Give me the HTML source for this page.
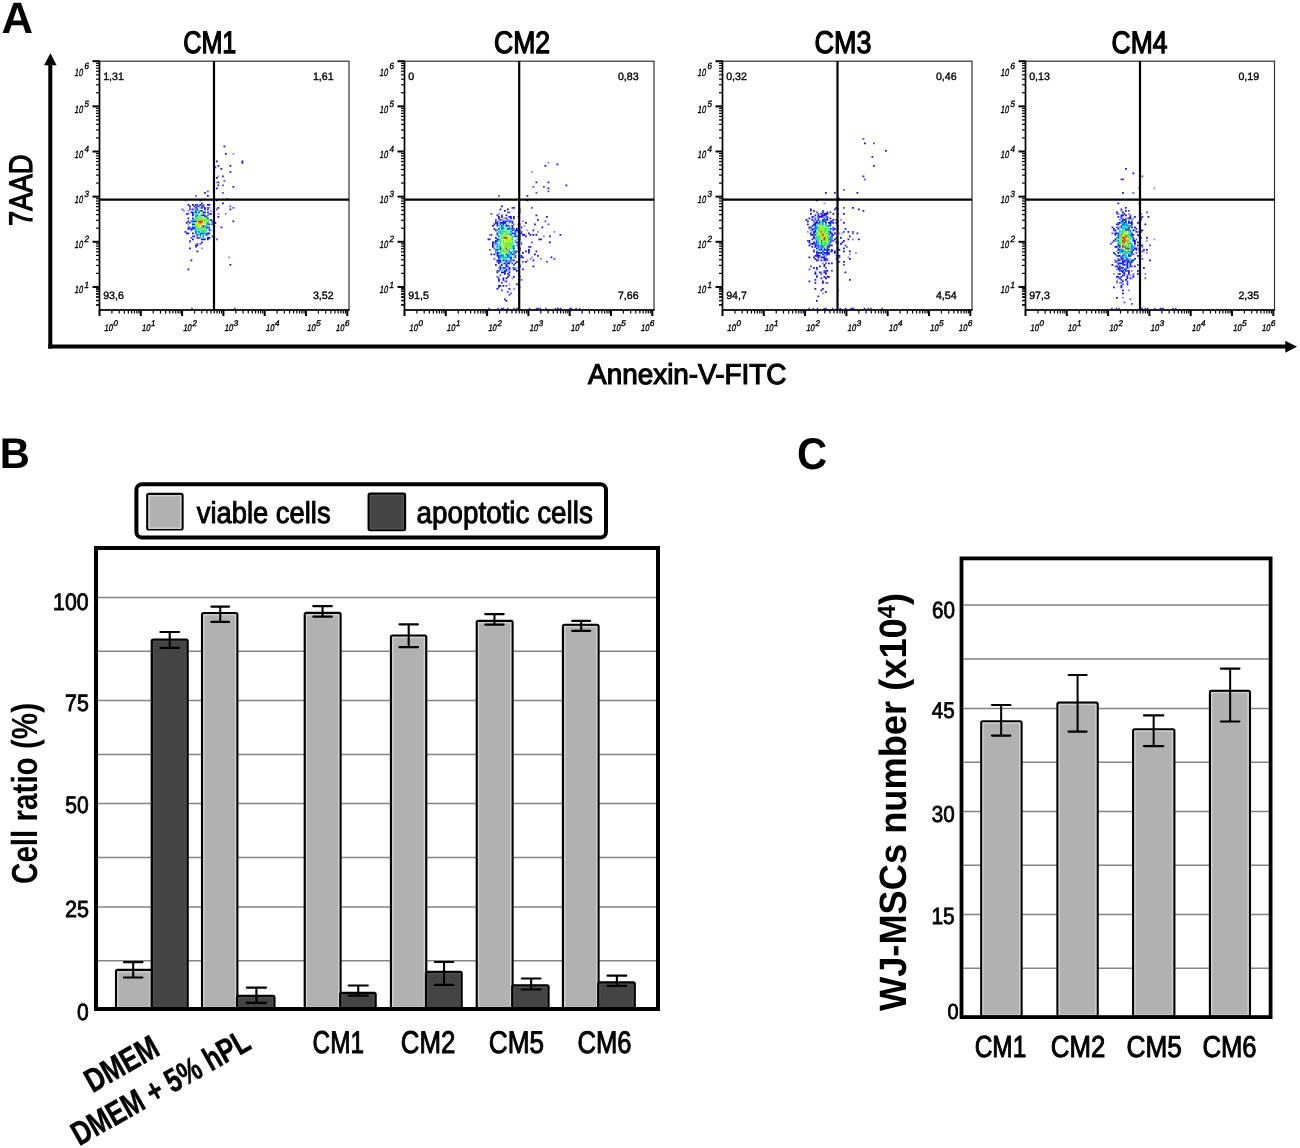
<!DOCTYPE html>
<html><head><meta charset="utf-8"><title>Figure</title>
<style>
html,body{margin:0;padding:0;background:#fff;}
body{width:1300px;height:1148px;overflow:hidden;}
svg{display:block;font-family:"Liberation Sans", sans-serif;filter:blur(0.35px);text-rendering:geometricPrecision;}
</style></head><body>
<svg width="1300" height="1148" viewBox="0 0 1300 1148">
<rect width="1300" height="1148" fill="#fff"/>
<line x1="50.30" y1="62.00" x2="50.30" y2="348.50" stroke="#000" stroke-width="4" stroke-linecap="butt"/>
<line x1="48.30" y1="346.60" x2="1288.00" y2="346.60" stroke="#000" stroke-width="4" stroke-linecap="butt"/>
<polygon points="50.4,53.3 44,65.2 56.6,65.2" fill="#000"/>
<polygon points="1297,346.8 1285.3,340.8 1285.3,352.8" fill="#000"/>
<text transform="translate(31.9,226) rotate(-90)" font-size="32.7" textLength="71.5" lengthAdjust="spacingAndGlyphs" stroke="#000" stroke-width="1.2">7AAD</text>
<rect x="99.5" y="61.2" width="249.5" height="248.8" fill="#fff" stroke="#333" stroke-width="1.2"/>
<path d="M201.0 210.0h1.8v1.8h-1.8zM207.0 232.5h1.8v1.8h-1.8zM192.0 232.5h1.8v1.8h-1.8zM186.0 213.0h1.8v1.8h-1.8zM217.5 207.0h1.8v1.8h-1.8zM204.0 211.5h1.8v1.8h-1.8zM187.5 228.0h1.8v1.8h-1.8zM189.0 205.5h1.8v1.8h-1.8zM208.5 237.0h1.8v1.8h-1.8zM192.0 223.5h1.8v1.8h-1.8zM207.0 195.0h1.8v1.8h-1.8zM207.0 204.0h1.8v1.8h-1.8zM213.0 231.0h1.8v1.8h-1.8zM195.0 210.0h1.8v1.8h-1.8zM196.5 205.5h1.8v1.8h-1.8zM196.5 250.5h1.8v1.8h-1.8zM195.0 244.5h1.8v1.8h-1.8zM207.0 208.5h1.8v1.8h-1.8zM210.0 213.0h1.8v1.8h-1.8zM207.0 226.5h1.8v1.8h-1.8zM195.0 204.0h1.8v1.8h-1.8zM187.5 232.5h1.8v1.8h-1.8zM195.0 231.0h1.8v1.8h-1.8zM213.0 214.5h1.8v1.8h-1.8zM213.0 208.5h1.8v1.8h-1.8zM186.0 222.0h1.8v1.8h-1.8zM204.0 238.5h1.8v1.8h-1.8zM192.0 208.5h1.8v1.8h-1.8zM202.5 205.5h1.8v1.8h-1.8zM184.5 231.0h1.8v1.8h-1.8zM208.5 223.5h1.8v1.8h-1.8zM187.5 217.5h1.8v1.8h-1.8zM192.0 211.5h1.8v1.8h-1.8zM199.5 204.0h1.8v1.8h-1.8zM193.5 235.5h1.8v1.8h-1.8zM202.5 211.5h1.8v1.8h-1.8zM193.5 220.5h1.8v1.8h-1.8zM207.0 238.5h1.8v1.8h-1.8zM201.0 241.5h1.8v1.8h-1.8zM193.5 205.5h1.8v1.8h-1.8zM190.5 211.5h1.8v1.8h-1.8zM204.0 208.5h1.8v1.8h-1.8zM214.5 222.0h1.8v1.8h-1.8zM207.0 217.5h1.8v1.8h-1.8zM199.5 199.5h1.8v1.8h-1.8zM196.5 234.0h1.8v1.8h-1.8zM211.5 223.5h1.8v1.8h-1.8zM201.0 232.5h1.8v1.8h-1.8zM192.0 204.0h1.8v1.8h-1.8zM192.0 217.5h1.8v1.8h-1.8zM205.5 234.0h1.8v1.8h-1.8zM207.0 237.0h1.8v1.8h-1.8zM202.5 238.5h1.8v1.8h-1.8zM193.5 223.5h1.8v1.8h-1.8zM201.0 207.0h1.8v1.8h-1.8zM186.0 232.5h1.8v1.8h-1.8zM187.5 204.0h1.8v1.8h-1.8zM213.0 222.0h1.8v1.8h-1.8zM202.5 214.5h1.8v1.8h-1.8zM208.5 204.0h1.8v1.8h-1.8zM187.5 220.5h1.8v1.8h-1.8zM201.0 238.5h1.8v1.8h-1.8zM196.5 244.5h1.8v1.8h-1.8zM196.5 208.5h1.8v1.8h-1.8zM204.0 207.0h1.8v1.8h-1.8zM190.5 228.0h1.8v1.8h-1.8zM213.0 238.5h1.8v1.8h-1.8zM192.0 213.0h1.8v1.8h-1.8zM192.0 214.5h1.8v1.8h-1.8zM208.5 232.5h1.8v1.8h-1.8zM204.0 192.0h1.8v1.8h-1.8zM207.0 211.5h1.8v1.8h-1.8zM222.0 175.5h1.8v1.8h-1.8zM223.5 145.5h1.8v1.8h-1.8zM217.5 216.0h1.8v1.8h-1.8zM220.5 168.0h1.8v1.8h-1.8zM216.0 199.5h1.8v1.8h-1.8zM216.0 177.0h1.8v1.8h-1.8zM217.5 184.5h1.8v1.8h-1.8zM217.5 181.5h1.8v1.8h-1.8zM222.0 202.5h1.8v1.8h-1.8zM214.5 166.5h1.8v1.8h-1.8zM217.5 165.0h1.8v1.8h-1.8zM226.5 198.0h1.8v1.8h-1.8zM232.5 186.0h1.8v1.8h-1.8zM225.0 153.0h1.8v1.8h-1.8zM241.5 160.5h1.8v1.8h-1.8zM216.0 160.5h1.8v1.8h-1.8zM216.0 187.5h1.8v1.8h-1.8zM229.5 171.0h1.8v1.8h-1.8zM229.5 165.0h1.8v1.8h-1.8zM241.5 162.0h1.8v1.8h-1.8zM220.5 226.5h1.8v1.8h-1.8zM229.5 208.5h1.8v1.8h-1.8zM232.5 220.5h1.8v1.8h-1.8zM229.5 264.0h1.8v1.8h-1.8zM190.5 259.5h1.8v1.8h-1.8zM189.0 247.5h1.8v1.8h-1.8zM196.5 237.0h1.8v1.8h-1.8zM187.5 268.5h1.8v1.8h-1.8zM192.0 238.5h1.8v1.8h-1.8z" fill="rgb(20, 20, 255)"/>
<path d="M187.5 210.0h1.8v1.8h-1.8zM189.0 207.0h1.8v1.8h-1.8zM187.5 223.5h1.8v1.8h-1.8zM210.0 229.5h1.8v1.8h-1.8zM199.5 237.0h1.8v1.8h-1.8zM190.5 208.5h1.8v1.8h-1.8zM196.5 235.5h1.8v1.8h-1.8zM204.0 232.5h1.8v1.8h-1.8zM189.0 241.5h1.8v1.8h-1.8zM183.0 210.0h1.8v1.8h-1.8zM211.5 222.0h1.8v1.8h-1.8zM193.5 208.5h1.8v1.8h-1.8zM201.0 204.0h1.8v1.8h-1.8zM210.0 210.0h1.8v1.8h-1.8zM208.5 207.0h1.8v1.8h-1.8zM232.5 153.0h1.8v1.8h-1.8zM217.5 213.0h1.8v1.8h-1.8zM216.0 181.5h1.8v1.8h-1.8zM217.5 175.5h1.8v1.8h-1.8zM228.0 256.5h1.8v1.8h-1.8zM225.0 213.0h1.8v1.8h-1.8zM201.0 247.5h1.8v1.8h-1.8z" fill="rgb(135, 135, 255)"/>
<path d="M201.0 205.5h1.8v1.8h-1.8zM216.0 238.5h1.8v1.8h-1.8zM192.0 235.5h1.8v1.8h-1.8zM189.0 208.5h1.8v1.8h-1.8zM216.0 208.5h1.8v1.8h-1.8zM198.0 205.5h1.8v1.8h-1.8zM181.5 208.5h1.8v1.8h-1.8zM208.5 228.0h1.8v1.8h-1.8zM195.0 195.0h1.8v1.8h-1.8zM198.0 237.0h1.8v1.8h-1.8zM187.5 226.5h1.8v1.8h-1.8zM189.0 222.0h1.8v1.8h-1.8zM189.0 240.0h1.8v1.8h-1.8zM184.5 199.5h1.8v1.8h-1.8zM202.5 204.0h1.8v1.8h-1.8zM202.5 235.5h1.8v1.8h-1.8zM190.5 220.5h1.8v1.8h-1.8zM196.5 204.0h1.8v1.8h-1.8zM193.5 228.0h1.8v1.8h-1.8zM190.5 229.5h1.8v1.8h-1.8zM196.5 243.0h1.8v1.8h-1.8zM207.0 214.5h1.8v1.8h-1.8zM187.5 213.0h1.8v1.8h-1.8zM189.0 228.0h1.8v1.8h-1.8zM208.5 213.0h1.8v1.8h-1.8zM208.5 229.5h1.8v1.8h-1.8zM195.0 246.0h1.8v1.8h-1.8zM189.0 226.5h1.8v1.8h-1.8zM190.5 237.0h1.8v1.8h-1.8zM207.0 207.0h1.8v1.8h-1.8zM201.0 202.5h1.8v1.8h-1.8zM213.0 207.0h1.8v1.8h-1.8zM211.5 235.5h1.8v1.8h-1.8zM222.0 184.5h1.8v1.8h-1.8zM232.5 207.0h1.8v1.8h-1.8zM229.5 205.5h1.8v1.8h-1.8zM223.5 180.0h1.8v1.8h-1.8zM213.0 187.5h1.8v1.8h-1.8zM207.0 190.5h1.8v1.8h-1.8zM222.0 192.0h1.8v1.8h-1.8zM199.5 243.0h1.8v1.8h-1.8z" fill="rgb(75, 75, 255)"/>
<path d="M195.0 220.5h1.8v1.8h-1.8zM210.0 219.0h1.8v1.8h-1.8z" fill="rgb(0, 0, 255)"/>
<path d="M195.0 211.5h1.8v1.8h-1.8zM193.5 226.5h1.8v1.8h-1.8zM195.0 207.0h1.8v1.8h-1.8zM205.5 216.0h1.8v1.8h-1.8zM192.0 226.5h1.8v1.8h-1.8zM201.0 214.5h1.8v1.8h-1.8z" fill="rgb(0, 32, 255)"/>
<path d="M198.0 211.5h1.8v1.8h-1.8zM196.5 214.5h1.8v1.8h-1.8zM192.0 220.5h1.8v1.8h-1.8zM199.5 234.0h1.8v1.8h-1.8zM211.5 220.5h1.8v1.8h-1.8zM204.0 214.5h1.8v1.8h-1.8z" fill="rgb(0, 64, 255)"/>
<path d="M198.0 231.0h1.8v1.8h-1.8zM199.5 232.5h1.8v1.8h-1.8zM202.5 232.5h1.8v1.8h-1.8zM192.0 228.0h1.8v1.8h-1.8zM199.5 210.0h1.8v1.8h-1.8zM195.0 216.0h1.8v1.8h-1.8z" fill="rgb(0, 96, 255)"/>
<path d="M202.5 213.0h1.8v1.8h-1.8zM207.0 222.0h1.8v1.8h-1.8zM202.5 226.5h1.8v1.8h-1.8zM204.0 216.0h1.8v1.8h-1.8zM195.0 232.5h1.8v1.8h-1.8zM207.0 223.5h1.8v1.8h-1.8zM205.5 232.5h1.8v1.8h-1.8z" fill="rgb(0, 128, 255)"/>
<path d="M205.5 225.0h1.8v1.8h-1.8zM208.5 226.5h1.8v1.8h-1.8zM193.5 219.0h1.8v1.8h-1.8zM205.5 228.0h1.8v1.8h-1.8zM205.5 226.5h1.8v1.8h-1.8zM202.5 229.5h1.8v1.8h-1.8z" fill="rgb(0, 160, 255)"/>
<path d="M195.0 214.5h1.8v1.8h-1.8zM192.0 219.0h1.8v1.8h-1.8zM207.0 234.0h1.8v1.8h-1.8zM202.5 234.0h1.8v1.8h-1.8zM201.0 226.5h1.8v1.8h-1.8zM205.5 222.0h1.8v1.8h-1.8zM198.0 228.0h1.8v1.8h-1.8zM195.0 228.0h1.8v1.8h-1.8zM195.0 229.5h1.8v1.8h-1.8z" fill="rgb(0, 192, 255)"/>
<path d="M202.5 237.0h1.8v1.8h-1.8zM193.5 211.5h1.8v1.8h-1.8zM192.0 225.0h1.8v1.8h-1.8z" fill="rgb(0, 224, 255)"/>
<path d="M196.5 213.0h1.8v1.8h-1.8zM199.5 235.5h1.8v1.8h-1.8zM195.0 213.0h1.8v1.8h-1.8zM196.5 231.0h1.8v1.8h-1.8zM196.5 217.5h1.8v1.8h-1.8z" fill="rgb(0, 224, 224)"/>
<path d="M192.0 222.0h1.8v1.8h-1.8zM195.0 226.5h1.8v1.8h-1.8z" fill="rgb(0, 224, 192)"/>
<path d="M196.5 210.0h1.8v1.8h-1.8zM195.0 225.0h1.8v1.8h-1.8zM199.5 207.0h1.8v1.8h-1.8zM201.0 228.0h1.8v1.8h-1.8zM195.0 219.0h1.8v1.8h-1.8zM204.0 225.0h1.8v1.8h-1.8z" fill="rgb(32, 224, 192)"/>
<path d="M207.0 219.0h1.8v1.8h-1.8zM196.5 228.0h1.8v1.8h-1.8zM198.0 232.5h1.8v1.8h-1.8zM202.5 231.0h1.8v1.8h-1.8zM201.0 231.0h1.8v1.8h-1.8zM204.0 231.0h1.8v1.8h-1.8zM205.5 229.5h1.8v1.8h-1.8zM204.0 226.5h1.8v1.8h-1.8zM198.0 210.0h1.8v1.8h-1.8z" fill="rgb(32, 224, 160)"/>
<path d="M199.5 214.5h1.8v1.8h-1.8zM204.0 220.5h1.8v1.8h-1.8zM199.5 228.0h1.8v1.8h-1.8zM198.0 229.5h1.8v1.8h-1.8z" fill="rgb(32, 255, 128)"/>
<path d="M204.0 228.0h1.8v1.8h-1.8zM196.5 219.0h1.8v1.8h-1.8z" fill="rgb(64, 255, 128)"/>
<path d="M201.0 234.0h1.8v1.8h-1.8zM198.0 216.0h1.8v1.8h-1.8zM201.0 229.5h1.8v1.8h-1.8zM201.0 225.0h1.8v1.8h-1.8zM205.5 217.5h1.8v1.8h-1.8z" fill="rgb(64, 255, 96)"/>
<path d="M202.5 219.0h1.8v1.8h-1.8zM199.5 229.5h1.8v1.8h-1.8zM199.5 217.5h1.8v1.8h-1.8zM195.0 217.5h1.8v1.8h-1.8zM204.0 219.0h1.8v1.8h-1.8zM207.0 220.5h1.8v1.8h-1.8z" fill="rgb(64, 255, 64)"/>
<path d="M196.5 220.5h1.8v1.8h-1.8zM193.5 225.0h1.8v1.8h-1.8zM205.5 231.0h1.8v1.8h-1.8zM201.0 213.0h1.8v1.8h-1.8zM205.5 223.5h1.8v1.8h-1.8z" fill="rgb(96, 255, 64)"/>
<path d="M208.5 219.0h1.8v1.8h-1.8zM204.0 229.5h1.8v1.8h-1.8zM196.5 216.0h1.8v1.8h-1.8zM201.0 217.5h1.8v1.8h-1.8z" fill="rgb(96, 255, 32)"/>
<path d="M196.5 225.0h1.8v1.8h-1.8zM196.5 226.5h1.8v1.8h-1.8zM198.0 219.0h1.8v1.8h-1.8zM195.0 223.5h1.8v1.8h-1.8zM199.5 223.5h1.8v1.8h-1.8z" fill="rgb(128, 255, 32)"/>
<path d="M205.5 219.0h1.8v1.8h-1.8zM201.0 219.0h1.8v1.8h-1.8zM199.5 216.0h1.8v1.8h-1.8zM196.5 222.0h1.8v1.8h-1.8z" fill="rgb(128, 255, 0)"/>
<path d="M204.0 222.0h1.8v1.8h-1.8zM204.0 217.5h1.8v1.8h-1.8z" fill="rgb(160, 255, 0)"/>
<path d="M202.5 228.0h1.8v1.8h-1.8zM202.5 222.0h1.8v1.8h-1.8zM196.5 223.5h1.8v1.8h-1.8zM199.5 219.0h1.8v1.8h-1.8zM198.0 226.5h1.8v1.8h-1.8zM202.5 217.5h1.8v1.8h-1.8zM201.0 211.5h1.8v1.8h-1.8zM205.5 220.5h1.8v1.8h-1.8z" fill="rgb(192, 255, 0)"/>
<path d="M198.0 223.5h1.8v1.8h-1.8z" fill="rgb(224, 224, 0)"/>
<path d="M201.0 223.5h1.8v1.8h-1.8z" fill="rgb(255, 224, 0)"/>
<path d="M201.0 222.0h1.8v1.8h-1.8zM198.0 222.0h1.8v1.8h-1.8zM198.0 225.0h1.8v1.8h-1.8z" fill="rgb(255, 192, 0)"/>
<path d="M199.5 222.0h1.8v1.8h-1.8z" fill="rgb(255, 64, 0)"/>
<path d="M198.0 220.5h1.8v1.8h-1.8zM199.5 220.5h1.8v1.8h-1.8zM202.5 225.0h1.8v1.8h-1.8zM201.0 220.5h1.8v1.8h-1.8z" fill="rgb(255, 32, 0)"/>
<path d="M234.2 307.7h1.6v1.6h-1.6zM191.2 307.7h1.6v1.6h-1.6z" fill="rgb(50,50,255)"/>
<line x1="99.50" y1="199.60" x2="349.00" y2="199.60" stroke="#000" stroke-width="2.2" stroke-linecap="butt"/>
<line x1="214.00" y1="61.20" x2="214.00" y2="310.00" stroke="#000" stroke-width="2.2" stroke-linecap="butt"/>
<line x1="92.50" y1="61.20" x2="99.50" y2="61.20" stroke="#000" stroke-width="2" stroke-linecap="butt"/>
<line x1="96.00" y1="92.76" x2="99.50" y2="92.76" stroke="#000" stroke-width="1.2" stroke-linecap="butt"/>
<line x1="96.00" y1="84.81" x2="99.50" y2="84.81" stroke="#000" stroke-width="1.2" stroke-linecap="butt"/>
<line x1="96.00" y1="79.17" x2="99.50" y2="79.17" stroke="#000" stroke-width="1.2" stroke-linecap="butt"/>
<line x1="96.00" y1="74.79" x2="99.50" y2="74.79" stroke="#000" stroke-width="1.2" stroke-linecap="butt"/>
<line x1="96.00" y1="71.22" x2="99.50" y2="71.22" stroke="#000" stroke-width="1.2" stroke-linecap="butt"/>
<line x1="96.00" y1="68.19" x2="99.50" y2="68.19" stroke="#000" stroke-width="1.2" stroke-linecap="butt"/>
<line x1="96.00" y1="65.58" x2="99.50" y2="65.58" stroke="#000" stroke-width="1.2" stroke-linecap="butt"/>
<line x1="96.00" y1="63.27" x2="99.50" y2="63.27" stroke="#000" stroke-width="1.2" stroke-linecap="butt"/>
<line x1="92.50" y1="106.35" x2="99.50" y2="106.35" stroke="#000" stroke-width="2" stroke-linecap="butt"/>
<line x1="96.00" y1="137.91" x2="99.50" y2="137.91" stroke="#000" stroke-width="1.2" stroke-linecap="butt"/>
<line x1="96.00" y1="129.96" x2="99.50" y2="129.96" stroke="#000" stroke-width="1.2" stroke-linecap="butt"/>
<line x1="96.00" y1="124.32" x2="99.50" y2="124.32" stroke="#000" stroke-width="1.2" stroke-linecap="butt"/>
<line x1="96.00" y1="119.94" x2="99.50" y2="119.94" stroke="#000" stroke-width="1.2" stroke-linecap="butt"/>
<line x1="96.00" y1="116.37" x2="99.50" y2="116.37" stroke="#000" stroke-width="1.2" stroke-linecap="butt"/>
<line x1="96.00" y1="113.34" x2="99.50" y2="113.34" stroke="#000" stroke-width="1.2" stroke-linecap="butt"/>
<line x1="96.00" y1="110.73" x2="99.50" y2="110.73" stroke="#000" stroke-width="1.2" stroke-linecap="butt"/>
<line x1="96.00" y1="108.42" x2="99.50" y2="108.42" stroke="#000" stroke-width="1.2" stroke-linecap="butt"/>
<line x1="92.50" y1="151.50" x2="99.50" y2="151.50" stroke="#000" stroke-width="2" stroke-linecap="butt"/>
<line x1="96.00" y1="183.06" x2="99.50" y2="183.06" stroke="#000" stroke-width="1.2" stroke-linecap="butt"/>
<line x1="96.00" y1="175.11" x2="99.50" y2="175.11" stroke="#000" stroke-width="1.2" stroke-linecap="butt"/>
<line x1="96.00" y1="169.47" x2="99.50" y2="169.47" stroke="#000" stroke-width="1.2" stroke-linecap="butt"/>
<line x1="96.00" y1="165.09" x2="99.50" y2="165.09" stroke="#000" stroke-width="1.2" stroke-linecap="butt"/>
<line x1="96.00" y1="161.52" x2="99.50" y2="161.52" stroke="#000" stroke-width="1.2" stroke-linecap="butt"/>
<line x1="96.00" y1="158.49" x2="99.50" y2="158.49" stroke="#000" stroke-width="1.2" stroke-linecap="butt"/>
<line x1="96.00" y1="155.88" x2="99.50" y2="155.88" stroke="#000" stroke-width="1.2" stroke-linecap="butt"/>
<line x1="96.00" y1="153.57" x2="99.50" y2="153.57" stroke="#000" stroke-width="1.2" stroke-linecap="butt"/>
<line x1="92.50" y1="196.65" x2="99.50" y2="196.65" stroke="#000" stroke-width="2" stroke-linecap="butt"/>
<line x1="96.00" y1="228.21" x2="99.50" y2="228.21" stroke="#000" stroke-width="1.2" stroke-linecap="butt"/>
<line x1="96.00" y1="220.26" x2="99.50" y2="220.26" stroke="#000" stroke-width="1.2" stroke-linecap="butt"/>
<line x1="96.00" y1="214.62" x2="99.50" y2="214.62" stroke="#000" stroke-width="1.2" stroke-linecap="butt"/>
<line x1="96.00" y1="210.24" x2="99.50" y2="210.24" stroke="#000" stroke-width="1.2" stroke-linecap="butt"/>
<line x1="96.00" y1="206.67" x2="99.50" y2="206.67" stroke="#000" stroke-width="1.2" stroke-linecap="butt"/>
<line x1="96.00" y1="203.64" x2="99.50" y2="203.64" stroke="#000" stroke-width="1.2" stroke-linecap="butt"/>
<line x1="96.00" y1="201.03" x2="99.50" y2="201.03" stroke="#000" stroke-width="1.2" stroke-linecap="butt"/>
<line x1="96.00" y1="198.72" x2="99.50" y2="198.72" stroke="#000" stroke-width="1.2" stroke-linecap="butt"/>
<line x1="92.50" y1="241.80" x2="99.50" y2="241.80" stroke="#000" stroke-width="2" stroke-linecap="butt"/>
<line x1="96.00" y1="273.36" x2="99.50" y2="273.36" stroke="#000" stroke-width="1.2" stroke-linecap="butt"/>
<line x1="96.00" y1="265.41" x2="99.50" y2="265.41" stroke="#000" stroke-width="1.2" stroke-linecap="butt"/>
<line x1="96.00" y1="259.77" x2="99.50" y2="259.77" stroke="#000" stroke-width="1.2" stroke-linecap="butt"/>
<line x1="96.00" y1="255.39" x2="99.50" y2="255.39" stroke="#000" stroke-width="1.2" stroke-linecap="butt"/>
<line x1="96.00" y1="251.82" x2="99.50" y2="251.82" stroke="#000" stroke-width="1.2" stroke-linecap="butt"/>
<line x1="96.00" y1="248.79" x2="99.50" y2="248.79" stroke="#000" stroke-width="1.2" stroke-linecap="butt"/>
<line x1="96.00" y1="246.18" x2="99.50" y2="246.18" stroke="#000" stroke-width="1.2" stroke-linecap="butt"/>
<line x1="96.00" y1="243.87" x2="99.50" y2="243.87" stroke="#000" stroke-width="1.2" stroke-linecap="butt"/>
<line x1="92.50" y1="286.95" x2="99.50" y2="286.95" stroke="#000" stroke-width="2" stroke-linecap="butt"/>
<line x1="96.00" y1="304.92" x2="99.50" y2="304.92" stroke="#000" stroke-width="1.2" stroke-linecap="butt"/>
<line x1="96.00" y1="300.54" x2="99.50" y2="300.54" stroke="#000" stroke-width="1.2" stroke-linecap="butt"/>
<line x1="96.00" y1="296.97" x2="99.50" y2="296.97" stroke="#000" stroke-width="1.2" stroke-linecap="butt"/>
<line x1="96.00" y1="293.94" x2="99.50" y2="293.94" stroke="#000" stroke-width="1.2" stroke-linecap="butt"/>
<line x1="96.00" y1="291.33" x2="99.50" y2="291.33" stroke="#000" stroke-width="1.2" stroke-linecap="butt"/>
<line x1="96.00" y1="289.02" x2="99.50" y2="289.02" stroke="#000" stroke-width="1.2" stroke-linecap="butt"/>
<line x1="96.00" y1="304.92" x2="99.50" y2="304.92" stroke="#000" stroke-width="1.2" stroke-linecap="butt"/>
<line x1="96.00" y1="300.54" x2="99.50" y2="300.54" stroke="#000" stroke-width="1.2" stroke-linecap="butt"/>
<line x1="96.00" y1="296.97" x2="99.50" y2="296.97" stroke="#000" stroke-width="1.2" stroke-linecap="butt"/>
<line x1="96.00" y1="293.94" x2="99.50" y2="293.94" stroke="#000" stroke-width="1.2" stroke-linecap="butt"/>
<line x1="96.00" y1="291.33" x2="99.50" y2="291.33" stroke="#000" stroke-width="1.2" stroke-linecap="butt"/>
<line x1="96.00" y1="289.02" x2="99.50" y2="289.02" stroke="#000" stroke-width="1.2" stroke-linecap="butt"/>
<line x1="99.50" y1="310.00" x2="99.50" y2="316.00" stroke="#000" stroke-width="2" stroke-linecap="butt"/>
<line x1="111.93" y1="310.00" x2="111.93" y2="313.50" stroke="#000" stroke-width="1.2" stroke-linecap="butt"/>
<line x1="119.21" y1="310.00" x2="119.21" y2="313.50" stroke="#000" stroke-width="1.2" stroke-linecap="butt"/>
<line x1="124.37" y1="310.00" x2="124.37" y2="313.50" stroke="#000" stroke-width="1.2" stroke-linecap="butt"/>
<line x1="128.37" y1="310.00" x2="128.37" y2="313.50" stroke="#000" stroke-width="1.2" stroke-linecap="butt"/>
<line x1="131.64" y1="310.00" x2="131.64" y2="313.50" stroke="#000" stroke-width="1.2" stroke-linecap="butt"/>
<line x1="134.40" y1="310.00" x2="134.40" y2="313.50" stroke="#000" stroke-width="1.2" stroke-linecap="butt"/>
<line x1="136.80" y1="310.00" x2="136.80" y2="313.50" stroke="#000" stroke-width="1.2" stroke-linecap="butt"/>
<line x1="138.91" y1="310.00" x2="138.91" y2="313.50" stroke="#000" stroke-width="1.2" stroke-linecap="butt"/>
<line x1="140.80" y1="310.00" x2="140.80" y2="316.00" stroke="#000" stroke-width="2" stroke-linecap="butt"/>
<line x1="153.23" y1="310.00" x2="153.23" y2="313.50" stroke="#000" stroke-width="1.2" stroke-linecap="butt"/>
<line x1="160.51" y1="310.00" x2="160.51" y2="313.50" stroke="#000" stroke-width="1.2" stroke-linecap="butt"/>
<line x1="165.67" y1="310.00" x2="165.67" y2="313.50" stroke="#000" stroke-width="1.2" stroke-linecap="butt"/>
<line x1="169.67" y1="310.00" x2="169.67" y2="313.50" stroke="#000" stroke-width="1.2" stroke-linecap="butt"/>
<line x1="172.94" y1="310.00" x2="172.94" y2="313.50" stroke="#000" stroke-width="1.2" stroke-linecap="butt"/>
<line x1="175.70" y1="310.00" x2="175.70" y2="313.50" stroke="#000" stroke-width="1.2" stroke-linecap="butt"/>
<line x1="178.10" y1="310.00" x2="178.10" y2="313.50" stroke="#000" stroke-width="1.2" stroke-linecap="butt"/>
<line x1="180.21" y1="310.00" x2="180.21" y2="313.50" stroke="#000" stroke-width="1.2" stroke-linecap="butt"/>
<line x1="182.10" y1="310.00" x2="182.10" y2="316.00" stroke="#000" stroke-width="2" stroke-linecap="butt"/>
<line x1="194.53" y1="310.00" x2="194.53" y2="313.50" stroke="#000" stroke-width="1.2" stroke-linecap="butt"/>
<line x1="201.81" y1="310.00" x2="201.81" y2="313.50" stroke="#000" stroke-width="1.2" stroke-linecap="butt"/>
<line x1="206.97" y1="310.00" x2="206.97" y2="313.50" stroke="#000" stroke-width="1.2" stroke-linecap="butt"/>
<line x1="210.97" y1="310.00" x2="210.97" y2="313.50" stroke="#000" stroke-width="1.2" stroke-linecap="butt"/>
<line x1="214.24" y1="310.00" x2="214.24" y2="313.50" stroke="#000" stroke-width="1.2" stroke-linecap="butt"/>
<line x1="217.00" y1="310.00" x2="217.00" y2="313.50" stroke="#000" stroke-width="1.2" stroke-linecap="butt"/>
<line x1="219.40" y1="310.00" x2="219.40" y2="313.50" stroke="#000" stroke-width="1.2" stroke-linecap="butt"/>
<line x1="221.51" y1="310.00" x2="221.51" y2="313.50" stroke="#000" stroke-width="1.2" stroke-linecap="butt"/>
<line x1="223.40" y1="310.00" x2="223.40" y2="316.00" stroke="#000" stroke-width="2" stroke-linecap="butt"/>
<line x1="235.83" y1="310.00" x2="235.83" y2="313.50" stroke="#000" stroke-width="1.2" stroke-linecap="butt"/>
<line x1="243.11" y1="310.00" x2="243.11" y2="313.50" stroke="#000" stroke-width="1.2" stroke-linecap="butt"/>
<line x1="248.27" y1="310.00" x2="248.27" y2="313.50" stroke="#000" stroke-width="1.2" stroke-linecap="butt"/>
<line x1="252.27" y1="310.00" x2="252.27" y2="313.50" stroke="#000" stroke-width="1.2" stroke-linecap="butt"/>
<line x1="255.54" y1="310.00" x2="255.54" y2="313.50" stroke="#000" stroke-width="1.2" stroke-linecap="butt"/>
<line x1="258.30" y1="310.00" x2="258.30" y2="313.50" stroke="#000" stroke-width="1.2" stroke-linecap="butt"/>
<line x1="260.70" y1="310.00" x2="260.70" y2="313.50" stroke="#000" stroke-width="1.2" stroke-linecap="butt"/>
<line x1="262.81" y1="310.00" x2="262.81" y2="313.50" stroke="#000" stroke-width="1.2" stroke-linecap="butt"/>
<line x1="264.70" y1="310.00" x2="264.70" y2="316.00" stroke="#000" stroke-width="2" stroke-linecap="butt"/>
<line x1="277.13" y1="310.00" x2="277.13" y2="313.50" stroke="#000" stroke-width="1.2" stroke-linecap="butt"/>
<line x1="284.41" y1="310.00" x2="284.41" y2="313.50" stroke="#000" stroke-width="1.2" stroke-linecap="butt"/>
<line x1="289.57" y1="310.00" x2="289.57" y2="313.50" stroke="#000" stroke-width="1.2" stroke-linecap="butt"/>
<line x1="293.57" y1="310.00" x2="293.57" y2="313.50" stroke="#000" stroke-width="1.2" stroke-linecap="butt"/>
<line x1="296.84" y1="310.00" x2="296.84" y2="313.50" stroke="#000" stroke-width="1.2" stroke-linecap="butt"/>
<line x1="299.60" y1="310.00" x2="299.60" y2="313.50" stroke="#000" stroke-width="1.2" stroke-linecap="butt"/>
<line x1="302.00" y1="310.00" x2="302.00" y2="313.50" stroke="#000" stroke-width="1.2" stroke-linecap="butt"/>
<line x1="304.11" y1="310.00" x2="304.11" y2="313.50" stroke="#000" stroke-width="1.2" stroke-linecap="butt"/>
<line x1="306.00" y1="310.00" x2="306.00" y2="316.00" stroke="#000" stroke-width="2" stroke-linecap="butt"/>
<line x1="318.43" y1="310.00" x2="318.43" y2="313.50" stroke="#000" stroke-width="1.2" stroke-linecap="butt"/>
<line x1="325.71" y1="310.00" x2="325.71" y2="313.50" stroke="#000" stroke-width="1.2" stroke-linecap="butt"/>
<line x1="330.87" y1="310.00" x2="330.87" y2="313.50" stroke="#000" stroke-width="1.2" stroke-linecap="butt"/>
<line x1="334.87" y1="310.00" x2="334.87" y2="313.50" stroke="#000" stroke-width="1.2" stroke-linecap="butt"/>
<line x1="338.14" y1="310.00" x2="338.14" y2="313.50" stroke="#000" stroke-width="1.2" stroke-linecap="butt"/>
<line x1="340.90" y1="310.00" x2="340.90" y2="313.50" stroke="#000" stroke-width="1.2" stroke-linecap="butt"/>
<line x1="343.30" y1="310.00" x2="343.30" y2="313.50" stroke="#000" stroke-width="1.2" stroke-linecap="butt"/>
<line x1="345.41" y1="310.00" x2="345.41" y2="313.50" stroke="#000" stroke-width="1.2" stroke-linecap="butt"/>
<line x1="347.30" y1="310.00" x2="347.30" y2="316.00" stroke="#000" stroke-width="2" stroke-linecap="butt"/>
<line x1="99.50" y1="60.70" x2="99.50" y2="310.60" stroke="#000" stroke-width="1.6" stroke-linecap="butt"/>
<line x1="98.90" y1="310.00" x2="349.60" y2="310.00" stroke="#000" stroke-width="1.6" stroke-linecap="butt"/>
<text transform="translate(74.30,75.80) skewX(-10)" font-size="10.4" textLength="8.2" lengthAdjust="spacingAndGlyphs" stroke="#000" stroke-width="0.35">10</text>
<text transform="translate(83.90,69.00) skewX(-10)" font-size="9.0" textLength="4.6" lengthAdjust="spacingAndGlyphs" stroke="#000" stroke-width="0.35">6</text>
<text transform="translate(74.30,112.75) skewX(-10)" font-size="10.4" textLength="8.2" lengthAdjust="spacingAndGlyphs" stroke="#000" stroke-width="0.35">10</text>
<text transform="translate(83.90,106.95) skewX(-10)" font-size="9.0" textLength="4.6" lengthAdjust="spacingAndGlyphs" stroke="#000" stroke-width="0.35">5</text>
<text transform="translate(74.30,157.90) skewX(-10)" font-size="10.4" textLength="8.2" lengthAdjust="spacingAndGlyphs" stroke="#000" stroke-width="0.35">10</text>
<text transform="translate(83.90,152.10) skewX(-10)" font-size="9.0" textLength="4.6" lengthAdjust="spacingAndGlyphs" stroke="#000" stroke-width="0.35">4</text>
<text transform="translate(74.30,203.05) skewX(-10)" font-size="10.4" textLength="8.2" lengthAdjust="spacingAndGlyphs" stroke="#000" stroke-width="0.35">10</text>
<text transform="translate(83.90,197.25) skewX(-10)" font-size="9.0" textLength="4.6" lengthAdjust="spacingAndGlyphs" stroke="#000" stroke-width="0.35">3</text>
<text transform="translate(74.30,248.20) skewX(-10)" font-size="10.4" textLength="8.2" lengthAdjust="spacingAndGlyphs" stroke="#000" stroke-width="0.35">10</text>
<text transform="translate(83.90,242.40) skewX(-10)" font-size="9.0" textLength="4.6" lengthAdjust="spacingAndGlyphs" stroke="#000" stroke-width="0.35">2</text>
<text transform="translate(74.30,293.35) skewX(-10)" font-size="10.4" textLength="8.2" lengthAdjust="spacingAndGlyphs" stroke="#000" stroke-width="0.35">10</text>
<text transform="translate(83.90,287.55) skewX(-10)" font-size="9.0" textLength="4.6" lengthAdjust="spacingAndGlyphs" stroke="#000" stroke-width="0.35">1</text>
<text transform="translate(104.10,331.40) skewX(-10)" font-size="9.6" textLength="8.4" lengthAdjust="spacingAndGlyphs" stroke="#000" stroke-width="0.35">10</text>
<text transform="translate(113.10,325.50) skewX(-10)" font-size="8.2" textLength="4.6" lengthAdjust="spacingAndGlyphs" stroke="#000" stroke-width="0.35">0</text>
<text transform="translate(141.60,331.40) skewX(-10)" font-size="9.6" textLength="8.4" lengthAdjust="spacingAndGlyphs" stroke="#000" stroke-width="0.35">10</text>
<text transform="translate(150.60,325.50) skewX(-10)" font-size="8.2" textLength="4.6" lengthAdjust="spacingAndGlyphs" stroke="#000" stroke-width="0.35">1</text>
<text transform="translate(182.90,331.40) skewX(-10)" font-size="9.6" textLength="8.4" lengthAdjust="spacingAndGlyphs" stroke="#000" stroke-width="0.35">10</text>
<text transform="translate(191.90,325.50) skewX(-10)" font-size="8.2" textLength="4.6" lengthAdjust="spacingAndGlyphs" stroke="#000" stroke-width="0.35">2</text>
<text transform="translate(224.20,331.40) skewX(-10)" font-size="9.6" textLength="8.4" lengthAdjust="spacingAndGlyphs" stroke="#000" stroke-width="0.35">10</text>
<text transform="translate(233.20,325.50) skewX(-10)" font-size="8.2" textLength="4.6" lengthAdjust="spacingAndGlyphs" stroke="#000" stroke-width="0.35">3</text>
<text transform="translate(265.50,331.40) skewX(-10)" font-size="9.6" textLength="8.4" lengthAdjust="spacingAndGlyphs" stroke="#000" stroke-width="0.35">10</text>
<text transform="translate(274.50,325.50) skewX(-10)" font-size="8.2" textLength="4.6" lengthAdjust="spacingAndGlyphs" stroke="#000" stroke-width="0.35">4</text>
<text transform="translate(306.80,331.40) skewX(-10)" font-size="9.6" textLength="8.4" lengthAdjust="spacingAndGlyphs" stroke="#000" stroke-width="0.35">10</text>
<text transform="translate(315.80,325.50) skewX(-10)" font-size="8.2" textLength="4.6" lengthAdjust="spacingAndGlyphs" stroke="#000" stroke-width="0.35">5</text>
<text transform="translate(335.50,331.40) skewX(-10)" font-size="9.6" textLength="8.4" lengthAdjust="spacingAndGlyphs" stroke="#000" stroke-width="0.35">10</text>
<text transform="translate(344.50,325.50) skewX(-10)" font-size="8.2" textLength="4.6" lengthAdjust="spacingAndGlyphs" stroke="#000" stroke-width="0.35">6</text>
<text x="103.2" y="80.2" font-size="10.61" text-anchor="start" fill="#000" stroke="#000" stroke-width="0.35">1,31</text>
<text x="333.6" y="80.2" font-size="10.61" text-anchor="end" fill="#000" stroke="#000" stroke-width="0.35">1,61</text>
<text x="103.2" y="299.0" font-size="10.61" text-anchor="start" fill="#000" stroke="#000" stroke-width="0.35">93,6</text>
<text x="333.6" y="299.0" font-size="10.61" text-anchor="end" fill="#000" stroke="#000" stroke-width="0.35">3,52</text>
<rect x="404.5" y="61.2" width="249.5" height="248.8" fill="#fff" stroke="#333" stroke-width="1.2"/>
<path d="M517.5 244.5h1.8v1.8h-1.8zM514.5 256.5h1.8v1.8h-1.8zM504.0 220.5h1.8v1.8h-1.8zM520.5 231.0h1.8v1.8h-1.8zM495.0 241.5h1.8v1.8h-1.8zM493.5 247.5h1.8v1.8h-1.8zM507.0 219.0h1.8v1.8h-1.8zM496.5 234.0h1.8v1.8h-1.8zM513.0 264.0h1.8v1.8h-1.8zM496.5 255.0h1.8v1.8h-1.8zM489.0 238.5h1.8v1.8h-1.8zM508.5 228.0h1.8v1.8h-1.8zM517.5 238.5h1.8v1.8h-1.8zM496.5 225.0h1.8v1.8h-1.8zM496.5 261.0h1.8v1.8h-1.8zM495.0 220.5h1.8v1.8h-1.8zM495.0 249.0h1.8v1.8h-1.8zM510.0 220.5h1.8v1.8h-1.8zM511.5 220.5h1.8v1.8h-1.8zM498.0 261.0h1.8v1.8h-1.8zM498.0 195.0h1.8v1.8h-1.8zM495.0 243.0h1.8v1.8h-1.8zM508.5 211.5h1.8v1.8h-1.8zM517.5 246.0h1.8v1.8h-1.8zM507.0 211.5h1.8v1.8h-1.8zM493.5 241.5h1.8v1.8h-1.8zM513.0 228.0h1.8v1.8h-1.8zM489.0 249.0h1.8v1.8h-1.8zM495.0 219.0h1.8v1.8h-1.8zM514.5 231.0h1.8v1.8h-1.8zM504.0 267.0h1.8v1.8h-1.8zM511.5 262.5h1.8v1.8h-1.8zM493.5 258.0h1.8v1.8h-1.8zM496.5 270.0h1.8v1.8h-1.8zM508.5 294.0h1.8v1.8h-1.8zM501.0 289.5h1.8v1.8h-1.8zM499.5 274.5h1.8v1.8h-1.8zM498.0 277.5h1.8v1.8h-1.8zM501.0 282.0h1.8v1.8h-1.8zM505.5 285.0h1.8v1.8h-1.8zM519.0 276.0h1.8v1.8h-1.8zM507.0 265.5h1.8v1.8h-1.8zM507.0 291.0h1.8v1.8h-1.8zM499.5 255.0h1.8v1.8h-1.8zM510.0 292.5h1.8v1.8h-1.8zM496.5 276.0h1.8v1.8h-1.8zM498.0 286.5h1.8v1.8h-1.8zM505.5 256.5h1.8v1.8h-1.8zM498.0 270.0h1.8v1.8h-1.8zM520.5 279.0h1.8v1.8h-1.8zM498.0 280.5h1.8v1.8h-1.8zM508.5 261.0h1.8v1.8h-1.8zM520.5 243.0h1.8v1.8h-1.8zM553.5 258.0h1.8v1.8h-1.8zM522.0 261.0h1.8v1.8h-1.8zM519.0 211.5h1.8v1.8h-1.8zM519.0 249.0h1.8v1.8h-1.8zM531.0 207.0h1.8v1.8h-1.8zM546.0 261.0h1.8v1.8h-1.8zM531.0 241.5h1.8v1.8h-1.8zM519.0 229.5h1.8v1.8h-1.8zM544.5 220.5h1.8v1.8h-1.8zM528.0 252.0h1.8v1.8h-1.8zM528.0 246.0h1.8v1.8h-1.8zM547.5 223.5h1.8v1.8h-1.8zM535.5 192.0h1.8v1.8h-1.8zM547.5 190.5h1.8v1.8h-1.8zM532.5 186.0h1.8v1.8h-1.8zM543.0 186.0h1.8v1.8h-1.8zM511.5 207.0h1.8v1.8h-1.8zM490.5 213.0h1.8v1.8h-1.8zM505.5 223.5h1.8v1.8h-1.8zM519.0 208.5h1.8v1.8h-1.8z" fill="rgb(75, 75, 255)"/>
<path d="M492.0 241.5h1.8v1.8h-1.8zM516.0 261.0h1.8v1.8h-1.8zM508.5 274.5h1.8v1.8h-1.8zM499.5 208.5h1.8v1.8h-1.8zM496.5 259.5h1.8v1.8h-1.8zM495.0 222.0h1.8v1.8h-1.8zM505.5 220.5h1.8v1.8h-1.8zM498.0 216.0h1.8v1.8h-1.8zM496.5 222.0h1.8v1.8h-1.8zM507.0 228.0h1.8v1.8h-1.8zM507.0 255.0h1.8v1.8h-1.8zM511.5 225.0h1.8v1.8h-1.8zM514.5 252.0h1.8v1.8h-1.8zM492.0 244.5h1.8v1.8h-1.8zM510.0 252.0h1.8v1.8h-1.8zM496.5 252.0h1.8v1.8h-1.8zM522.0 256.5h1.8v1.8h-1.8zM495.0 240.0h1.8v1.8h-1.8zM513.0 216.0h1.8v1.8h-1.8zM513.0 268.5h1.8v1.8h-1.8zM490.5 253.5h1.8v1.8h-1.8zM519.0 238.5h1.8v1.8h-1.8zM505.5 261.0h1.8v1.8h-1.8zM511.5 226.5h1.8v1.8h-1.8zM499.5 265.5h1.8v1.8h-1.8zM517.5 243.0h1.8v1.8h-1.8zM499.5 261.0h1.8v1.8h-1.8zM508.5 268.5h1.8v1.8h-1.8zM505.5 214.5h1.8v1.8h-1.8zM511.5 222.0h1.8v1.8h-1.8zM522.0 234.0h1.8v1.8h-1.8zM508.5 267.0h1.8v1.8h-1.8zM513.0 217.5h1.8v1.8h-1.8zM505.5 225.0h1.8v1.8h-1.8zM505.5 268.5h1.8v1.8h-1.8zM510.0 216.0h1.8v1.8h-1.8zM498.0 259.5h1.8v1.8h-1.8zM519.0 235.5h1.8v1.8h-1.8zM505.5 265.5h1.8v1.8h-1.8zM501.0 222.0h1.8v1.8h-1.8zM511.5 232.5h1.8v1.8h-1.8zM516.0 270.0h1.8v1.8h-1.8zM501.0 225.0h1.8v1.8h-1.8zM490.5 234.0h1.8v1.8h-1.8zM510.0 217.5h1.8v1.8h-1.8zM516.0 228.0h1.8v1.8h-1.8zM496.5 223.5h1.8v1.8h-1.8zM516.0 229.5h1.8v1.8h-1.8zM513.0 259.5h1.8v1.8h-1.8zM495.0 237.0h1.8v1.8h-1.8zM492.0 225.0h1.8v1.8h-1.8zM499.5 268.5h1.8v1.8h-1.8zM508.5 220.5h1.8v1.8h-1.8zM501.0 264.0h1.8v1.8h-1.8zM502.5 223.5h1.8v1.8h-1.8zM493.5 228.0h1.8v1.8h-1.8zM517.5 241.5h1.8v1.8h-1.8zM492.0 246.0h1.8v1.8h-1.8zM492.0 243.0h1.8v1.8h-1.8zM498.0 217.5h1.8v1.8h-1.8zM487.5 238.5h1.8v1.8h-1.8zM502.5 220.5h1.8v1.8h-1.8zM496.5 238.5h1.8v1.8h-1.8zM517.5 235.5h1.8v1.8h-1.8zM501.0 216.0h1.8v1.8h-1.8zM501.0 205.5h1.8v1.8h-1.8zM528.0 232.5h1.8v1.8h-1.8zM505.5 217.5h1.8v1.8h-1.8zM514.5 235.5h1.8v1.8h-1.8zM510.0 258.0h1.8v1.8h-1.8zM499.5 222.0h1.8v1.8h-1.8zM507.0 208.5h1.8v1.8h-1.8zM496.5 253.5h1.8v1.8h-1.8zM517.5 229.5h1.8v1.8h-1.8zM493.5 253.5h1.8v1.8h-1.8zM502.5 222.0h1.8v1.8h-1.8zM516.0 250.5h1.8v1.8h-1.8zM514.5 262.5h1.8v1.8h-1.8zM513.0 247.5h1.8v1.8h-1.8zM493.5 223.5h1.8v1.8h-1.8zM495.0 264.0h1.8v1.8h-1.8zM496.5 271.5h1.8v1.8h-1.8zM502.5 271.5h1.8v1.8h-1.8zM502.5 285.0h1.8v1.8h-1.8zM513.0 276.0h1.8v1.8h-1.8zM504.0 298.5h1.8v1.8h-1.8zM499.5 267.0h1.8v1.8h-1.8zM505.5 280.5h1.8v1.8h-1.8zM504.0 270.0h1.8v1.8h-1.8zM498.0 285.0h1.8v1.8h-1.8zM496.5 288.0h1.8v1.8h-1.8zM502.5 259.5h1.8v1.8h-1.8zM502.5 277.5h1.8v1.8h-1.8zM502.5 279.0h1.8v1.8h-1.8zM507.0 262.5h1.8v1.8h-1.8zM501.0 271.5h1.8v1.8h-1.8zM510.0 256.5h1.8v1.8h-1.8zM498.0 279.0h1.8v1.8h-1.8zM505.5 300.0h1.8v1.8h-1.8zM498.0 262.5h1.8v1.8h-1.8zM516.0 283.5h1.8v1.8h-1.8zM505.5 277.5h1.8v1.8h-1.8zM504.0 271.5h1.8v1.8h-1.8zM508.5 262.5h1.8v1.8h-1.8zM508.5 271.5h1.8v1.8h-1.8zM504.0 273.0h1.8v1.8h-1.8zM514.5 268.5h1.8v1.8h-1.8zM502.5 267.0h1.8v1.8h-1.8zM507.0 276.0h1.8v1.8h-1.8zM499.5 285.0h1.8v1.8h-1.8zM498.0 255.0h1.8v1.8h-1.8zM498.0 256.5h1.8v1.8h-1.8zM507.0 273.0h1.8v1.8h-1.8zM505.5 264.0h1.8v1.8h-1.8zM508.5 288.0h1.8v1.8h-1.8zM541.5 226.5h1.8v1.8h-1.8zM529.5 246.0h1.8v1.8h-1.8zM549.0 235.5h1.8v1.8h-1.8zM526.5 195.0h1.8v1.8h-1.8zM534.0 253.5h1.8v1.8h-1.8zM532.5 229.5h1.8v1.8h-1.8zM528.0 250.5h1.8v1.8h-1.8zM526.5 199.5h1.8v1.8h-1.8zM535.5 214.5h1.8v1.8h-1.8zM520.5 232.5h1.8v1.8h-1.8zM535.5 234.0h1.8v1.8h-1.8zM537.0 255.0h1.8v1.8h-1.8zM525.0 222.0h1.8v1.8h-1.8zM535.5 250.5h1.8v1.8h-1.8zM520.5 226.5h1.8v1.8h-1.8zM550.5 256.5h1.8v1.8h-1.8zM559.5 234.0h1.8v1.8h-1.8zM540.0 238.5h1.8v1.8h-1.8zM522.0 252.0h1.8v1.8h-1.8zM525.0 250.5h1.8v1.8h-1.8zM517.5 231.0h1.8v1.8h-1.8zM538.5 238.5h1.8v1.8h-1.8zM528.0 249.0h1.8v1.8h-1.8zM532.5 234.0h1.8v1.8h-1.8zM529.5 234.0h1.8v1.8h-1.8zM549.0 241.5h1.8v1.8h-1.8zM546.0 216.0h1.8v1.8h-1.8zM534.0 223.5h1.8v1.8h-1.8zM519.0 265.5h1.8v1.8h-1.8zM520.5 255.0h1.8v1.8h-1.8zM522.0 268.5h1.8v1.8h-1.8zM525.0 235.5h1.8v1.8h-1.8zM532.5 259.5h1.8v1.8h-1.8zM517.5 247.5h1.8v1.8h-1.8zM519.0 247.5h1.8v1.8h-1.8zM537.0 219.0h1.8v1.8h-1.8zM519.0 232.5h1.8v1.8h-1.8zM525.0 261.0h1.8v1.8h-1.8zM520.5 256.5h1.8v1.8h-1.8zM523.5 234.0h1.8v1.8h-1.8zM532.5 265.5h1.8v1.8h-1.8zM535.5 181.5h1.8v1.8h-1.8zM544.5 165.0h1.8v1.8h-1.8zM565.5 184.5h1.8v1.8h-1.8zM547.5 181.5h1.8v1.8h-1.8zM547.5 187.5h1.8v1.8h-1.8zM556.5 163.5h1.8v1.8h-1.8zM508.5 216.0h1.8v1.8h-1.8zM513.0 207.0h1.8v1.8h-1.8zM496.5 214.5h1.8v1.8h-1.8zM517.5 223.5h1.8v1.8h-1.8z" fill="rgb(20, 20, 255)"/>
<path d="M519.0 237.0h1.8v1.8h-1.8zM507.0 220.5h1.8v1.8h-1.8zM514.5 240.0h1.8v1.8h-1.8zM514.5 250.5h1.8v1.8h-1.8zM507.0 259.5h1.8v1.8h-1.8zM501.0 267.0h1.8v1.8h-1.8zM502.5 217.5h1.8v1.8h-1.8zM511.5 267.0h1.8v1.8h-1.8zM513.0 235.5h1.8v1.8h-1.8zM514.5 241.5h1.8v1.8h-1.8zM489.0 234.0h1.8v1.8h-1.8zM498.0 220.5h1.8v1.8h-1.8zM513.0 223.5h1.8v1.8h-1.8zM510.0 261.0h1.8v1.8h-1.8zM508.5 225.0h1.8v1.8h-1.8zM501.0 219.0h1.8v1.8h-1.8zM504.0 217.5h1.8v1.8h-1.8zM493.5 244.5h1.8v1.8h-1.8zM513.0 252.0h1.8v1.8h-1.8zM517.5 226.5h1.8v1.8h-1.8zM495.0 252.0h1.8v1.8h-1.8zM498.0 267.0h1.8v1.8h-1.8zM502.5 262.5h1.8v1.8h-1.8zM514.5 267.0h1.8v1.8h-1.8zM508.5 283.5h1.8v1.8h-1.8zM508.5 270.0h1.8v1.8h-1.8zM511.5 277.5h1.8v1.8h-1.8zM504.0 280.5h1.8v1.8h-1.8zM513.0 288.0h1.8v1.8h-1.8zM508.5 259.5h1.8v1.8h-1.8zM553.5 231.0h1.8v1.8h-1.8zM517.5 267.0h1.8v1.8h-1.8zM526.5 259.5h1.8v1.8h-1.8zM519.0 264.0h1.8v1.8h-1.8zM529.5 258.0h1.8v1.8h-1.8zM523.5 225.0h1.8v1.8h-1.8zM526.5 229.5h1.8v1.8h-1.8zM520.5 241.5h1.8v1.8h-1.8zM540.0 258.0h1.8v1.8h-1.8zM537.0 231.0h1.8v1.8h-1.8zM519.0 286.5h1.8v1.8h-1.8zM522.0 220.5h1.8v1.8h-1.8zM519.0 234.0h1.8v1.8h-1.8zM517.5 216.0h1.8v1.8h-1.8zM543.0 235.5h1.8v1.8h-1.8zM531.0 256.5h1.8v1.8h-1.8zM531.0 171.0h1.8v1.8h-1.8zM547.5 162.0h1.8v1.8h-1.8zM498.0 213.0h1.8v1.8h-1.8zM496.5 220.5h1.8v1.8h-1.8zM519.0 223.5h1.8v1.8h-1.8z" fill="rgb(135, 135, 255)"/>
<path d="M495.0 229.5h1.8v1.8h-1.8zM499.5 247.5h1.8v1.8h-1.8zM504.0 222.0h1.8v1.8h-1.8zM499.5 259.5h1.8v1.8h-1.8z" fill="rgb(0, 0, 255)"/>
<path d="M510.0 234.0h1.8v1.8h-1.8zM511.5 253.5h1.8v1.8h-1.8zM511.5 229.5h1.8v1.8h-1.8zM496.5 232.5h1.8v1.8h-1.8zM514.5 229.5h1.8v1.8h-1.8zM504.0 262.5h1.8v1.8h-1.8zM499.5 219.0h1.8v1.8h-1.8zM498.0 252.0h1.8v1.8h-1.8zM496.5 249.0h1.8v1.8h-1.8zM504.0 210.0h1.8v1.8h-1.8z" fill="rgb(0, 32, 255)"/>
<path d="M498.0 228.0h1.8v1.8h-1.8zM498.0 238.5h1.8v1.8h-1.8zM498.0 235.5h1.8v1.8h-1.8zM501.0 255.0h1.8v1.8h-1.8zM508.5 250.5h1.8v1.8h-1.8zM514.5 234.0h1.8v1.8h-1.8zM516.0 241.5h1.8v1.8h-1.8zM505.5 270.0h1.8v1.8h-1.8z" fill="rgb(0, 64, 255)"/>
<path d="M499.5 246.0h1.8v1.8h-1.8zM514.5 232.5h1.8v1.8h-1.8zM501.0 214.5h1.8v1.8h-1.8zM496.5 240.0h1.8v1.8h-1.8zM511.5 228.0h1.8v1.8h-1.8zM507.0 225.0h1.8v1.8h-1.8zM513.0 232.5h1.8v1.8h-1.8zM499.5 223.5h1.8v1.8h-1.8zM507.0 253.5h1.8v1.8h-1.8zM505.5 253.5h1.8v1.8h-1.8zM501.0 228.0h1.8v1.8h-1.8zM514.5 255.0h1.8v1.8h-1.8zM501.0 226.5h1.8v1.8h-1.8zM498.0 258.0h1.8v1.8h-1.8z" fill="rgb(0, 96, 255)"/>
<path d="M504.0 259.5h1.8v1.8h-1.8zM513.0 250.5h1.8v1.8h-1.8zM501.0 253.5h1.8v1.8h-1.8zM496.5 246.0h1.8v1.8h-1.8zM513.0 246.0h1.8v1.8h-1.8zM516.0 235.5h1.8v1.8h-1.8zM513.0 253.5h1.8v1.8h-1.8zM510.0 231.0h1.8v1.8h-1.8zM511.5 246.0h1.8v1.8h-1.8zM499.5 249.0h1.8v1.8h-1.8zM502.5 255.0h1.8v1.8h-1.8zM505.5 259.5h1.8v1.8h-1.8z" fill="rgb(0, 128, 255)"/>
<path d="M502.5 228.0h1.8v1.8h-1.8zM508.5 256.5h1.8v1.8h-1.8zM508.5 226.5h1.8v1.8h-1.8zM495.0 250.5h1.8v1.8h-1.8zM502.5 226.5h1.8v1.8h-1.8zM499.5 231.0h1.8v1.8h-1.8zM508.5 255.0h1.8v1.8h-1.8zM502.5 256.5h1.8v1.8h-1.8zM510.0 259.5h1.8v1.8h-1.8zM510.0 228.0h1.8v1.8h-1.8zM516.0 244.5h1.8v1.8h-1.8zM507.0 256.5h1.8v1.8h-1.8zM496.5 229.5h1.8v1.8h-1.8zM499.5 256.5h1.8v1.8h-1.8zM513.0 244.5h1.8v1.8h-1.8zM511.5 259.5h1.8v1.8h-1.8zM513.0 267.0h1.8v1.8h-1.8z" fill="rgb(0, 160, 255)"/>
<path d="M501.0 232.5h1.8v1.8h-1.8zM513.0 249.0h1.8v1.8h-1.8zM510.0 253.5h1.8v1.8h-1.8zM508.5 234.0h1.8v1.8h-1.8zM502.5 237.0h1.8v1.8h-1.8zM498.0 231.0h1.8v1.8h-1.8zM499.5 232.5h1.8v1.8h-1.8zM511.5 238.5h1.8v1.8h-1.8zM496.5 244.5h1.8v1.8h-1.8zM511.5 241.5h1.8v1.8h-1.8zM496.5 243.0h1.8v1.8h-1.8zM498.0 249.0h1.8v1.8h-1.8zM505.5 262.5h1.8v1.8h-1.8zM517.5 228.0h1.8v1.8h-1.8z" fill="rgb(0, 192, 255)"/>
<path d="M516.0 238.5h1.8v1.8h-1.8zM508.5 222.0h1.8v1.8h-1.8zM511.5 250.5h1.8v1.8h-1.8zM510.0 232.5h1.8v1.8h-1.8zM498.0 240.0h1.8v1.8h-1.8zM501.0 270.0h1.8v1.8h-1.8z" fill="rgb(0, 224, 255)"/>
<path d="M505.5 232.5h1.8v1.8h-1.8zM513.0 256.5h1.8v1.8h-1.8zM502.5 268.5h1.8v1.8h-1.8zM499.5 252.0h1.8v1.8h-1.8zM498.0 244.5h1.8v1.8h-1.8zM498.0 225.0h1.8v1.8h-1.8zM508.5 252.0h1.8v1.8h-1.8zM508.5 232.5h1.8v1.8h-1.8zM502.5 258.0h1.8v1.8h-1.8z" fill="rgb(0, 224, 224)"/>
<path d="M501.0 247.5h1.8v1.8h-1.8zM511.5 237.0h1.8v1.8h-1.8zM508.5 229.5h1.8v1.8h-1.8zM499.5 226.5h1.8v1.8h-1.8zM504.0 258.0h1.8v1.8h-1.8zM502.5 229.5h1.8v1.8h-1.8zM511.5 235.5h1.8v1.8h-1.8zM505.5 255.0h1.8v1.8h-1.8zM508.5 241.5h1.8v1.8h-1.8zM508.5 253.5h1.8v1.8h-1.8zM502.5 225.0h1.8v1.8h-1.8zM502.5 250.5h1.8v1.8h-1.8zM498.0 247.5h1.8v1.8h-1.8zM499.5 258.0h1.8v1.8h-1.8zM510.0 247.5h1.8v1.8h-1.8zM499.5 240.0h1.8v1.8h-1.8zM499.5 243.0h1.8v1.8h-1.8z" fill="rgb(32, 224, 192)"/>
<path d="M499.5 241.5h1.8v1.8h-1.8zM505.5 234.0h1.8v1.8h-1.8zM501.0 229.5h1.8v1.8h-1.8zM496.5 247.5h1.8v1.8h-1.8zM504.0 231.0h1.8v1.8h-1.8zM505.5 252.0h1.8v1.8h-1.8zM501.0 256.5h1.8v1.8h-1.8zM504.0 256.5h1.8v1.8h-1.8zM502.5 231.0h1.8v1.8h-1.8zM501.0 249.0h1.8v1.8h-1.8zM501.0 234.0h1.8v1.8h-1.8zM499.5 229.5h1.8v1.8h-1.8z" fill="rgb(32, 224, 160)"/>
<path d="M505.5 229.5h1.8v1.8h-1.8zM510.0 243.0h1.8v1.8h-1.8zM505.5 226.5h1.8v1.8h-1.8zM508.5 246.0h1.8v1.8h-1.8z" fill="rgb(32, 224, 128)"/>
<path d="M502.5 249.0h1.8v1.8h-1.8zM505.5 250.5h1.8v1.8h-1.8zM501.0 237.0h1.8v1.8h-1.8zM504.0 243.0h1.8v1.8h-1.8zM508.5 247.5h1.8v1.8h-1.8zM504.0 250.5h1.8v1.8h-1.8zM511.5 243.0h1.8v1.8h-1.8zM502.5 253.5h1.8v1.8h-1.8zM499.5 253.5h1.8v1.8h-1.8z" fill="rgb(32, 255, 128)"/>
<path d="M511.5 247.5h1.8v1.8h-1.8zM505.5 231.0h1.8v1.8h-1.8zM505.5 243.0h1.8v1.8h-1.8zM502.5 241.5h1.8v1.8h-1.8zM499.5 235.5h1.8v1.8h-1.8zM508.5 249.0h1.8v1.8h-1.8zM508.5 244.5h1.8v1.8h-1.8zM505.5 249.0h1.8v1.8h-1.8zM498.0 232.5h1.8v1.8h-1.8z" fill="rgb(64, 255, 96)"/>
<path d="M505.5 241.5h1.8v1.8h-1.8zM502.5 232.5h1.8v1.8h-1.8zM508.5 243.0h1.8v1.8h-1.8zM505.5 238.5h1.8v1.8h-1.8zM499.5 244.5h1.8v1.8h-1.8zM499.5 238.5h1.8v1.8h-1.8zM507.0 244.5h1.8v1.8h-1.8zM504.0 247.5h1.8v1.8h-1.8zM507.0 232.5h1.8v1.8h-1.8zM501.0 231.0h1.8v1.8h-1.8zM501.0 250.5h1.8v1.8h-1.8zM505.5 258.0h1.8v1.8h-1.8z" fill="rgb(64, 255, 64)"/>
<path d="M511.5 244.5h1.8v1.8h-1.8zM504.0 225.0h1.8v1.8h-1.8zM502.5 244.5h1.8v1.8h-1.8zM504.0 235.5h1.8v1.8h-1.8zM507.0 238.5h1.8v1.8h-1.8zM510.0 238.5h1.8v1.8h-1.8zM507.0 237.0h1.8v1.8h-1.8zM511.5 240.0h1.8v1.8h-1.8z" fill="rgb(96, 255, 64)"/>
<path d="M502.5 240.0h1.8v1.8h-1.8zM502.5 235.5h1.8v1.8h-1.8zM510.0 244.5h1.8v1.8h-1.8zM507.0 250.5h1.8v1.8h-1.8zM504.0 228.0h1.8v1.8h-1.8zM504.0 246.0h1.8v1.8h-1.8zM501.0 262.5h1.8v1.8h-1.8z" fill="rgb(96, 255, 32)"/>
<path d="M502.5 243.0h1.8v1.8h-1.8zM505.5 246.0h1.8v1.8h-1.8zM501.0 246.0h1.8v1.8h-1.8zM499.5 250.5h1.8v1.8h-1.8zM510.0 240.0h1.8v1.8h-1.8z" fill="rgb(128, 255, 32)"/>
<path d="M510.0 237.0h1.8v1.8h-1.8zM504.0 234.0h1.8v1.8h-1.8zM507.0 231.0h1.8v1.8h-1.8zM508.5 240.0h1.8v1.8h-1.8zM507.0 243.0h1.8v1.8h-1.8z" fill="rgb(128, 255, 0)"/>
<path d="M501.0 240.0h1.8v1.8h-1.8zM507.0 241.5h1.8v1.8h-1.8zM507.0 246.0h1.8v1.8h-1.8zM507.0 240.0h1.8v1.8h-1.8zM510.0 246.0h1.8v1.8h-1.8zM502.5 252.0h1.8v1.8h-1.8z" fill="rgb(160, 255, 0)"/>
<path d="M502.5 234.0h1.8v1.8h-1.8zM508.5 235.5h1.8v1.8h-1.8zM510.0 241.5h1.8v1.8h-1.8zM504.0 240.0h1.8v1.8h-1.8zM510.0 235.5h1.8v1.8h-1.8zM502.5 238.5h1.8v1.8h-1.8zM505.5 240.0h1.8v1.8h-1.8zM504.0 252.0h1.8v1.8h-1.8z" fill="rgb(192, 255, 0)"/>
<path d="M505.5 235.5h1.8v1.8h-1.8zM502.5 247.5h1.8v1.8h-1.8zM504.0 244.5h1.8v1.8h-1.8z" fill="rgb(224, 224, 0)"/>
<path d="M508.5 238.5h1.8v1.8h-1.8zM507.0 235.5h1.8v1.8h-1.8z" fill="rgb(255, 224, 0)"/>
<path d="M505.5 244.5h1.8v1.8h-1.8z" fill="rgb(255, 160, 0)"/>
<path d="M507.0 249.0h1.8v1.8h-1.8z" fill="rgb(255, 128, 0)"/>
<path d="M504.0 237.0h1.8v1.8h-1.8zM505.5 237.0h1.8v1.8h-1.8zM505.5 247.5h1.8v1.8h-1.8z" fill="rgb(255, 32, 0)"/>
<path d="M554.7 307.7h1.6v1.6h-1.6zM516.4 307.7h1.6v1.6h-1.6zM578.9 307.7h1.6v1.6h-1.6zM559.9 307.7h1.6v1.6h-1.6zM545.1 307.7h1.6v1.6h-1.6zM539.4 307.7h1.6v1.6h-1.6zM569.1 307.7h1.6v1.6h-1.6zM528.7 307.7h1.6v1.6h-1.6zM578.9 307.7h1.6v1.6h-1.6zM557.0 307.7h1.6v1.6h-1.6zM537.3 307.7h1.6v1.6h-1.6zM535.8 307.7h1.6v1.6h-1.6zM488.2 307.7h1.6v1.6h-1.6zM500.9 307.7h1.6v1.6h-1.6zM513.2 307.7h1.6v1.6h-1.6zM516.1 307.7h1.6v1.6h-1.6zM570.7 307.7h1.6v1.6h-1.6zM506.9 307.7h1.6v1.6h-1.6zM497.3 307.7h1.6v1.6h-1.6zM557.5 307.7h1.6v1.6h-1.6zM575.3 307.7h1.6v1.6h-1.6zM502.6 307.7h1.6v1.6h-1.6z" fill="rgb(50,50,255)"/>
<line x1="404.50" y1="199.60" x2="654.00" y2="199.60" stroke="#000" stroke-width="2.2" stroke-linecap="butt"/>
<line x1="519.20" y1="61.20" x2="519.20" y2="310.00" stroke="#000" stroke-width="2.2" stroke-linecap="butt"/>
<line x1="397.50" y1="61.20" x2="404.50" y2="61.20" stroke="#000" stroke-width="2" stroke-linecap="butt"/>
<line x1="401.00" y1="92.76" x2="404.50" y2="92.76" stroke="#000" stroke-width="1.2" stroke-linecap="butt"/>
<line x1="401.00" y1="84.81" x2="404.50" y2="84.81" stroke="#000" stroke-width="1.2" stroke-linecap="butt"/>
<line x1="401.00" y1="79.17" x2="404.50" y2="79.17" stroke="#000" stroke-width="1.2" stroke-linecap="butt"/>
<line x1="401.00" y1="74.79" x2="404.50" y2="74.79" stroke="#000" stroke-width="1.2" stroke-linecap="butt"/>
<line x1="401.00" y1="71.22" x2="404.50" y2="71.22" stroke="#000" stroke-width="1.2" stroke-linecap="butt"/>
<line x1="401.00" y1="68.19" x2="404.50" y2="68.19" stroke="#000" stroke-width="1.2" stroke-linecap="butt"/>
<line x1="401.00" y1="65.58" x2="404.50" y2="65.58" stroke="#000" stroke-width="1.2" stroke-linecap="butt"/>
<line x1="401.00" y1="63.27" x2="404.50" y2="63.27" stroke="#000" stroke-width="1.2" stroke-linecap="butt"/>
<line x1="397.50" y1="106.35" x2="404.50" y2="106.35" stroke="#000" stroke-width="2" stroke-linecap="butt"/>
<line x1="401.00" y1="137.91" x2="404.50" y2="137.91" stroke="#000" stroke-width="1.2" stroke-linecap="butt"/>
<line x1="401.00" y1="129.96" x2="404.50" y2="129.96" stroke="#000" stroke-width="1.2" stroke-linecap="butt"/>
<line x1="401.00" y1="124.32" x2="404.50" y2="124.32" stroke="#000" stroke-width="1.2" stroke-linecap="butt"/>
<line x1="401.00" y1="119.94" x2="404.50" y2="119.94" stroke="#000" stroke-width="1.2" stroke-linecap="butt"/>
<line x1="401.00" y1="116.37" x2="404.50" y2="116.37" stroke="#000" stroke-width="1.2" stroke-linecap="butt"/>
<line x1="401.00" y1="113.34" x2="404.50" y2="113.34" stroke="#000" stroke-width="1.2" stroke-linecap="butt"/>
<line x1="401.00" y1="110.73" x2="404.50" y2="110.73" stroke="#000" stroke-width="1.2" stroke-linecap="butt"/>
<line x1="401.00" y1="108.42" x2="404.50" y2="108.42" stroke="#000" stroke-width="1.2" stroke-linecap="butt"/>
<line x1="397.50" y1="151.50" x2="404.50" y2="151.50" stroke="#000" stroke-width="2" stroke-linecap="butt"/>
<line x1="401.00" y1="183.06" x2="404.50" y2="183.06" stroke="#000" stroke-width="1.2" stroke-linecap="butt"/>
<line x1="401.00" y1="175.11" x2="404.50" y2="175.11" stroke="#000" stroke-width="1.2" stroke-linecap="butt"/>
<line x1="401.00" y1="169.47" x2="404.50" y2="169.47" stroke="#000" stroke-width="1.2" stroke-linecap="butt"/>
<line x1="401.00" y1="165.09" x2="404.50" y2="165.09" stroke="#000" stroke-width="1.2" stroke-linecap="butt"/>
<line x1="401.00" y1="161.52" x2="404.50" y2="161.52" stroke="#000" stroke-width="1.2" stroke-linecap="butt"/>
<line x1="401.00" y1="158.49" x2="404.50" y2="158.49" stroke="#000" stroke-width="1.2" stroke-linecap="butt"/>
<line x1="401.00" y1="155.88" x2="404.50" y2="155.88" stroke="#000" stroke-width="1.2" stroke-linecap="butt"/>
<line x1="401.00" y1="153.57" x2="404.50" y2="153.57" stroke="#000" stroke-width="1.2" stroke-linecap="butt"/>
<line x1="397.50" y1="196.65" x2="404.50" y2="196.65" stroke="#000" stroke-width="2" stroke-linecap="butt"/>
<line x1="401.00" y1="228.21" x2="404.50" y2="228.21" stroke="#000" stroke-width="1.2" stroke-linecap="butt"/>
<line x1="401.00" y1="220.26" x2="404.50" y2="220.26" stroke="#000" stroke-width="1.2" stroke-linecap="butt"/>
<line x1="401.00" y1="214.62" x2="404.50" y2="214.62" stroke="#000" stroke-width="1.2" stroke-linecap="butt"/>
<line x1="401.00" y1="210.24" x2="404.50" y2="210.24" stroke="#000" stroke-width="1.2" stroke-linecap="butt"/>
<line x1="401.00" y1="206.67" x2="404.50" y2="206.67" stroke="#000" stroke-width="1.2" stroke-linecap="butt"/>
<line x1="401.00" y1="203.64" x2="404.50" y2="203.64" stroke="#000" stroke-width="1.2" stroke-linecap="butt"/>
<line x1="401.00" y1="201.03" x2="404.50" y2="201.03" stroke="#000" stroke-width="1.2" stroke-linecap="butt"/>
<line x1="401.00" y1="198.72" x2="404.50" y2="198.72" stroke="#000" stroke-width="1.2" stroke-linecap="butt"/>
<line x1="397.50" y1="241.80" x2="404.50" y2="241.80" stroke="#000" stroke-width="2" stroke-linecap="butt"/>
<line x1="401.00" y1="273.36" x2="404.50" y2="273.36" stroke="#000" stroke-width="1.2" stroke-linecap="butt"/>
<line x1="401.00" y1="265.41" x2="404.50" y2="265.41" stroke="#000" stroke-width="1.2" stroke-linecap="butt"/>
<line x1="401.00" y1="259.77" x2="404.50" y2="259.77" stroke="#000" stroke-width="1.2" stroke-linecap="butt"/>
<line x1="401.00" y1="255.39" x2="404.50" y2="255.39" stroke="#000" stroke-width="1.2" stroke-linecap="butt"/>
<line x1="401.00" y1="251.82" x2="404.50" y2="251.82" stroke="#000" stroke-width="1.2" stroke-linecap="butt"/>
<line x1="401.00" y1="248.79" x2="404.50" y2="248.79" stroke="#000" stroke-width="1.2" stroke-linecap="butt"/>
<line x1="401.00" y1="246.18" x2="404.50" y2="246.18" stroke="#000" stroke-width="1.2" stroke-linecap="butt"/>
<line x1="401.00" y1="243.87" x2="404.50" y2="243.87" stroke="#000" stroke-width="1.2" stroke-linecap="butt"/>
<line x1="397.50" y1="286.95" x2="404.50" y2="286.95" stroke="#000" stroke-width="2" stroke-linecap="butt"/>
<line x1="401.00" y1="304.92" x2="404.50" y2="304.92" stroke="#000" stroke-width="1.2" stroke-linecap="butt"/>
<line x1="401.00" y1="300.54" x2="404.50" y2="300.54" stroke="#000" stroke-width="1.2" stroke-linecap="butt"/>
<line x1="401.00" y1="296.97" x2="404.50" y2="296.97" stroke="#000" stroke-width="1.2" stroke-linecap="butt"/>
<line x1="401.00" y1="293.94" x2="404.50" y2="293.94" stroke="#000" stroke-width="1.2" stroke-linecap="butt"/>
<line x1="401.00" y1="291.33" x2="404.50" y2="291.33" stroke="#000" stroke-width="1.2" stroke-linecap="butt"/>
<line x1="401.00" y1="289.02" x2="404.50" y2="289.02" stroke="#000" stroke-width="1.2" stroke-linecap="butt"/>
<line x1="401.00" y1="304.92" x2="404.50" y2="304.92" stroke="#000" stroke-width="1.2" stroke-linecap="butt"/>
<line x1="401.00" y1="300.54" x2="404.50" y2="300.54" stroke="#000" stroke-width="1.2" stroke-linecap="butt"/>
<line x1="401.00" y1="296.97" x2="404.50" y2="296.97" stroke="#000" stroke-width="1.2" stroke-linecap="butt"/>
<line x1="401.00" y1="293.94" x2="404.50" y2="293.94" stroke="#000" stroke-width="1.2" stroke-linecap="butt"/>
<line x1="401.00" y1="291.33" x2="404.50" y2="291.33" stroke="#000" stroke-width="1.2" stroke-linecap="butt"/>
<line x1="401.00" y1="289.02" x2="404.50" y2="289.02" stroke="#000" stroke-width="1.2" stroke-linecap="butt"/>
<line x1="404.50" y1="310.00" x2="404.50" y2="316.00" stroke="#000" stroke-width="2" stroke-linecap="butt"/>
<line x1="416.93" y1="310.00" x2="416.93" y2="313.50" stroke="#000" stroke-width="1.2" stroke-linecap="butt"/>
<line x1="424.21" y1="310.00" x2="424.21" y2="313.50" stroke="#000" stroke-width="1.2" stroke-linecap="butt"/>
<line x1="429.37" y1="310.00" x2="429.37" y2="313.50" stroke="#000" stroke-width="1.2" stroke-linecap="butt"/>
<line x1="433.37" y1="310.00" x2="433.37" y2="313.50" stroke="#000" stroke-width="1.2" stroke-linecap="butt"/>
<line x1="436.64" y1="310.00" x2="436.64" y2="313.50" stroke="#000" stroke-width="1.2" stroke-linecap="butt"/>
<line x1="439.40" y1="310.00" x2="439.40" y2="313.50" stroke="#000" stroke-width="1.2" stroke-linecap="butt"/>
<line x1="441.80" y1="310.00" x2="441.80" y2="313.50" stroke="#000" stroke-width="1.2" stroke-linecap="butt"/>
<line x1="443.91" y1="310.00" x2="443.91" y2="313.50" stroke="#000" stroke-width="1.2" stroke-linecap="butt"/>
<line x1="445.80" y1="310.00" x2="445.80" y2="316.00" stroke="#000" stroke-width="2" stroke-linecap="butt"/>
<line x1="458.23" y1="310.00" x2="458.23" y2="313.50" stroke="#000" stroke-width="1.2" stroke-linecap="butt"/>
<line x1="465.51" y1="310.00" x2="465.51" y2="313.50" stroke="#000" stroke-width="1.2" stroke-linecap="butt"/>
<line x1="470.67" y1="310.00" x2="470.67" y2="313.50" stroke="#000" stroke-width="1.2" stroke-linecap="butt"/>
<line x1="474.67" y1="310.00" x2="474.67" y2="313.50" stroke="#000" stroke-width="1.2" stroke-linecap="butt"/>
<line x1="477.94" y1="310.00" x2="477.94" y2="313.50" stroke="#000" stroke-width="1.2" stroke-linecap="butt"/>
<line x1="480.70" y1="310.00" x2="480.70" y2="313.50" stroke="#000" stroke-width="1.2" stroke-linecap="butt"/>
<line x1="483.10" y1="310.00" x2="483.10" y2="313.50" stroke="#000" stroke-width="1.2" stroke-linecap="butt"/>
<line x1="485.21" y1="310.00" x2="485.21" y2="313.50" stroke="#000" stroke-width="1.2" stroke-linecap="butt"/>
<line x1="487.10" y1="310.00" x2="487.10" y2="316.00" stroke="#000" stroke-width="2" stroke-linecap="butt"/>
<line x1="499.53" y1="310.00" x2="499.53" y2="313.50" stroke="#000" stroke-width="1.2" stroke-linecap="butt"/>
<line x1="506.81" y1="310.00" x2="506.81" y2="313.50" stroke="#000" stroke-width="1.2" stroke-linecap="butt"/>
<line x1="511.97" y1="310.00" x2="511.97" y2="313.50" stroke="#000" stroke-width="1.2" stroke-linecap="butt"/>
<line x1="515.97" y1="310.00" x2="515.97" y2="313.50" stroke="#000" stroke-width="1.2" stroke-linecap="butt"/>
<line x1="519.24" y1="310.00" x2="519.24" y2="313.50" stroke="#000" stroke-width="1.2" stroke-linecap="butt"/>
<line x1="522.00" y1="310.00" x2="522.00" y2="313.50" stroke="#000" stroke-width="1.2" stroke-linecap="butt"/>
<line x1="524.40" y1="310.00" x2="524.40" y2="313.50" stroke="#000" stroke-width="1.2" stroke-linecap="butt"/>
<line x1="526.51" y1="310.00" x2="526.51" y2="313.50" stroke="#000" stroke-width="1.2" stroke-linecap="butt"/>
<line x1="528.40" y1="310.00" x2="528.40" y2="316.00" stroke="#000" stroke-width="2" stroke-linecap="butt"/>
<line x1="540.83" y1="310.00" x2="540.83" y2="313.50" stroke="#000" stroke-width="1.2" stroke-linecap="butt"/>
<line x1="548.11" y1="310.00" x2="548.11" y2="313.50" stroke="#000" stroke-width="1.2" stroke-linecap="butt"/>
<line x1="553.27" y1="310.00" x2="553.27" y2="313.50" stroke="#000" stroke-width="1.2" stroke-linecap="butt"/>
<line x1="557.27" y1="310.00" x2="557.27" y2="313.50" stroke="#000" stroke-width="1.2" stroke-linecap="butt"/>
<line x1="560.54" y1="310.00" x2="560.54" y2="313.50" stroke="#000" stroke-width="1.2" stroke-linecap="butt"/>
<line x1="563.30" y1="310.00" x2="563.30" y2="313.50" stroke="#000" stroke-width="1.2" stroke-linecap="butt"/>
<line x1="565.70" y1="310.00" x2="565.70" y2="313.50" stroke="#000" stroke-width="1.2" stroke-linecap="butt"/>
<line x1="567.81" y1="310.00" x2="567.81" y2="313.50" stroke="#000" stroke-width="1.2" stroke-linecap="butt"/>
<line x1="569.70" y1="310.00" x2="569.70" y2="316.00" stroke="#000" stroke-width="2" stroke-linecap="butt"/>
<line x1="582.13" y1="310.00" x2="582.13" y2="313.50" stroke="#000" stroke-width="1.2" stroke-linecap="butt"/>
<line x1="589.41" y1="310.00" x2="589.41" y2="313.50" stroke="#000" stroke-width="1.2" stroke-linecap="butt"/>
<line x1="594.57" y1="310.00" x2="594.57" y2="313.50" stroke="#000" stroke-width="1.2" stroke-linecap="butt"/>
<line x1="598.57" y1="310.00" x2="598.57" y2="313.50" stroke="#000" stroke-width="1.2" stroke-linecap="butt"/>
<line x1="601.84" y1="310.00" x2="601.84" y2="313.50" stroke="#000" stroke-width="1.2" stroke-linecap="butt"/>
<line x1="604.60" y1="310.00" x2="604.60" y2="313.50" stroke="#000" stroke-width="1.2" stroke-linecap="butt"/>
<line x1="607.00" y1="310.00" x2="607.00" y2="313.50" stroke="#000" stroke-width="1.2" stroke-linecap="butt"/>
<line x1="609.11" y1="310.00" x2="609.11" y2="313.50" stroke="#000" stroke-width="1.2" stroke-linecap="butt"/>
<line x1="611.00" y1="310.00" x2="611.00" y2="316.00" stroke="#000" stroke-width="2" stroke-linecap="butt"/>
<line x1="623.43" y1="310.00" x2="623.43" y2="313.50" stroke="#000" stroke-width="1.2" stroke-linecap="butt"/>
<line x1="630.71" y1="310.00" x2="630.71" y2="313.50" stroke="#000" stroke-width="1.2" stroke-linecap="butt"/>
<line x1="635.87" y1="310.00" x2="635.87" y2="313.50" stroke="#000" stroke-width="1.2" stroke-linecap="butt"/>
<line x1="639.87" y1="310.00" x2="639.87" y2="313.50" stroke="#000" stroke-width="1.2" stroke-linecap="butt"/>
<line x1="643.14" y1="310.00" x2="643.14" y2="313.50" stroke="#000" stroke-width="1.2" stroke-linecap="butt"/>
<line x1="645.90" y1="310.00" x2="645.90" y2="313.50" stroke="#000" stroke-width="1.2" stroke-linecap="butt"/>
<line x1="648.30" y1="310.00" x2="648.30" y2="313.50" stroke="#000" stroke-width="1.2" stroke-linecap="butt"/>
<line x1="650.41" y1="310.00" x2="650.41" y2="313.50" stroke="#000" stroke-width="1.2" stroke-linecap="butt"/>
<line x1="652.30" y1="310.00" x2="652.30" y2="316.00" stroke="#000" stroke-width="2" stroke-linecap="butt"/>
<line x1="404.50" y1="60.70" x2="404.50" y2="310.60" stroke="#000" stroke-width="1.6" stroke-linecap="butt"/>
<line x1="403.90" y1="310.00" x2="654.60" y2="310.00" stroke="#000" stroke-width="1.6" stroke-linecap="butt"/>
<text transform="translate(379.30,75.80) skewX(-10)" font-size="10.4" textLength="8.2" lengthAdjust="spacingAndGlyphs" stroke="#000" stroke-width="0.35">10</text>
<text transform="translate(388.90,69.00) skewX(-10)" font-size="9.0" textLength="4.6" lengthAdjust="spacingAndGlyphs" stroke="#000" stroke-width="0.35">6</text>
<text transform="translate(379.30,112.75) skewX(-10)" font-size="10.4" textLength="8.2" lengthAdjust="spacingAndGlyphs" stroke="#000" stroke-width="0.35">10</text>
<text transform="translate(388.90,106.95) skewX(-10)" font-size="9.0" textLength="4.6" lengthAdjust="spacingAndGlyphs" stroke="#000" stroke-width="0.35">5</text>
<text transform="translate(379.30,157.90) skewX(-10)" font-size="10.4" textLength="8.2" lengthAdjust="spacingAndGlyphs" stroke="#000" stroke-width="0.35">10</text>
<text transform="translate(388.90,152.10) skewX(-10)" font-size="9.0" textLength="4.6" lengthAdjust="spacingAndGlyphs" stroke="#000" stroke-width="0.35">4</text>
<text transform="translate(379.30,203.05) skewX(-10)" font-size="10.4" textLength="8.2" lengthAdjust="spacingAndGlyphs" stroke="#000" stroke-width="0.35">10</text>
<text transform="translate(388.90,197.25) skewX(-10)" font-size="9.0" textLength="4.6" lengthAdjust="spacingAndGlyphs" stroke="#000" stroke-width="0.35">3</text>
<text transform="translate(379.30,248.20) skewX(-10)" font-size="10.4" textLength="8.2" lengthAdjust="spacingAndGlyphs" stroke="#000" stroke-width="0.35">10</text>
<text transform="translate(388.90,242.40) skewX(-10)" font-size="9.0" textLength="4.6" lengthAdjust="spacingAndGlyphs" stroke="#000" stroke-width="0.35">2</text>
<text transform="translate(379.30,293.35) skewX(-10)" font-size="10.4" textLength="8.2" lengthAdjust="spacingAndGlyphs" stroke="#000" stroke-width="0.35">10</text>
<text transform="translate(388.90,287.55) skewX(-10)" font-size="9.0" textLength="4.6" lengthAdjust="spacingAndGlyphs" stroke="#000" stroke-width="0.35">1</text>
<text transform="translate(409.10,331.40) skewX(-10)" font-size="9.6" textLength="8.4" lengthAdjust="spacingAndGlyphs" stroke="#000" stroke-width="0.35">10</text>
<text transform="translate(418.10,325.50) skewX(-10)" font-size="8.2" textLength="4.6" lengthAdjust="spacingAndGlyphs" stroke="#000" stroke-width="0.35">0</text>
<text transform="translate(446.60,331.40) skewX(-10)" font-size="9.6" textLength="8.4" lengthAdjust="spacingAndGlyphs" stroke="#000" stroke-width="0.35">10</text>
<text transform="translate(455.60,325.50) skewX(-10)" font-size="8.2" textLength="4.6" lengthAdjust="spacingAndGlyphs" stroke="#000" stroke-width="0.35">1</text>
<text transform="translate(487.90,331.40) skewX(-10)" font-size="9.6" textLength="8.4" lengthAdjust="spacingAndGlyphs" stroke="#000" stroke-width="0.35">10</text>
<text transform="translate(496.90,325.50) skewX(-10)" font-size="8.2" textLength="4.6" lengthAdjust="spacingAndGlyphs" stroke="#000" stroke-width="0.35">2</text>
<text transform="translate(529.20,331.40) skewX(-10)" font-size="9.6" textLength="8.4" lengthAdjust="spacingAndGlyphs" stroke="#000" stroke-width="0.35">10</text>
<text transform="translate(538.20,325.50) skewX(-10)" font-size="8.2" textLength="4.6" lengthAdjust="spacingAndGlyphs" stroke="#000" stroke-width="0.35">3</text>
<text transform="translate(570.50,331.40) skewX(-10)" font-size="9.6" textLength="8.4" lengthAdjust="spacingAndGlyphs" stroke="#000" stroke-width="0.35">10</text>
<text transform="translate(579.50,325.50) skewX(-10)" font-size="8.2" textLength="4.6" lengthAdjust="spacingAndGlyphs" stroke="#000" stroke-width="0.35">4</text>
<text transform="translate(611.80,331.40) skewX(-10)" font-size="9.6" textLength="8.4" lengthAdjust="spacingAndGlyphs" stroke="#000" stroke-width="0.35">10</text>
<text transform="translate(620.80,325.50) skewX(-10)" font-size="8.2" textLength="4.6" lengthAdjust="spacingAndGlyphs" stroke="#000" stroke-width="0.35">5</text>
<text transform="translate(640.50,331.40) skewX(-10)" font-size="9.6" textLength="8.4" lengthAdjust="spacingAndGlyphs" stroke="#000" stroke-width="0.35">10</text>
<text transform="translate(649.50,325.50) skewX(-10)" font-size="8.2" textLength="4.6" lengthAdjust="spacingAndGlyphs" stroke="#000" stroke-width="0.35">6</text>
<text x="408.2" y="80.2" font-size="10.61" text-anchor="start" fill="#000" stroke="#000" stroke-width="0.35">0</text>
<text x="638.6" y="80.2" font-size="10.61" text-anchor="end" fill="#000" stroke="#000" stroke-width="0.35">0,83</text>
<text x="408.2" y="299.0" font-size="10.61" text-anchor="start" fill="#000" stroke="#000" stroke-width="0.35">91,5</text>
<text x="638.6" y="299.0" font-size="10.61" text-anchor="end" fill="#000" stroke="#000" stroke-width="0.35">7,66</text>
<rect x="722.5" y="61.2" width="249.5" height="248.8" fill="#fff" stroke="#333" stroke-width="1.2"/>
<path d="M831.0 222.0h1.8v1.8h-1.8zM825.0 220.5h1.8v1.8h-1.8zM826.5 258.0h1.8v1.8h-1.8zM831.0 234.0h1.8v1.8h-1.8zM811.5 217.5h1.8v1.8h-1.8zM819.0 246.0h1.8v1.8h-1.8zM829.5 250.5h1.8v1.8h-1.8zM831.0 228.0h1.8v1.8h-1.8zM817.5 223.5h1.8v1.8h-1.8zM810.0 229.5h1.8v1.8h-1.8zM829.5 240.0h1.8v1.8h-1.8zM814.5 241.5h1.8v1.8h-1.8zM838.5 232.5h1.8v1.8h-1.8zM817.5 258.0h1.8v1.8h-1.8zM823.5 202.5h1.8v1.8h-1.8zM807.0 231.0h1.8v1.8h-1.8zM816.0 243.0h1.8v1.8h-1.8zM814.5 237.0h1.8v1.8h-1.8zM813.0 225.0h1.8v1.8h-1.8zM813.0 234.0h1.8v1.8h-1.8zM825.0 255.0h1.8v1.8h-1.8zM813.0 249.0h1.8v1.8h-1.8zM813.0 216.0h1.8v1.8h-1.8zM823.5 253.5h1.8v1.8h-1.8zM814.5 238.5h1.8v1.8h-1.8zM825.0 216.0h1.8v1.8h-1.8zM808.5 228.0h1.8v1.8h-1.8zM816.0 274.5h1.8v1.8h-1.8zM835.5 255.0h1.8v1.8h-1.8zM822.0 262.5h1.8v1.8h-1.8zM822.0 292.5h1.8v1.8h-1.8zM820.5 271.5h1.8v1.8h-1.8zM823.5 255.0h1.8v1.8h-1.8zM825.0 282.0h1.8v1.8h-1.8zM825.0 253.5h1.8v1.8h-1.8zM841.5 232.5h1.8v1.8h-1.8zM852.0 238.5h1.8v1.8h-1.8zM849.0 253.5h1.8v1.8h-1.8zM855.0 252.0h1.8v1.8h-1.8zM847.5 256.5h1.8v1.8h-1.8zM840.0 219.0h1.8v1.8h-1.8z" fill="rgb(135, 135, 255)"/>
<path d="M814.5 219.0h1.8v1.8h-1.8zM829.5 220.5h1.8v1.8h-1.8zM819.0 252.0h1.8v1.8h-1.8zM816.0 211.5h1.8v1.8h-1.8zM817.5 217.5h1.8v1.8h-1.8zM817.5 246.0h1.8v1.8h-1.8zM820.5 249.0h1.8v1.8h-1.8zM811.5 229.5h1.8v1.8h-1.8zM819.0 255.0h1.8v1.8h-1.8zM820.5 244.5h1.8v1.8h-1.8zM832.5 226.5h1.8v1.8h-1.8zM810.0 226.5h1.8v1.8h-1.8zM832.5 228.0h1.8v1.8h-1.8zM819.0 220.5h1.8v1.8h-1.8zM816.0 244.5h1.8v1.8h-1.8zM835.5 237.0h1.8v1.8h-1.8zM814.5 217.5h1.8v1.8h-1.8zM817.5 253.5h1.8v1.8h-1.8zM837.0 241.5h1.8v1.8h-1.8zM820.5 214.5h1.8v1.8h-1.8zM816.0 253.5h1.8v1.8h-1.8zM813.0 220.5h1.8v1.8h-1.8zM813.0 243.0h1.8v1.8h-1.8zM807.0 240.0h1.8v1.8h-1.8zM832.5 240.0h1.8v1.8h-1.8zM825.0 214.5h1.8v1.8h-1.8zM832.5 229.5h1.8v1.8h-1.8zM826.5 216.0h1.8v1.8h-1.8zM825.0 262.5h1.8v1.8h-1.8zM814.5 243.0h1.8v1.8h-1.8zM810.0 243.0h1.8v1.8h-1.8zM822.0 216.0h1.8v1.8h-1.8zM825.0 219.0h1.8v1.8h-1.8zM816.0 250.5h1.8v1.8h-1.8zM831.0 240.0h1.8v1.8h-1.8zM817.5 213.0h1.8v1.8h-1.8zM823.5 217.5h1.8v1.8h-1.8zM817.5 222.0h1.8v1.8h-1.8zM825.0 271.5h1.8v1.8h-1.8zM825.0 259.5h1.8v1.8h-1.8zM823.5 270.0h1.8v1.8h-1.8zM825.0 270.0h1.8v1.8h-1.8zM817.5 259.5h1.8v1.8h-1.8zM820.5 273.0h1.8v1.8h-1.8zM831.0 270.0h1.8v1.8h-1.8zM810.0 265.5h1.8v1.8h-1.8zM826.5 282.0h1.8v1.8h-1.8zM825.0 267.0h1.8v1.8h-1.8zM828.0 253.5h1.8v1.8h-1.8zM808.5 268.5h1.8v1.8h-1.8zM826.5 259.5h1.8v1.8h-1.8zM816.0 268.5h1.8v1.8h-1.8zM823.5 247.5h1.8v1.8h-1.8zM837.0 228.0h1.8v1.8h-1.8zM844.5 244.5h1.8v1.8h-1.8zM835.5 258.0h1.8v1.8h-1.8zM843.0 189.0h1.8v1.8h-1.8zM852.0 231.0h1.8v1.8h-1.8zM843.0 264.0h1.8v1.8h-1.8zM846.0 246.0h1.8v1.8h-1.8zM852.0 232.5h1.8v1.8h-1.8zM838.5 256.5h1.8v1.8h-1.8zM838.5 261.0h1.8v1.8h-1.8zM843.0 231.0h1.8v1.8h-1.8zM843.0 207.0h1.8v1.8h-1.8zM864.0 178.5h1.8v1.8h-1.8zM862.5 138.0h1.8v1.8h-1.8zM873.0 142.5h1.8v1.8h-1.8zM810.0 210.0h1.8v1.8h-1.8z" fill="rgb(75, 75, 255)"/>
<path d="M814.5 214.5h1.8v1.8h-1.8zM828.0 262.5h1.8v1.8h-1.8zM829.5 228.0h1.8v1.8h-1.8zM814.5 222.0h1.8v1.8h-1.8zM829.5 231.0h1.8v1.8h-1.8zM823.5 213.0h1.8v1.8h-1.8zM829.5 232.5h1.8v1.8h-1.8zM811.5 219.0h1.8v1.8h-1.8zM808.5 217.5h1.8v1.8h-1.8zM837.0 220.5h1.8v1.8h-1.8zM820.5 213.0h1.8v1.8h-1.8zM811.5 238.5h1.8v1.8h-1.8zM831.0 249.0h1.8v1.8h-1.8zM829.5 223.5h1.8v1.8h-1.8zM808.5 244.5h1.8v1.8h-1.8zM811.5 243.0h1.8v1.8h-1.8zM831.0 244.5h1.8v1.8h-1.8zM820.5 216.0h1.8v1.8h-1.8zM813.0 237.0h1.8v1.8h-1.8zM808.5 256.5h1.8v1.8h-1.8zM817.5 219.0h1.8v1.8h-1.8zM822.0 219.0h1.8v1.8h-1.8zM808.5 226.5h1.8v1.8h-1.8zM832.5 234.0h1.8v1.8h-1.8zM829.5 222.0h1.8v1.8h-1.8zM829.5 244.5h1.8v1.8h-1.8zM811.5 216.0h1.8v1.8h-1.8zM813.0 235.5h1.8v1.8h-1.8zM822.0 220.5h1.8v1.8h-1.8zM826.5 213.0h1.8v1.8h-1.8zM819.0 249.0h1.8v1.8h-1.8zM834.0 228.0h1.8v1.8h-1.8zM817.5 214.5h1.8v1.8h-1.8zM826.5 250.5h1.8v1.8h-1.8zM826.5 253.5h1.8v1.8h-1.8zM819.0 216.0h1.8v1.8h-1.8zM811.5 234.0h1.8v1.8h-1.8zM816.0 199.5h1.8v1.8h-1.8zM826.5 219.0h1.8v1.8h-1.8zM825.0 252.0h1.8v1.8h-1.8zM810.0 232.5h1.8v1.8h-1.8zM831.0 250.5h1.8v1.8h-1.8zM826.5 217.5h1.8v1.8h-1.8zM837.0 213.0h1.8v1.8h-1.8zM816.0 247.5h1.8v1.8h-1.8zM813.0 232.5h1.8v1.8h-1.8zM826.5 252.0h1.8v1.8h-1.8zM814.5 223.5h1.8v1.8h-1.8zM808.5 241.5h1.8v1.8h-1.8zM826.5 249.0h1.8v1.8h-1.8zM814.5 246.0h1.8v1.8h-1.8zM834.0 250.5h1.8v1.8h-1.8zM805.5 219.0h1.8v1.8h-1.8zM813.0 223.5h1.8v1.8h-1.8zM832.5 219.0h1.8v1.8h-1.8zM829.5 217.5h1.8v1.8h-1.8zM834.0 232.5h1.8v1.8h-1.8zM810.0 208.5h1.8v1.8h-1.8zM816.0 252.0h1.8v1.8h-1.8zM834.0 238.5h1.8v1.8h-1.8zM816.0 222.0h1.8v1.8h-1.8zM831.0 232.5h1.8v1.8h-1.8zM828.0 222.0h1.8v1.8h-1.8zM825.0 222.0h1.8v1.8h-1.8zM831.0 235.5h1.8v1.8h-1.8zM826.5 247.5h1.8v1.8h-1.8zM822.0 250.5h1.8v1.8h-1.8zM829.5 211.5h1.8v1.8h-1.8zM808.5 240.0h1.8v1.8h-1.8zM813.0 267.0h1.8v1.8h-1.8zM823.5 214.5h1.8v1.8h-1.8zM807.0 220.5h1.8v1.8h-1.8zM826.5 211.5h1.8v1.8h-1.8zM807.0 223.5h1.8v1.8h-1.8zM822.0 211.5h1.8v1.8h-1.8zM831.0 220.5h1.8v1.8h-1.8zM829.5 237.0h1.8v1.8h-1.8zM813.0 250.5h1.8v1.8h-1.8zM832.5 222.0h1.8v1.8h-1.8zM817.5 216.0h1.8v1.8h-1.8zM816.0 255.0h1.8v1.8h-1.8zM822.0 214.5h1.8v1.8h-1.8zM813.0 210.0h1.8v1.8h-1.8zM811.5 228.0h1.8v1.8h-1.8zM813.0 231.0h1.8v1.8h-1.8zM823.5 271.5h1.8v1.8h-1.8zM817.5 252.0h1.8v1.8h-1.8zM828.0 276.0h1.8v1.8h-1.8zM823.5 252.0h1.8v1.8h-1.8zM822.0 288.0h1.8v1.8h-1.8zM820.5 256.5h1.8v1.8h-1.8zM814.5 282.0h1.8v1.8h-1.8zM820.5 289.5h1.8v1.8h-1.8zM816.0 267.0h1.8v1.8h-1.8zM823.5 265.5h1.8v1.8h-1.8zM828.0 249.0h1.8v1.8h-1.8zM817.5 295.5h1.8v1.8h-1.8zM828.0 252.0h1.8v1.8h-1.8zM822.0 280.5h1.8v1.8h-1.8zM822.0 256.5h1.8v1.8h-1.8zM828.0 246.0h1.8v1.8h-1.8zM814.5 255.0h1.8v1.8h-1.8zM816.0 259.5h1.8v1.8h-1.8zM823.5 256.5h1.8v1.8h-1.8zM813.0 256.5h1.8v1.8h-1.8zM831.0 262.5h1.8v1.8h-1.8zM820.5 259.5h1.8v1.8h-1.8zM823.5 276.0h1.8v1.8h-1.8zM814.5 279.0h1.8v1.8h-1.8zM817.5 255.0h1.8v1.8h-1.8zM823.5 264.0h1.8v1.8h-1.8zM814.5 273.0h1.8v1.8h-1.8zM816.0 300.0h1.8v1.8h-1.8zM819.0 271.5h1.8v1.8h-1.8zM814.5 271.5h1.8v1.8h-1.8zM811.5 246.0h1.8v1.8h-1.8zM822.0 282.0h1.8v1.8h-1.8zM814.5 244.5h1.8v1.8h-1.8zM825.0 258.0h1.8v1.8h-1.8zM825.0 273.0h1.8v1.8h-1.8zM814.5 288.0h1.8v1.8h-1.8zM814.5 258.0h1.8v1.8h-1.8zM825.0 277.5h1.8v1.8h-1.8zM826.5 270.0h1.8v1.8h-1.8zM826.5 276.0h1.8v1.8h-1.8zM816.0 276.0h1.8v1.8h-1.8zM834.0 252.0h1.8v1.8h-1.8zM825.0 291.0h1.8v1.8h-1.8zM823.5 259.5h1.8v1.8h-1.8zM819.0 265.5h1.8v1.8h-1.8zM820.5 277.5h1.8v1.8h-1.8zM817.5 256.5h1.8v1.8h-1.8zM808.5 280.5h1.8v1.8h-1.8zM837.0 208.5h1.8v1.8h-1.8zM843.0 240.0h1.8v1.8h-1.8zM856.5 232.5h1.8v1.8h-1.8zM835.5 207.0h1.8v1.8h-1.8zM835.5 219.0h1.8v1.8h-1.8zM849.0 279.0h1.8v1.8h-1.8zM835.5 241.5h1.8v1.8h-1.8zM838.5 255.0h1.8v1.8h-1.8zM843.0 213.0h1.8v1.8h-1.8zM849.0 258.0h1.8v1.8h-1.8zM837.0 261.0h1.8v1.8h-1.8zM837.0 289.5h1.8v1.8h-1.8zM843.0 250.5h1.8v1.8h-1.8zM837.0 225.0h1.8v1.8h-1.8zM849.0 250.5h1.8v1.8h-1.8zM838.5 249.0h1.8v1.8h-1.8zM858.0 208.5h1.8v1.8h-1.8zM843.0 247.5h1.8v1.8h-1.8zM844.5 228.0h1.8v1.8h-1.8zM849.0 235.5h1.8v1.8h-1.8zM837.0 247.5h1.8v1.8h-1.8zM840.0 237.0h1.8v1.8h-1.8zM835.5 222.0h1.8v1.8h-1.8zM862.5 210.0h1.8v1.8h-1.8zM844.5 271.5h1.8v1.8h-1.8zM840.0 243.0h1.8v1.8h-1.8zM841.5 241.5h1.8v1.8h-1.8zM843.0 261.0h1.8v1.8h-1.8zM852.0 207.0h1.8v1.8h-1.8zM837.0 255.0h1.8v1.8h-1.8zM843.0 222.0h1.8v1.8h-1.8zM847.5 238.5h1.8v1.8h-1.8zM847.5 231.0h1.8v1.8h-1.8zM858.0 238.5h1.8v1.8h-1.8zM856.5 192.0h1.8v1.8h-1.8zM871.5 156.0h1.8v1.8h-1.8zM885.0 150.0h1.8v1.8h-1.8zM873.0 165.0h1.8v1.8h-1.8zM864.0 142.5h1.8v1.8h-1.8zM862.5 175.5h1.8v1.8h-1.8zM837.0 199.5h1.8v1.8h-1.8zM825.0 213.0h1.8v1.8h-1.8zM834.0 208.5h1.8v1.8h-1.8zM825.0 192.0h1.8v1.8h-1.8zM834.0 192.0h1.8v1.8h-1.8zM837.0 196.5h1.8v1.8h-1.8zM838.5 198.0h1.8v1.8h-1.8z" fill="rgb(20, 20, 255)"/>
<path d="M820.5 252.0h1.8v1.8h-1.8zM823.5 249.0h1.8v1.8h-1.8zM813.0 241.5h1.8v1.8h-1.8z" fill="rgb(0, 0, 255)"/>
<path d="M820.5 240.0h1.8v1.8h-1.8zM814.5 229.5h1.8v1.8h-1.8zM826.5 246.0h1.8v1.8h-1.8zM829.5 241.5h1.8v1.8h-1.8zM822.0 253.5h1.8v1.8h-1.8zM816.0 220.5h1.8v1.8h-1.8zM828.0 234.0h1.8v1.8h-1.8zM814.5 231.0h1.8v1.8h-1.8zM832.5 213.0h1.8v1.8h-1.8zM823.5 258.0h1.8v1.8h-1.8zM810.0 213.0h1.8v1.8h-1.8z" fill="rgb(0, 32, 255)"/>
<path d="M820.5 247.5h1.8v1.8h-1.8zM828.0 231.0h1.8v1.8h-1.8zM810.0 234.0h1.8v1.8h-1.8zM814.5 234.0h1.8v1.8h-1.8zM822.0 246.0h1.8v1.8h-1.8zM814.5 225.0h1.8v1.8h-1.8zM828.0 225.0h1.8v1.8h-1.8zM817.5 244.5h1.8v1.8h-1.8zM819.0 222.0h1.8v1.8h-1.8zM823.5 220.5h1.8v1.8h-1.8z" fill="rgb(0, 64, 255)"/>
<path d="M816.0 240.0h1.8v1.8h-1.8zM816.0 241.5h1.8v1.8h-1.8zM828.0 238.5h1.8v1.8h-1.8zM825.0 249.0h1.8v1.8h-1.8zM823.5 219.0h1.8v1.8h-1.8zM811.5 225.0h1.8v1.8h-1.8zM816.0 226.5h1.8v1.8h-1.8zM828.0 244.5h1.8v1.8h-1.8zM822.0 210.0h1.8v1.8h-1.8zM814.5 228.0h1.8v1.8h-1.8z" fill="rgb(0, 96, 255)"/>
<path d="M831.0 238.5h1.8v1.8h-1.8zM829.5 225.0h1.8v1.8h-1.8zM813.0 228.0h1.8v1.8h-1.8zM814.5 226.5h1.8v1.8h-1.8zM828.0 243.0h1.8v1.8h-1.8z" fill="rgb(0, 128, 255)"/>
<path d="M822.0 223.5h1.8v1.8h-1.8zM817.5 241.5h1.8v1.8h-1.8zM822.0 222.0h1.8v1.8h-1.8zM817.5 247.5h1.8v1.8h-1.8zM820.5 246.0h1.8v1.8h-1.8zM829.5 238.5h1.8v1.8h-1.8zM820.5 241.5h1.8v1.8h-1.8zM828.0 237.0h1.8v1.8h-1.8zM816.0 228.0h1.8v1.8h-1.8zM822.0 244.5h1.8v1.8h-1.8zM816.0 237.0h1.8v1.8h-1.8zM822.0 252.0h1.8v1.8h-1.8z" fill="rgb(0, 160, 255)"/>
<path d="M817.5 235.5h1.8v1.8h-1.8zM825.0 225.0h1.8v1.8h-1.8zM831.0 237.0h1.8v1.8h-1.8zM825.0 228.0h1.8v1.8h-1.8zM823.5 243.0h1.8v1.8h-1.8zM820.5 243.0h1.8v1.8h-1.8zM825.0 223.5h1.8v1.8h-1.8z" fill="rgb(0, 192, 255)"/>
<path d="M826.5 226.5h1.8v1.8h-1.8zM816.0 225.0h1.8v1.8h-1.8zM819.0 244.5h1.8v1.8h-1.8z" fill="rgb(0, 224, 255)"/>
<path d="M825.0 244.5h1.8v1.8h-1.8zM819.0 223.5h1.8v1.8h-1.8zM829.5 235.5h1.8v1.8h-1.8zM817.5 243.0h1.8v1.8h-1.8zM817.5 249.0h1.8v1.8h-1.8zM817.5 226.5h1.8v1.8h-1.8zM823.5 241.5h1.8v1.8h-1.8zM822.0 249.0h1.8v1.8h-1.8z" fill="rgb(0, 224, 224)"/>
<path d="M826.5 225.0h1.8v1.8h-1.8zM825.0 243.0h1.8v1.8h-1.8z" fill="rgb(0, 224, 192)"/>
<path d="M819.0 228.0h1.8v1.8h-1.8zM823.5 231.0h1.8v1.8h-1.8zM817.5 240.0h1.8v1.8h-1.8zM816.0 232.5h1.8v1.8h-1.8zM816.0 238.5h1.8v1.8h-1.8zM817.5 238.5h1.8v1.8h-1.8z" fill="rgb(32, 224, 192)"/>
<path d="M819.0 229.5h1.8v1.8h-1.8zM819.0 235.5h1.8v1.8h-1.8zM828.0 232.5h1.8v1.8h-1.8zM820.5 222.0h1.8v1.8h-1.8zM826.5 232.5h1.8v1.8h-1.8zM826.5 240.0h1.8v1.8h-1.8zM817.5 237.0h1.8v1.8h-1.8z" fill="rgb(32, 224, 160)"/>
<path d="M828.0 240.0h1.8v1.8h-1.8zM825.0 229.5h1.8v1.8h-1.8zM826.5 244.5h1.8v1.8h-1.8z" fill="rgb(32, 224, 128)"/>
<path d="M822.0 232.5h1.8v1.8h-1.8zM829.5 229.5h1.8v1.8h-1.8zM816.0 234.0h1.8v1.8h-1.8zM828.0 228.0h1.8v1.8h-1.8zM820.5 220.5h1.8v1.8h-1.8z" fill="rgb(32, 255, 128)"/>
<path d="M825.0 235.5h1.8v1.8h-1.8zM817.5 229.5h1.8v1.8h-1.8z" fill="rgb(64, 255, 128)"/>
<path d="M823.5 229.5h1.8v1.8h-1.8zM823.5 228.0h1.8v1.8h-1.8zM825.0 234.0h1.8v1.8h-1.8zM822.0 243.0h1.8v1.8h-1.8zM819.0 237.0h1.8v1.8h-1.8zM820.5 225.0h1.8v1.8h-1.8z" fill="rgb(64, 255, 96)"/>
<path d="M825.0 232.5h1.8v1.8h-1.8zM819.0 226.5h1.8v1.8h-1.8zM826.5 229.5h1.8v1.8h-1.8zM822.0 225.0h1.8v1.8h-1.8zM819.0 238.5h1.8v1.8h-1.8zM828.0 229.5h1.8v1.8h-1.8zM825.0 241.5h1.8v1.8h-1.8zM819.0 234.0h1.8v1.8h-1.8zM822.0 241.5h1.8v1.8h-1.8zM816.0 231.0h1.8v1.8h-1.8z" fill="rgb(64, 255, 64)"/>
<path d="M817.5 228.0h1.8v1.8h-1.8zM825.0 231.0h1.8v1.8h-1.8zM822.0 240.0h1.8v1.8h-1.8zM826.5 235.5h1.8v1.8h-1.8zM823.5 244.5h1.8v1.8h-1.8z" fill="rgb(96, 255, 64)"/>
<path d="M819.0 243.0h1.8v1.8h-1.8zM819.0 232.5h1.8v1.8h-1.8zM822.0 238.5h1.8v1.8h-1.8zM822.0 228.0h1.8v1.8h-1.8zM820.5 229.5h1.8v1.8h-1.8zM823.5 240.0h1.8v1.8h-1.8zM816.0 235.5h1.8v1.8h-1.8z" fill="rgb(96, 255, 32)"/>
<path d="M822.0 226.5h1.8v1.8h-1.8zM819.0 231.0h1.8v1.8h-1.8zM826.5 243.0h1.8v1.8h-1.8zM819.0 225.0h1.8v1.8h-1.8zM823.5 226.5h1.8v1.8h-1.8z" fill="rgb(128, 255, 32)"/>
<path d="M820.5 223.5h1.8v1.8h-1.8zM826.5 237.0h1.8v1.8h-1.8zM822.0 235.5h1.8v1.8h-1.8zM826.5 228.0h1.8v1.8h-1.8zM819.0 241.5h1.8v1.8h-1.8zM825.0 237.0h1.8v1.8h-1.8z" fill="rgb(128, 255, 0)"/>
<path d="M825.0 238.5h1.8v1.8h-1.8zM826.5 238.5h1.8v1.8h-1.8zM823.5 232.5h1.8v1.8h-1.8zM822.0 231.0h1.8v1.8h-1.8zM823.5 235.5h1.8v1.8h-1.8zM820.5 238.5h1.8v1.8h-1.8zM825.0 240.0h1.8v1.8h-1.8zM817.5 231.0h1.8v1.8h-1.8z" fill="rgb(160, 255, 0)"/>
<path d="M823.5 225.0h1.8v1.8h-1.8zM820.5 226.5h1.8v1.8h-1.8zM820.5 228.0h1.8v1.8h-1.8zM825.0 246.0h1.8v1.8h-1.8zM819.0 240.0h1.8v1.8h-1.8zM826.5 241.5h1.8v1.8h-1.8zM826.5 234.0h1.8v1.8h-1.8z" fill="rgb(192, 255, 0)"/>
<path d="M822.0 229.5h1.8v1.8h-1.8zM820.5 237.0h1.8v1.8h-1.8zM817.5 232.5h1.8v1.8h-1.8z" fill="rgb(192, 224, 0)"/>
<path d="M822.0 237.0h1.8v1.8h-1.8zM820.5 235.5h1.8v1.8h-1.8zM828.0 235.5h1.8v1.8h-1.8z" fill="rgb(224, 224, 0)"/>
<path d="M823.5 234.0h1.8v1.8h-1.8z" fill="rgb(255, 224, 0)"/>
<path d="M820.5 232.5h1.8v1.8h-1.8zM820.5 234.0h1.8v1.8h-1.8z" fill="rgb(255, 192, 0)"/>
<path d="M823.5 246.0h1.8v1.8h-1.8z" fill="rgb(255, 160, 0)"/>
<path d="M820.5 231.0h1.8v1.8h-1.8z" fill="rgb(255, 96, 0)"/>
<path d="M823.5 237.0h1.8v1.8h-1.8zM823.5 238.5h1.8v1.8h-1.8zM822.0 234.0h1.8v1.8h-1.8z" fill="rgb(255, 32, 0)"/>
<path d="M867.5 307.7h1.6v1.6h-1.6zM870.1 307.7h1.6v1.6h-1.6zM823.4 307.7h1.6v1.6h-1.6zM808.3 307.7h1.6v1.6h-1.6zM812.6 307.7h1.6v1.6h-1.6zM845.0 307.7h1.6v1.6h-1.6zM825.3 307.7h1.6v1.6h-1.6zM816.7 307.7h1.6v1.6h-1.6zM839.5 307.7h1.6v1.6h-1.6zM851.8 307.7h1.6v1.6h-1.6zM852.3 307.7h1.6v1.6h-1.6zM850.4 307.7h1.6v1.6h-1.6zM881.2 307.7h1.6v1.6h-1.6zM863.8 307.7h1.6v1.6h-1.6zM852.8 307.7h1.6v1.6h-1.6zM831.9 307.7h1.6v1.6h-1.6z" fill="rgb(50,50,255)"/>
<line x1="722.50" y1="199.60" x2="972.00" y2="199.60" stroke="#000" stroke-width="2.2" stroke-linecap="butt"/>
<line x1="837.50" y1="61.20" x2="837.50" y2="310.00" stroke="#000" stroke-width="2.2" stroke-linecap="butt"/>
<line x1="715.50" y1="61.20" x2="722.50" y2="61.20" stroke="#000" stroke-width="2" stroke-linecap="butt"/>
<line x1="719.00" y1="92.76" x2="722.50" y2="92.76" stroke="#000" stroke-width="1.2" stroke-linecap="butt"/>
<line x1="719.00" y1="84.81" x2="722.50" y2="84.81" stroke="#000" stroke-width="1.2" stroke-linecap="butt"/>
<line x1="719.00" y1="79.17" x2="722.50" y2="79.17" stroke="#000" stroke-width="1.2" stroke-linecap="butt"/>
<line x1="719.00" y1="74.79" x2="722.50" y2="74.79" stroke="#000" stroke-width="1.2" stroke-linecap="butt"/>
<line x1="719.00" y1="71.22" x2="722.50" y2="71.22" stroke="#000" stroke-width="1.2" stroke-linecap="butt"/>
<line x1="719.00" y1="68.19" x2="722.50" y2="68.19" stroke="#000" stroke-width="1.2" stroke-linecap="butt"/>
<line x1="719.00" y1="65.58" x2="722.50" y2="65.58" stroke="#000" stroke-width="1.2" stroke-linecap="butt"/>
<line x1="719.00" y1="63.27" x2="722.50" y2="63.27" stroke="#000" stroke-width="1.2" stroke-linecap="butt"/>
<line x1="715.50" y1="106.35" x2="722.50" y2="106.35" stroke="#000" stroke-width="2" stroke-linecap="butt"/>
<line x1="719.00" y1="137.91" x2="722.50" y2="137.91" stroke="#000" stroke-width="1.2" stroke-linecap="butt"/>
<line x1="719.00" y1="129.96" x2="722.50" y2="129.96" stroke="#000" stroke-width="1.2" stroke-linecap="butt"/>
<line x1="719.00" y1="124.32" x2="722.50" y2="124.32" stroke="#000" stroke-width="1.2" stroke-linecap="butt"/>
<line x1="719.00" y1="119.94" x2="722.50" y2="119.94" stroke="#000" stroke-width="1.2" stroke-linecap="butt"/>
<line x1="719.00" y1="116.37" x2="722.50" y2="116.37" stroke="#000" stroke-width="1.2" stroke-linecap="butt"/>
<line x1="719.00" y1="113.34" x2="722.50" y2="113.34" stroke="#000" stroke-width="1.2" stroke-linecap="butt"/>
<line x1="719.00" y1="110.73" x2="722.50" y2="110.73" stroke="#000" stroke-width="1.2" stroke-linecap="butt"/>
<line x1="719.00" y1="108.42" x2="722.50" y2="108.42" stroke="#000" stroke-width="1.2" stroke-linecap="butt"/>
<line x1="715.50" y1="151.50" x2="722.50" y2="151.50" stroke="#000" stroke-width="2" stroke-linecap="butt"/>
<line x1="719.00" y1="183.06" x2="722.50" y2="183.06" stroke="#000" stroke-width="1.2" stroke-linecap="butt"/>
<line x1="719.00" y1="175.11" x2="722.50" y2="175.11" stroke="#000" stroke-width="1.2" stroke-linecap="butt"/>
<line x1="719.00" y1="169.47" x2="722.50" y2="169.47" stroke="#000" stroke-width="1.2" stroke-linecap="butt"/>
<line x1="719.00" y1="165.09" x2="722.50" y2="165.09" stroke="#000" stroke-width="1.2" stroke-linecap="butt"/>
<line x1="719.00" y1="161.52" x2="722.50" y2="161.52" stroke="#000" stroke-width="1.2" stroke-linecap="butt"/>
<line x1="719.00" y1="158.49" x2="722.50" y2="158.49" stroke="#000" stroke-width="1.2" stroke-linecap="butt"/>
<line x1="719.00" y1="155.88" x2="722.50" y2="155.88" stroke="#000" stroke-width="1.2" stroke-linecap="butt"/>
<line x1="719.00" y1="153.57" x2="722.50" y2="153.57" stroke="#000" stroke-width="1.2" stroke-linecap="butt"/>
<line x1="715.50" y1="196.65" x2="722.50" y2="196.65" stroke="#000" stroke-width="2" stroke-linecap="butt"/>
<line x1="719.00" y1="228.21" x2="722.50" y2="228.21" stroke="#000" stroke-width="1.2" stroke-linecap="butt"/>
<line x1="719.00" y1="220.26" x2="722.50" y2="220.26" stroke="#000" stroke-width="1.2" stroke-linecap="butt"/>
<line x1="719.00" y1="214.62" x2="722.50" y2="214.62" stroke="#000" stroke-width="1.2" stroke-linecap="butt"/>
<line x1="719.00" y1="210.24" x2="722.50" y2="210.24" stroke="#000" stroke-width="1.2" stroke-linecap="butt"/>
<line x1="719.00" y1="206.67" x2="722.50" y2="206.67" stroke="#000" stroke-width="1.2" stroke-linecap="butt"/>
<line x1="719.00" y1="203.64" x2="722.50" y2="203.64" stroke="#000" stroke-width="1.2" stroke-linecap="butt"/>
<line x1="719.00" y1="201.03" x2="722.50" y2="201.03" stroke="#000" stroke-width="1.2" stroke-linecap="butt"/>
<line x1="719.00" y1="198.72" x2="722.50" y2="198.72" stroke="#000" stroke-width="1.2" stroke-linecap="butt"/>
<line x1="715.50" y1="241.80" x2="722.50" y2="241.80" stroke="#000" stroke-width="2" stroke-linecap="butt"/>
<line x1="719.00" y1="273.36" x2="722.50" y2="273.36" stroke="#000" stroke-width="1.2" stroke-linecap="butt"/>
<line x1="719.00" y1="265.41" x2="722.50" y2="265.41" stroke="#000" stroke-width="1.2" stroke-linecap="butt"/>
<line x1="719.00" y1="259.77" x2="722.50" y2="259.77" stroke="#000" stroke-width="1.2" stroke-linecap="butt"/>
<line x1="719.00" y1="255.39" x2="722.50" y2="255.39" stroke="#000" stroke-width="1.2" stroke-linecap="butt"/>
<line x1="719.00" y1="251.82" x2="722.50" y2="251.82" stroke="#000" stroke-width="1.2" stroke-linecap="butt"/>
<line x1="719.00" y1="248.79" x2="722.50" y2="248.79" stroke="#000" stroke-width="1.2" stroke-linecap="butt"/>
<line x1="719.00" y1="246.18" x2="722.50" y2="246.18" stroke="#000" stroke-width="1.2" stroke-linecap="butt"/>
<line x1="719.00" y1="243.87" x2="722.50" y2="243.87" stroke="#000" stroke-width="1.2" stroke-linecap="butt"/>
<line x1="715.50" y1="286.95" x2="722.50" y2="286.95" stroke="#000" stroke-width="2" stroke-linecap="butt"/>
<line x1="719.00" y1="304.92" x2="722.50" y2="304.92" stroke="#000" stroke-width="1.2" stroke-linecap="butt"/>
<line x1="719.00" y1="300.54" x2="722.50" y2="300.54" stroke="#000" stroke-width="1.2" stroke-linecap="butt"/>
<line x1="719.00" y1="296.97" x2="722.50" y2="296.97" stroke="#000" stroke-width="1.2" stroke-linecap="butt"/>
<line x1="719.00" y1="293.94" x2="722.50" y2="293.94" stroke="#000" stroke-width="1.2" stroke-linecap="butt"/>
<line x1="719.00" y1="291.33" x2="722.50" y2="291.33" stroke="#000" stroke-width="1.2" stroke-linecap="butt"/>
<line x1="719.00" y1="289.02" x2="722.50" y2="289.02" stroke="#000" stroke-width="1.2" stroke-linecap="butt"/>
<line x1="719.00" y1="304.92" x2="722.50" y2="304.92" stroke="#000" stroke-width="1.2" stroke-linecap="butt"/>
<line x1="719.00" y1="300.54" x2="722.50" y2="300.54" stroke="#000" stroke-width="1.2" stroke-linecap="butt"/>
<line x1="719.00" y1="296.97" x2="722.50" y2="296.97" stroke="#000" stroke-width="1.2" stroke-linecap="butt"/>
<line x1="719.00" y1="293.94" x2="722.50" y2="293.94" stroke="#000" stroke-width="1.2" stroke-linecap="butt"/>
<line x1="719.00" y1="291.33" x2="722.50" y2="291.33" stroke="#000" stroke-width="1.2" stroke-linecap="butt"/>
<line x1="719.00" y1="289.02" x2="722.50" y2="289.02" stroke="#000" stroke-width="1.2" stroke-linecap="butt"/>
<line x1="722.50" y1="310.00" x2="722.50" y2="316.00" stroke="#000" stroke-width="2" stroke-linecap="butt"/>
<line x1="734.93" y1="310.00" x2="734.93" y2="313.50" stroke="#000" stroke-width="1.2" stroke-linecap="butt"/>
<line x1="742.21" y1="310.00" x2="742.21" y2="313.50" stroke="#000" stroke-width="1.2" stroke-linecap="butt"/>
<line x1="747.37" y1="310.00" x2="747.37" y2="313.50" stroke="#000" stroke-width="1.2" stroke-linecap="butt"/>
<line x1="751.37" y1="310.00" x2="751.37" y2="313.50" stroke="#000" stroke-width="1.2" stroke-linecap="butt"/>
<line x1="754.64" y1="310.00" x2="754.64" y2="313.50" stroke="#000" stroke-width="1.2" stroke-linecap="butt"/>
<line x1="757.40" y1="310.00" x2="757.40" y2="313.50" stroke="#000" stroke-width="1.2" stroke-linecap="butt"/>
<line x1="759.80" y1="310.00" x2="759.80" y2="313.50" stroke="#000" stroke-width="1.2" stroke-linecap="butt"/>
<line x1="761.91" y1="310.00" x2="761.91" y2="313.50" stroke="#000" stroke-width="1.2" stroke-linecap="butt"/>
<line x1="763.80" y1="310.00" x2="763.80" y2="316.00" stroke="#000" stroke-width="2" stroke-linecap="butt"/>
<line x1="776.23" y1="310.00" x2="776.23" y2="313.50" stroke="#000" stroke-width="1.2" stroke-linecap="butt"/>
<line x1="783.51" y1="310.00" x2="783.51" y2="313.50" stroke="#000" stroke-width="1.2" stroke-linecap="butt"/>
<line x1="788.67" y1="310.00" x2="788.67" y2="313.50" stroke="#000" stroke-width="1.2" stroke-linecap="butt"/>
<line x1="792.67" y1="310.00" x2="792.67" y2="313.50" stroke="#000" stroke-width="1.2" stroke-linecap="butt"/>
<line x1="795.94" y1="310.00" x2="795.94" y2="313.50" stroke="#000" stroke-width="1.2" stroke-linecap="butt"/>
<line x1="798.70" y1="310.00" x2="798.70" y2="313.50" stroke="#000" stroke-width="1.2" stroke-linecap="butt"/>
<line x1="801.10" y1="310.00" x2="801.10" y2="313.50" stroke="#000" stroke-width="1.2" stroke-linecap="butt"/>
<line x1="803.21" y1="310.00" x2="803.21" y2="313.50" stroke="#000" stroke-width="1.2" stroke-linecap="butt"/>
<line x1="805.10" y1="310.00" x2="805.10" y2="316.00" stroke="#000" stroke-width="2" stroke-linecap="butt"/>
<line x1="817.53" y1="310.00" x2="817.53" y2="313.50" stroke="#000" stroke-width="1.2" stroke-linecap="butt"/>
<line x1="824.81" y1="310.00" x2="824.81" y2="313.50" stroke="#000" stroke-width="1.2" stroke-linecap="butt"/>
<line x1="829.97" y1="310.00" x2="829.97" y2="313.50" stroke="#000" stroke-width="1.2" stroke-linecap="butt"/>
<line x1="833.97" y1="310.00" x2="833.97" y2="313.50" stroke="#000" stroke-width="1.2" stroke-linecap="butt"/>
<line x1="837.24" y1="310.00" x2="837.24" y2="313.50" stroke="#000" stroke-width="1.2" stroke-linecap="butt"/>
<line x1="840.00" y1="310.00" x2="840.00" y2="313.50" stroke="#000" stroke-width="1.2" stroke-linecap="butt"/>
<line x1="842.40" y1="310.00" x2="842.40" y2="313.50" stroke="#000" stroke-width="1.2" stroke-linecap="butt"/>
<line x1="844.51" y1="310.00" x2="844.51" y2="313.50" stroke="#000" stroke-width="1.2" stroke-linecap="butt"/>
<line x1="846.40" y1="310.00" x2="846.40" y2="316.00" stroke="#000" stroke-width="2" stroke-linecap="butt"/>
<line x1="858.83" y1="310.00" x2="858.83" y2="313.50" stroke="#000" stroke-width="1.2" stroke-linecap="butt"/>
<line x1="866.11" y1="310.00" x2="866.11" y2="313.50" stroke="#000" stroke-width="1.2" stroke-linecap="butt"/>
<line x1="871.27" y1="310.00" x2="871.27" y2="313.50" stroke="#000" stroke-width="1.2" stroke-linecap="butt"/>
<line x1="875.27" y1="310.00" x2="875.27" y2="313.50" stroke="#000" stroke-width="1.2" stroke-linecap="butt"/>
<line x1="878.54" y1="310.00" x2="878.54" y2="313.50" stroke="#000" stroke-width="1.2" stroke-linecap="butt"/>
<line x1="881.30" y1="310.00" x2="881.30" y2="313.50" stroke="#000" stroke-width="1.2" stroke-linecap="butt"/>
<line x1="883.70" y1="310.00" x2="883.70" y2="313.50" stroke="#000" stroke-width="1.2" stroke-linecap="butt"/>
<line x1="885.81" y1="310.00" x2="885.81" y2="313.50" stroke="#000" stroke-width="1.2" stroke-linecap="butt"/>
<line x1="887.70" y1="310.00" x2="887.70" y2="316.00" stroke="#000" stroke-width="2" stroke-linecap="butt"/>
<line x1="900.13" y1="310.00" x2="900.13" y2="313.50" stroke="#000" stroke-width="1.2" stroke-linecap="butt"/>
<line x1="907.41" y1="310.00" x2="907.41" y2="313.50" stroke="#000" stroke-width="1.2" stroke-linecap="butt"/>
<line x1="912.57" y1="310.00" x2="912.57" y2="313.50" stroke="#000" stroke-width="1.2" stroke-linecap="butt"/>
<line x1="916.57" y1="310.00" x2="916.57" y2="313.50" stroke="#000" stroke-width="1.2" stroke-linecap="butt"/>
<line x1="919.84" y1="310.00" x2="919.84" y2="313.50" stroke="#000" stroke-width="1.2" stroke-linecap="butt"/>
<line x1="922.60" y1="310.00" x2="922.60" y2="313.50" stroke="#000" stroke-width="1.2" stroke-linecap="butt"/>
<line x1="925.00" y1="310.00" x2="925.00" y2="313.50" stroke="#000" stroke-width="1.2" stroke-linecap="butt"/>
<line x1="927.11" y1="310.00" x2="927.11" y2="313.50" stroke="#000" stroke-width="1.2" stroke-linecap="butt"/>
<line x1="929.00" y1="310.00" x2="929.00" y2="316.00" stroke="#000" stroke-width="2" stroke-linecap="butt"/>
<line x1="941.43" y1="310.00" x2="941.43" y2="313.50" stroke="#000" stroke-width="1.2" stroke-linecap="butt"/>
<line x1="948.71" y1="310.00" x2="948.71" y2="313.50" stroke="#000" stroke-width="1.2" stroke-linecap="butt"/>
<line x1="953.87" y1="310.00" x2="953.87" y2="313.50" stroke="#000" stroke-width="1.2" stroke-linecap="butt"/>
<line x1="957.87" y1="310.00" x2="957.87" y2="313.50" stroke="#000" stroke-width="1.2" stroke-linecap="butt"/>
<line x1="961.14" y1="310.00" x2="961.14" y2="313.50" stroke="#000" stroke-width="1.2" stroke-linecap="butt"/>
<line x1="963.90" y1="310.00" x2="963.90" y2="313.50" stroke="#000" stroke-width="1.2" stroke-linecap="butt"/>
<line x1="966.30" y1="310.00" x2="966.30" y2="313.50" stroke="#000" stroke-width="1.2" stroke-linecap="butt"/>
<line x1="968.41" y1="310.00" x2="968.41" y2="313.50" stroke="#000" stroke-width="1.2" stroke-linecap="butt"/>
<line x1="970.30" y1="310.00" x2="970.30" y2="316.00" stroke="#000" stroke-width="2" stroke-linecap="butt"/>
<line x1="722.50" y1="60.70" x2="722.50" y2="310.60" stroke="#000" stroke-width="1.6" stroke-linecap="butt"/>
<line x1="721.90" y1="310.00" x2="972.60" y2="310.00" stroke="#000" stroke-width="1.6" stroke-linecap="butt"/>
<text transform="translate(697.30,75.80) skewX(-10)" font-size="10.4" textLength="8.2" lengthAdjust="spacingAndGlyphs" stroke="#000" stroke-width="0.35">10</text>
<text transform="translate(706.90,69.00) skewX(-10)" font-size="9.0" textLength="4.6" lengthAdjust="spacingAndGlyphs" stroke="#000" stroke-width="0.35">6</text>
<text transform="translate(697.30,112.75) skewX(-10)" font-size="10.4" textLength="8.2" lengthAdjust="spacingAndGlyphs" stroke="#000" stroke-width="0.35">10</text>
<text transform="translate(706.90,106.95) skewX(-10)" font-size="9.0" textLength="4.6" lengthAdjust="spacingAndGlyphs" stroke="#000" stroke-width="0.35">5</text>
<text transform="translate(697.30,157.90) skewX(-10)" font-size="10.4" textLength="8.2" lengthAdjust="spacingAndGlyphs" stroke="#000" stroke-width="0.35">10</text>
<text transform="translate(706.90,152.10) skewX(-10)" font-size="9.0" textLength="4.6" lengthAdjust="spacingAndGlyphs" stroke="#000" stroke-width="0.35">4</text>
<text transform="translate(697.30,203.05) skewX(-10)" font-size="10.4" textLength="8.2" lengthAdjust="spacingAndGlyphs" stroke="#000" stroke-width="0.35">10</text>
<text transform="translate(706.90,197.25) skewX(-10)" font-size="9.0" textLength="4.6" lengthAdjust="spacingAndGlyphs" stroke="#000" stroke-width="0.35">3</text>
<text transform="translate(697.30,248.20) skewX(-10)" font-size="10.4" textLength="8.2" lengthAdjust="spacingAndGlyphs" stroke="#000" stroke-width="0.35">10</text>
<text transform="translate(706.90,242.40) skewX(-10)" font-size="9.0" textLength="4.6" lengthAdjust="spacingAndGlyphs" stroke="#000" stroke-width="0.35">2</text>
<text transform="translate(697.30,293.35) skewX(-10)" font-size="10.4" textLength="8.2" lengthAdjust="spacingAndGlyphs" stroke="#000" stroke-width="0.35">10</text>
<text transform="translate(706.90,287.55) skewX(-10)" font-size="9.0" textLength="4.6" lengthAdjust="spacingAndGlyphs" stroke="#000" stroke-width="0.35">1</text>
<text transform="translate(727.10,331.40) skewX(-10)" font-size="9.6" textLength="8.4" lengthAdjust="spacingAndGlyphs" stroke="#000" stroke-width="0.35">10</text>
<text transform="translate(736.10,325.50) skewX(-10)" font-size="8.2" textLength="4.6" lengthAdjust="spacingAndGlyphs" stroke="#000" stroke-width="0.35">0</text>
<text transform="translate(764.60,331.40) skewX(-10)" font-size="9.6" textLength="8.4" lengthAdjust="spacingAndGlyphs" stroke="#000" stroke-width="0.35">10</text>
<text transform="translate(773.60,325.50) skewX(-10)" font-size="8.2" textLength="4.6" lengthAdjust="spacingAndGlyphs" stroke="#000" stroke-width="0.35">1</text>
<text transform="translate(805.90,331.40) skewX(-10)" font-size="9.6" textLength="8.4" lengthAdjust="spacingAndGlyphs" stroke="#000" stroke-width="0.35">10</text>
<text transform="translate(814.90,325.50) skewX(-10)" font-size="8.2" textLength="4.6" lengthAdjust="spacingAndGlyphs" stroke="#000" stroke-width="0.35">2</text>
<text transform="translate(847.20,331.40) skewX(-10)" font-size="9.6" textLength="8.4" lengthAdjust="spacingAndGlyphs" stroke="#000" stroke-width="0.35">10</text>
<text transform="translate(856.20,325.50) skewX(-10)" font-size="8.2" textLength="4.6" lengthAdjust="spacingAndGlyphs" stroke="#000" stroke-width="0.35">3</text>
<text transform="translate(888.50,331.40) skewX(-10)" font-size="9.6" textLength="8.4" lengthAdjust="spacingAndGlyphs" stroke="#000" stroke-width="0.35">10</text>
<text transform="translate(897.50,325.50) skewX(-10)" font-size="8.2" textLength="4.6" lengthAdjust="spacingAndGlyphs" stroke="#000" stroke-width="0.35">4</text>
<text transform="translate(929.80,331.40) skewX(-10)" font-size="9.6" textLength="8.4" lengthAdjust="spacingAndGlyphs" stroke="#000" stroke-width="0.35">10</text>
<text transform="translate(938.80,325.50) skewX(-10)" font-size="8.2" textLength="4.6" lengthAdjust="spacingAndGlyphs" stroke="#000" stroke-width="0.35">5</text>
<text transform="translate(958.50,331.40) skewX(-10)" font-size="9.6" textLength="8.4" lengthAdjust="spacingAndGlyphs" stroke="#000" stroke-width="0.35">10</text>
<text transform="translate(967.50,325.50) skewX(-10)" font-size="8.2" textLength="4.6" lengthAdjust="spacingAndGlyphs" stroke="#000" stroke-width="0.35">6</text>
<text x="726.2" y="80.2" font-size="10.61" text-anchor="start" fill="#000" stroke="#000" stroke-width="0.35">0,32</text>
<text x="956.6" y="80.2" font-size="10.61" text-anchor="end" fill="#000" stroke="#000" stroke-width="0.35">0,46</text>
<text x="726.2" y="299.0" font-size="10.61" text-anchor="start" fill="#000" stroke="#000" stroke-width="0.35">94,7</text>
<text x="956.6" y="299.0" font-size="10.61" text-anchor="end" fill="#000" stroke="#000" stroke-width="0.35">4,54</text>
<rect x="1025.5" y="61.2" width="249.0" height="248.8" fill="#fff" stroke="#333" stroke-width="1.2"/>
<path d="M1120.5 208.5h1.8v1.8h-1.8zM1128.0 217.5h1.8v1.8h-1.8zM1131.0 226.5h1.8v1.8h-1.8zM1113.0 228.0h1.8v1.8h-1.8zM1135.5 247.5h1.8v1.8h-1.8zM1134.0 240.0h1.8v1.8h-1.8zM1116.0 246.0h1.8v1.8h-1.8zM1131.0 250.5h1.8v1.8h-1.8zM1114.5 234.0h1.8v1.8h-1.8zM1138.5 231.0h1.8v1.8h-1.8zM1134.0 241.5h1.8v1.8h-1.8zM1122.0 220.5h1.8v1.8h-1.8zM1122.0 211.5h1.8v1.8h-1.8zM1117.5 255.0h1.8v1.8h-1.8zM1135.5 231.0h1.8v1.8h-1.8zM1128.0 255.0h1.8v1.8h-1.8zM1113.0 252.0h1.8v1.8h-1.8zM1135.5 228.0h1.8v1.8h-1.8zM1117.5 202.5h1.8v1.8h-1.8zM1119.0 265.5h1.8v1.8h-1.8zM1131.0 222.0h1.8v1.8h-1.8zM1119.0 249.0h1.8v1.8h-1.8zM1132.5 259.5h1.8v1.8h-1.8zM1132.5 234.0h1.8v1.8h-1.8zM1120.5 262.5h1.8v1.8h-1.8zM1128.0 259.5h1.8v1.8h-1.8zM1125.0 210.0h1.8v1.8h-1.8zM1120.5 216.0h1.8v1.8h-1.8zM1131.0 234.0h1.8v1.8h-1.8zM1128.0 222.0h1.8v1.8h-1.8zM1126.5 261.0h1.8v1.8h-1.8zM1128.0 226.5h1.8v1.8h-1.8zM1120.5 226.5h1.8v1.8h-1.8zM1126.5 264.0h1.8v1.8h-1.8zM1123.5 253.5h1.8v1.8h-1.8zM1132.5 240.0h1.8v1.8h-1.8zM1114.5 238.5h1.8v1.8h-1.8zM1134.0 258.0h1.8v1.8h-1.8zM1129.5 222.0h1.8v1.8h-1.8zM1117.5 223.5h1.8v1.8h-1.8zM1123.5 213.0h1.8v1.8h-1.8zM1137.0 270.0h1.8v1.8h-1.8zM1125.0 214.5h1.8v1.8h-1.8zM1129.5 216.0h1.8v1.8h-1.8zM1137.0 234.0h1.8v1.8h-1.8zM1131.0 261.0h1.8v1.8h-1.8zM1126.5 265.5h1.8v1.8h-1.8zM1134.0 243.0h1.8v1.8h-1.8zM1128.0 220.5h1.8v1.8h-1.8zM1131.0 223.5h1.8v1.8h-1.8zM1114.5 232.5h1.8v1.8h-1.8zM1120.5 214.5h1.8v1.8h-1.8zM1129.5 217.5h1.8v1.8h-1.8zM1117.5 252.0h1.8v1.8h-1.8zM1126.5 262.5h1.8v1.8h-1.8zM1137.0 244.5h1.8v1.8h-1.8zM1117.5 249.0h1.8v1.8h-1.8zM1134.0 216.0h1.8v1.8h-1.8zM1134.0 226.5h1.8v1.8h-1.8zM1111.5 264.0h1.8v1.8h-1.8zM1113.0 240.0h1.8v1.8h-1.8zM1114.5 229.5h1.8v1.8h-1.8zM1119.0 246.0h1.8v1.8h-1.8zM1120.5 256.5h1.8v1.8h-1.8zM1125.0 207.0h1.8v1.8h-1.8zM1117.5 228.0h1.8v1.8h-1.8zM1128.0 271.5h1.8v1.8h-1.8zM1125.0 220.5h1.8v1.8h-1.8zM1119.0 255.0h1.8v1.8h-1.8zM1122.0 219.0h1.8v1.8h-1.8zM1120.5 267.0h1.8v1.8h-1.8zM1137.0 255.0h1.8v1.8h-1.8zM1117.5 216.0h1.8v1.8h-1.8zM1129.5 262.5h1.8v1.8h-1.8zM1131.0 259.5h1.8v1.8h-1.8zM1114.5 253.5h1.8v1.8h-1.8zM1135.5 249.0h1.8v1.8h-1.8zM1129.5 255.0h1.8v1.8h-1.8zM1132.5 238.5h1.8v1.8h-1.8zM1116.0 211.5h1.8v1.8h-1.8zM1122.0 267.0h1.8v1.8h-1.8zM1117.5 262.5h1.8v1.8h-1.8zM1122.0 258.0h1.8v1.8h-1.8zM1131.0 252.0h1.8v1.8h-1.8zM1116.0 297.0h1.8v1.8h-1.8zM1116.0 276.0h1.8v1.8h-1.8zM1117.5 276.0h1.8v1.8h-1.8zM1117.5 268.5h1.8v1.8h-1.8zM1123.5 264.0h1.8v1.8h-1.8zM1122.0 289.5h1.8v1.8h-1.8zM1116.0 265.5h1.8v1.8h-1.8zM1123.5 268.5h1.8v1.8h-1.8zM1119.0 277.5h1.8v1.8h-1.8zM1119.0 262.5h1.8v1.8h-1.8zM1128.0 261.0h1.8v1.8h-1.8zM1120.5 286.5h1.8v1.8h-1.8zM1125.0 270.0h1.8v1.8h-1.8zM1120.5 270.0h1.8v1.8h-1.8zM1134.0 265.5h1.8v1.8h-1.8zM1128.0 270.0h1.8v1.8h-1.8zM1126.5 283.5h1.8v1.8h-1.8zM1117.5 267.0h1.8v1.8h-1.8zM1119.0 273.0h1.8v1.8h-1.8zM1123.5 261.0h1.8v1.8h-1.8zM1122.0 271.5h1.8v1.8h-1.8zM1125.0 279.0h1.8v1.8h-1.8zM1120.5 276.0h1.8v1.8h-1.8zM1128.0 273.0h1.8v1.8h-1.8zM1113.0 286.5h1.8v1.8h-1.8zM1126.5 267.0h1.8v1.8h-1.8zM1120.5 285.0h1.8v1.8h-1.8zM1122.0 270.0h1.8v1.8h-1.8zM1120.5 279.0h1.8v1.8h-1.8zM1126.5 276.0h1.8v1.8h-1.8zM1132.5 276.0h1.8v1.8h-1.8zM1122.0 280.5h1.8v1.8h-1.8zM1122.0 274.5h1.8v1.8h-1.8zM1126.5 277.5h1.8v1.8h-1.8zM1129.5 277.5h1.8v1.8h-1.8zM1122.0 292.5h1.8v1.8h-1.8zM1123.5 273.0h1.8v1.8h-1.8zM1129.5 265.5h1.8v1.8h-1.8zM1137.0 273.0h1.8v1.8h-1.8zM1141.5 216.0h1.8v1.8h-1.8zM1146.0 249.0h1.8v1.8h-1.8zM1138.5 247.5h1.8v1.8h-1.8zM1140.0 217.5h1.8v1.8h-1.8zM1143.0 249.0h1.8v1.8h-1.8zM1140.0 237.0h1.8v1.8h-1.8zM1143.0 267.0h1.8v1.8h-1.8zM1149.0 259.5h1.8v1.8h-1.8zM1138.5 235.5h1.8v1.8h-1.8zM1137.0 241.5h1.8v1.8h-1.8zM1140.0 244.5h1.8v1.8h-1.8zM1146.0 237.0h1.8v1.8h-1.8zM1137.0 222.0h1.8v1.8h-1.8zM1147.5 216.0h1.8v1.8h-1.8zM1140.0 229.5h1.8v1.8h-1.8zM1140.0 219.0h1.8v1.8h-1.8zM1141.5 229.5h1.8v1.8h-1.8zM1144.5 223.5h1.8v1.8h-1.8zM1122.0 192.0h1.8v1.8h-1.8zM1138.5 187.5h1.8v1.8h-1.8zM1132.5 172.5h1.8v1.8h-1.8zM1125.0 168.0h1.8v1.8h-1.8zM1122.0 178.5h1.8v1.8h-1.8z" fill="rgb(20, 20, 255)"/>
<path d="M1119.0 226.5h1.8v1.8h-1.8zM1114.5 240.0h1.8v1.8h-1.8zM1126.5 217.5h1.8v1.8h-1.8zM1116.0 237.0h1.8v1.8h-1.8zM1117.5 226.5h1.8v1.8h-1.8zM1131.0 225.0h1.8v1.8h-1.8zM1129.5 274.5h1.8v1.8h-1.8zM1123.5 228.0h1.8v1.8h-1.8zM1125.0 217.5h1.8v1.8h-1.8zM1122.0 217.5h1.8v1.8h-1.8zM1116.0 250.5h1.8v1.8h-1.8zM1138.5 250.5h1.8v1.8h-1.8zM1116.0 213.0h1.8v1.8h-1.8zM1116.0 268.5h1.8v1.8h-1.8zM1122.0 213.0h1.8v1.8h-1.8zM1128.0 225.0h1.8v1.8h-1.8zM1134.0 244.5h1.8v1.8h-1.8zM1128.0 267.0h1.8v1.8h-1.8zM1120.5 210.0h1.8v1.8h-1.8zM1134.0 229.5h1.8v1.8h-1.8zM1132.5 217.5h1.8v1.8h-1.8zM1114.5 231.0h1.8v1.8h-1.8zM1128.0 213.0h1.8v1.8h-1.8zM1119.0 219.0h1.8v1.8h-1.8zM1131.0 249.0h1.8v1.8h-1.8zM1131.0 219.0h1.8v1.8h-1.8zM1125.0 262.5h1.8v1.8h-1.8zM1113.0 273.0h1.8v1.8h-1.8zM1119.0 282.0h1.8v1.8h-1.8zM1128.0 289.5h1.8v1.8h-1.8zM1125.0 267.0h1.8v1.8h-1.8zM1117.5 277.5h1.8v1.8h-1.8zM1122.0 297.0h1.8v1.8h-1.8zM1116.0 282.0h1.8v1.8h-1.8zM1132.5 273.0h1.8v1.8h-1.8zM1131.0 270.0h1.8v1.8h-1.8zM1131.0 277.5h1.8v1.8h-1.8zM1140.0 255.0h1.8v1.8h-1.8zM1137.0 231.0h1.8v1.8h-1.8zM1143.0 250.5h1.8v1.8h-1.8zM1144.5 273.0h1.8v1.8h-1.8zM1138.5 220.5h1.8v1.8h-1.8zM1141.5 246.0h1.8v1.8h-1.8zM1138.5 256.5h1.8v1.8h-1.8zM1153.5 187.5h1.8v1.8h-1.8zM1153.5 238.5h1.8v1.8h-1.8zM1146.0 240.0h1.8v1.8h-1.8zM1146.0 252.0h1.8v1.8h-1.8z" fill="rgb(135, 135, 255)"/>
<path d="M1137.0 264.0h1.8v1.8h-1.8zM1117.5 273.0h1.8v1.8h-1.8zM1132.5 253.5h1.8v1.8h-1.8zM1125.0 256.5h1.8v1.8h-1.8zM1128.0 228.0h1.8v1.8h-1.8zM1117.5 222.0h1.8v1.8h-1.8zM1120.5 217.5h1.8v1.8h-1.8zM1116.0 226.5h1.8v1.8h-1.8zM1131.0 265.5h1.8v1.8h-1.8zM1131.0 253.5h1.8v1.8h-1.8zM1132.5 274.5h1.8v1.8h-1.8zM1135.5 252.0h1.8v1.8h-1.8zM1135.5 238.5h1.8v1.8h-1.8zM1129.5 214.5h1.8v1.8h-1.8zM1116.0 255.0h1.8v1.8h-1.8zM1111.5 241.5h1.8v1.8h-1.8zM1117.5 235.5h1.8v1.8h-1.8zM1110.0 243.0h1.8v1.8h-1.8zM1131.0 220.5h1.8v1.8h-1.8zM1117.5 213.0h1.8v1.8h-1.8zM1117.5 258.0h1.8v1.8h-1.8zM1128.0 229.5h1.8v1.8h-1.8zM1141.5 258.0h1.8v1.8h-1.8zM1111.5 232.5h1.8v1.8h-1.8zM1113.0 229.5h1.8v1.8h-1.8zM1125.0 219.0h1.8v1.8h-1.8zM1128.0 210.0h1.8v1.8h-1.8zM1129.5 261.0h1.8v1.8h-1.8zM1117.5 247.5h1.8v1.8h-1.8zM1114.5 259.5h1.8v1.8h-1.8zM1114.5 261.0h1.8v1.8h-1.8zM1123.5 301.5h1.8v1.8h-1.8zM1122.0 264.0h1.8v1.8h-1.8zM1126.5 274.5h1.8v1.8h-1.8zM1129.5 298.5h1.8v1.8h-1.8zM1116.0 280.5h1.8v1.8h-1.8zM1126.5 282.0h1.8v1.8h-1.8zM1125.0 268.5h1.8v1.8h-1.8zM1122.0 283.5h1.8v1.8h-1.8zM1123.5 259.5h1.8v1.8h-1.8zM1114.5 265.5h1.8v1.8h-1.8zM1119.0 259.5h1.8v1.8h-1.8zM1123.5 274.5h1.8v1.8h-1.8zM1117.5 264.0h1.8v1.8h-1.8zM1116.0 261.0h1.8v1.8h-1.8zM1120.5 282.0h1.8v1.8h-1.8zM1119.0 270.0h1.8v1.8h-1.8zM1126.5 270.0h1.8v1.8h-1.8zM1131.0 303.0h1.8v1.8h-1.8zM1126.5 280.5h1.8v1.8h-1.8zM1140.0 231.0h1.8v1.8h-1.8zM1138.5 202.5h1.8v1.8h-1.8zM1146.0 211.5h1.8v1.8h-1.8zM1138.5 249.0h1.8v1.8h-1.8zM1141.5 250.5h1.8v1.8h-1.8zM1140.0 213.0h1.8v1.8h-1.8zM1149.0 244.5h1.8v1.8h-1.8zM1144.5 277.5h1.8v1.8h-1.8zM1141.5 244.5h1.8v1.8h-1.8zM1120.5 178.5h1.8v1.8h-1.8zM1132.5 192.0h1.8v1.8h-1.8zM1141.5 175.5h1.8v1.8h-1.8z" fill="rgb(75, 75, 255)"/>
<path d="M1132.5 229.5h1.8v1.8h-1.8zM1119.0 222.0h1.8v1.8h-1.8zM1132.5 249.0h1.8v1.8h-1.8zM1122.0 261.0h1.8v1.8h-1.8zM1123.5 219.0h1.8v1.8h-1.8zM1117.5 259.5h1.8v1.8h-1.8zM1134.0 247.5h1.8v1.8h-1.8z" fill="rgb(0, 0, 255)"/>
<path d="M1116.0 223.5h1.8v1.8h-1.8zM1123.5 222.0h1.8v1.8h-1.8zM1122.0 223.5h1.8v1.8h-1.8zM1128.0 247.5h1.8v1.8h-1.8zM1122.0 255.0h1.8v1.8h-1.8zM1126.5 258.0h1.8v1.8h-1.8zM1117.5 244.5h1.8v1.8h-1.8zM1131.0 235.5h1.8v1.8h-1.8zM1122.0 262.5h1.8v1.8h-1.8zM1111.5 226.5h1.8v1.8h-1.8zM1114.5 246.0h1.8v1.8h-1.8zM1122.0 214.5h1.8v1.8h-1.8zM1122.0 250.5h1.8v1.8h-1.8zM1116.0 232.5h1.8v1.8h-1.8zM1125.0 259.5h1.8v1.8h-1.8zM1119.0 268.5h1.8v1.8h-1.8z" fill="rgb(0, 32, 255)"/>
<path d="M1129.5 264.0h1.8v1.8h-1.8zM1120.5 250.5h1.8v1.8h-1.8zM1117.5 232.5h1.8v1.8h-1.8zM1117.5 237.0h1.8v1.8h-1.8zM1132.5 237.0h1.8v1.8h-1.8zM1117.5 240.0h1.8v1.8h-1.8zM1128.0 250.5h1.8v1.8h-1.8zM1122.0 259.5h1.8v1.8h-1.8zM1119.0 244.5h1.8v1.8h-1.8zM1128.0 253.5h1.8v1.8h-1.8zM1120.5 258.0h1.8v1.8h-1.8z" fill="rgb(0, 64, 255)"/>
<path d="M1117.5 234.0h1.8v1.8h-1.8zM1129.5 234.0h1.8v1.8h-1.8zM1120.5 220.5h1.8v1.8h-1.8zM1131.0 232.5h1.8v1.8h-1.8zM1125.0 222.0h1.8v1.8h-1.8zM1129.5 231.0h1.8v1.8h-1.8zM1117.5 243.0h1.8v1.8h-1.8zM1123.5 271.5h1.8v1.8h-1.8zM1119.0 267.0h1.8v1.8h-1.8z" fill="rgb(0, 96, 255)"/>
<path d="M1122.0 249.0h1.8v1.8h-1.8zM1131.0 247.5h1.8v1.8h-1.8zM1123.5 246.0h1.8v1.8h-1.8zM1129.5 225.0h1.8v1.8h-1.8zM1120.5 225.0h1.8v1.8h-1.8zM1129.5 252.0h1.8v1.8h-1.8zM1126.5 228.0h1.8v1.8h-1.8zM1125.0 228.0h1.8v1.8h-1.8zM1126.5 229.5h1.8v1.8h-1.8zM1123.5 223.5h1.8v1.8h-1.8zM1131.0 246.0h1.8v1.8h-1.8zM1125.0 229.5h1.8v1.8h-1.8zM1131.0 244.5h1.8v1.8h-1.8zM1126.5 259.5h1.8v1.8h-1.8zM1125.0 252.0h1.8v1.8h-1.8zM1126.5 225.0h1.8v1.8h-1.8zM1125.0 264.0h1.8v1.8h-1.8z" fill="rgb(0, 128, 255)"/>
<path d="M1120.5 249.0h1.8v1.8h-1.8zM1129.5 243.0h1.8v1.8h-1.8zM1122.0 231.0h1.8v1.8h-1.8zM1122.0 256.5h1.8v1.8h-1.8zM1125.0 225.0h1.8v1.8h-1.8zM1123.5 250.5h1.8v1.8h-1.8zM1129.5 229.5h1.8v1.8h-1.8zM1125.0 255.0h1.8v1.8h-1.8zM1132.5 246.0h1.8v1.8h-1.8zM1122.0 222.0h1.8v1.8h-1.8z" fill="rgb(0, 160, 255)"/>
<path d="M1123.5 225.0h1.8v1.8h-1.8zM1126.5 252.0h1.8v1.8h-1.8zM1126.5 235.5h1.8v1.8h-1.8zM1125.0 246.0h1.8v1.8h-1.8zM1119.0 231.0h1.8v1.8h-1.8zM1120.5 222.0h1.8v1.8h-1.8zM1125.0 223.5h1.8v1.8h-1.8zM1129.5 249.0h1.8v1.8h-1.8zM1119.0 252.0h1.8v1.8h-1.8zM1122.0 225.0h1.8v1.8h-1.8zM1129.5 253.5h1.8v1.8h-1.8zM1119.0 250.5h1.8v1.8h-1.8zM1126.5 223.5h1.8v1.8h-1.8z" fill="rgb(0, 192, 255)"/>
<path d="M1122.0 252.0h1.8v1.8h-1.8zM1117.5 241.5h1.8v1.8h-1.8zM1123.5 226.5h1.8v1.8h-1.8zM1116.0 238.5h1.8v1.8h-1.8zM1122.0 268.5h1.8v1.8h-1.8zM1129.5 258.0h1.8v1.8h-1.8z" fill="rgb(0, 224, 255)"/>
<path d="M1119.0 229.5h1.8v1.8h-1.8zM1129.5 241.5h1.8v1.8h-1.8zM1129.5 232.5h1.8v1.8h-1.8zM1120.5 235.5h1.8v1.8h-1.8zM1123.5 256.5h1.8v1.8h-1.8zM1122.0 226.5h1.8v1.8h-1.8zM1122.0 228.0h1.8v1.8h-1.8zM1129.5 246.0h1.8v1.8h-1.8zM1126.5 256.5h1.8v1.8h-1.8zM1119.0 235.5h1.8v1.8h-1.8z" fill="rgb(0, 224, 224)"/>
<path d="M1131.0 237.0h1.8v1.8h-1.8z" fill="rgb(0, 224, 192)"/>
<path d="M1128.0 235.5h1.8v1.8h-1.8zM1120.5 247.5h1.8v1.8h-1.8zM1120.5 241.5h1.8v1.8h-1.8zM1128.0 234.0h1.8v1.8h-1.8zM1116.0 240.0h1.8v1.8h-1.8zM1126.5 240.0h1.8v1.8h-1.8zM1122.0 232.5h1.8v1.8h-1.8zM1120.5 252.0h1.8v1.8h-1.8zM1129.5 250.5h1.8v1.8h-1.8z" fill="rgb(32, 224, 192)"/>
<path d="M1120.5 232.5h1.8v1.8h-1.8zM1123.5 240.0h1.8v1.8h-1.8zM1125.0 226.5h1.8v1.8h-1.8zM1131.0 243.0h1.8v1.8h-1.8zM1128.0 240.0h1.8v1.8h-1.8zM1125.0 250.5h1.8v1.8h-1.8zM1122.0 243.0h1.8v1.8h-1.8zM1128.0 232.5h1.8v1.8h-1.8z" fill="rgb(32, 224, 160)"/>
<path d="M1119.0 234.0h1.8v1.8h-1.8zM1119.0 241.5h1.8v1.8h-1.8zM1128.0 237.0h1.8v1.8h-1.8z" fill="rgb(32, 224, 128)"/>
<path d="M1119.0 238.5h1.8v1.8h-1.8zM1120.5 231.0h1.8v1.8h-1.8zM1128.0 246.0h1.8v1.8h-1.8zM1119.0 243.0h1.8v1.8h-1.8zM1126.5 234.0h1.8v1.8h-1.8zM1123.5 244.5h1.8v1.8h-1.8zM1123.5 229.5h1.8v1.8h-1.8zM1122.0 229.5h1.8v1.8h-1.8z" fill="rgb(32, 255, 128)"/>
<path d="M1120.5 219.0h1.8v1.8h-1.8zM1129.5 259.5h1.8v1.8h-1.8zM1123.5 235.5h1.8v1.8h-1.8zM1128.0 244.5h1.8v1.8h-1.8zM1129.5 238.5h1.8v1.8h-1.8zM1125.0 253.5h1.8v1.8h-1.8zM1123.5 249.0h1.8v1.8h-1.8zM1128.0 252.0h1.8v1.8h-1.8zM1120.5 238.5h1.8v1.8h-1.8z" fill="rgb(64, 255, 96)"/>
<path d="M1128.0 249.0h1.8v1.8h-1.8zM1126.5 243.0h1.8v1.8h-1.8zM1126.5 246.0h1.8v1.8h-1.8zM1125.0 244.5h1.8v1.8h-1.8zM1126.5 250.5h1.8v1.8h-1.8zM1126.5 226.5h1.8v1.8h-1.8zM1122.0 241.5h1.8v1.8h-1.8z" fill="rgb(64, 255, 64)"/>
<path d="M1126.5 249.0h1.8v1.8h-1.8zM1119.0 237.0h1.8v1.8h-1.8zM1128.0 231.0h1.8v1.8h-1.8z" fill="rgb(96, 255, 64)"/>
<path d="M1122.0 238.5h1.8v1.8h-1.8zM1129.5 247.5h1.8v1.8h-1.8zM1123.5 231.0h1.8v1.8h-1.8zM1129.5 235.5h1.8v1.8h-1.8z" fill="rgb(96, 255, 32)"/>
<path d="M1125.0 234.0h1.8v1.8h-1.8zM1120.5 243.0h1.8v1.8h-1.8zM1128.0 238.5h1.8v1.8h-1.8zM1125.0 231.0h1.8v1.8h-1.8zM1119.0 240.0h1.8v1.8h-1.8zM1129.5 237.0h1.8v1.8h-1.8zM1128.0 241.5h1.8v1.8h-1.8z" fill="rgb(128, 255, 32)"/>
<path d="M1126.5 241.5h1.8v1.8h-1.8z" fill="rgb(128, 255, 0)"/>
<path d="M1122.0 247.5h1.8v1.8h-1.8zM1122.0 235.5h1.8v1.8h-1.8zM1125.0 249.0h1.8v1.8h-1.8zM1125.0 243.0h1.8v1.8h-1.8zM1123.5 243.0h1.8v1.8h-1.8zM1120.5 240.0h1.8v1.8h-1.8z" fill="rgb(160, 255, 0)"/>
<path d="M1126.5 237.0h1.8v1.8h-1.8zM1120.5 237.0h1.8v1.8h-1.8zM1123.5 232.5h1.8v1.8h-1.8z" fill="rgb(192, 255, 0)"/>
<path d="M1120.5 246.0h1.8v1.8h-1.8z" fill="rgb(192, 224, 0)"/>
<path d="M1122.0 234.0h1.8v1.8h-1.8zM1125.0 232.5h1.8v1.8h-1.8zM1126.5 238.5h1.8v1.8h-1.8z" fill="rgb(224, 224, 0)"/>
<path d="M1123.5 234.0h1.8v1.8h-1.8zM1125.0 238.5h1.8v1.8h-1.8z" fill="rgb(255, 192, 0)"/>
<path d="M1125.0 237.0h1.8v1.8h-1.8z" fill="rgb(255, 160, 0)"/>
<path d="M1120.5 234.0h1.8v1.8h-1.8zM1123.5 237.0h1.8v1.8h-1.8zM1128.0 243.0h1.8v1.8h-1.8z" fill="rgb(255, 128, 0)"/>
<path d="M1125.0 240.0h1.8v1.8h-1.8zM1122.0 244.5h1.8v1.8h-1.8z" fill="rgb(255, 96, 0)"/>
<path d="M1122.0 237.0h1.8v1.8h-1.8zM1123.5 241.5h1.8v1.8h-1.8zM1126.5 247.5h1.8v1.8h-1.8zM1125.0 235.5h1.8v1.8h-1.8zM1123.5 238.5h1.8v1.8h-1.8zM1122.0 246.0h1.8v1.8h-1.8zM1125.0 247.5h1.8v1.8h-1.8zM1122.0 240.0h1.8v1.8h-1.8z" fill="rgb(255, 32, 0)"/>
<path d="M1160.9 307.7h1.6v1.6h-1.6zM1140.2 307.7h1.6v1.6h-1.6zM1160.2 307.7h1.6v1.6h-1.6zM1141.3 307.7h1.6v1.6h-1.6zM1146.9 307.7h1.6v1.6h-1.6zM1154.1 307.7h1.6v1.6h-1.6zM1111.1 307.7h1.6v1.6h-1.6zM1172.2 307.7h1.6v1.6h-1.6zM1118.1 307.7h1.6v1.6h-1.6zM1162.3 307.7h1.6v1.6h-1.6zM1159.5 307.7h1.6v1.6h-1.6zM1144.5 307.7h1.6v1.6h-1.6zM1115.5 307.7h1.6v1.6h-1.6zM1174.9 307.7h1.6v1.6h-1.6z" fill="rgb(50,50,255)"/>
<line x1="1025.50" y1="199.60" x2="1274.50" y2="199.60" stroke="#000" stroke-width="2.2" stroke-linecap="butt"/>
<line x1="1140.00" y1="61.20" x2="1140.00" y2="310.00" stroke="#000" stroke-width="2.2" stroke-linecap="butt"/>
<line x1="1018.50" y1="61.20" x2="1025.50" y2="61.20" stroke="#000" stroke-width="2" stroke-linecap="butt"/>
<line x1="1022.00" y1="92.76" x2="1025.50" y2="92.76" stroke="#000" stroke-width="1.2" stroke-linecap="butt"/>
<line x1="1022.00" y1="84.81" x2="1025.50" y2="84.81" stroke="#000" stroke-width="1.2" stroke-linecap="butt"/>
<line x1="1022.00" y1="79.17" x2="1025.50" y2="79.17" stroke="#000" stroke-width="1.2" stroke-linecap="butt"/>
<line x1="1022.00" y1="74.79" x2="1025.50" y2="74.79" stroke="#000" stroke-width="1.2" stroke-linecap="butt"/>
<line x1="1022.00" y1="71.22" x2="1025.50" y2="71.22" stroke="#000" stroke-width="1.2" stroke-linecap="butt"/>
<line x1="1022.00" y1="68.19" x2="1025.50" y2="68.19" stroke="#000" stroke-width="1.2" stroke-linecap="butt"/>
<line x1="1022.00" y1="65.58" x2="1025.50" y2="65.58" stroke="#000" stroke-width="1.2" stroke-linecap="butt"/>
<line x1="1022.00" y1="63.27" x2="1025.50" y2="63.27" stroke="#000" stroke-width="1.2" stroke-linecap="butt"/>
<line x1="1018.50" y1="106.35" x2="1025.50" y2="106.35" stroke="#000" stroke-width="2" stroke-linecap="butt"/>
<line x1="1022.00" y1="137.91" x2="1025.50" y2="137.91" stroke="#000" stroke-width="1.2" stroke-linecap="butt"/>
<line x1="1022.00" y1="129.96" x2="1025.50" y2="129.96" stroke="#000" stroke-width="1.2" stroke-linecap="butt"/>
<line x1="1022.00" y1="124.32" x2="1025.50" y2="124.32" stroke="#000" stroke-width="1.2" stroke-linecap="butt"/>
<line x1="1022.00" y1="119.94" x2="1025.50" y2="119.94" stroke="#000" stroke-width="1.2" stroke-linecap="butt"/>
<line x1="1022.00" y1="116.37" x2="1025.50" y2="116.37" stroke="#000" stroke-width="1.2" stroke-linecap="butt"/>
<line x1="1022.00" y1="113.34" x2="1025.50" y2="113.34" stroke="#000" stroke-width="1.2" stroke-linecap="butt"/>
<line x1="1022.00" y1="110.73" x2="1025.50" y2="110.73" stroke="#000" stroke-width="1.2" stroke-linecap="butt"/>
<line x1="1022.00" y1="108.42" x2="1025.50" y2="108.42" stroke="#000" stroke-width="1.2" stroke-linecap="butt"/>
<line x1="1018.50" y1="151.50" x2="1025.50" y2="151.50" stroke="#000" stroke-width="2" stroke-linecap="butt"/>
<line x1="1022.00" y1="183.06" x2="1025.50" y2="183.06" stroke="#000" stroke-width="1.2" stroke-linecap="butt"/>
<line x1="1022.00" y1="175.11" x2="1025.50" y2="175.11" stroke="#000" stroke-width="1.2" stroke-linecap="butt"/>
<line x1="1022.00" y1="169.47" x2="1025.50" y2="169.47" stroke="#000" stroke-width="1.2" stroke-linecap="butt"/>
<line x1="1022.00" y1="165.09" x2="1025.50" y2="165.09" stroke="#000" stroke-width="1.2" stroke-linecap="butt"/>
<line x1="1022.00" y1="161.52" x2="1025.50" y2="161.52" stroke="#000" stroke-width="1.2" stroke-linecap="butt"/>
<line x1="1022.00" y1="158.49" x2="1025.50" y2="158.49" stroke="#000" stroke-width="1.2" stroke-linecap="butt"/>
<line x1="1022.00" y1="155.88" x2="1025.50" y2="155.88" stroke="#000" stroke-width="1.2" stroke-linecap="butt"/>
<line x1="1022.00" y1="153.57" x2="1025.50" y2="153.57" stroke="#000" stroke-width="1.2" stroke-linecap="butt"/>
<line x1="1018.50" y1="196.65" x2="1025.50" y2="196.65" stroke="#000" stroke-width="2" stroke-linecap="butt"/>
<line x1="1022.00" y1="228.21" x2="1025.50" y2="228.21" stroke="#000" stroke-width="1.2" stroke-linecap="butt"/>
<line x1="1022.00" y1="220.26" x2="1025.50" y2="220.26" stroke="#000" stroke-width="1.2" stroke-linecap="butt"/>
<line x1="1022.00" y1="214.62" x2="1025.50" y2="214.62" stroke="#000" stroke-width="1.2" stroke-linecap="butt"/>
<line x1="1022.00" y1="210.24" x2="1025.50" y2="210.24" stroke="#000" stroke-width="1.2" stroke-linecap="butt"/>
<line x1="1022.00" y1="206.67" x2="1025.50" y2="206.67" stroke="#000" stroke-width="1.2" stroke-linecap="butt"/>
<line x1="1022.00" y1="203.64" x2="1025.50" y2="203.64" stroke="#000" stroke-width="1.2" stroke-linecap="butt"/>
<line x1="1022.00" y1="201.03" x2="1025.50" y2="201.03" stroke="#000" stroke-width="1.2" stroke-linecap="butt"/>
<line x1="1022.00" y1="198.72" x2="1025.50" y2="198.72" stroke="#000" stroke-width="1.2" stroke-linecap="butt"/>
<line x1="1018.50" y1="241.80" x2="1025.50" y2="241.80" stroke="#000" stroke-width="2" stroke-linecap="butt"/>
<line x1="1022.00" y1="273.36" x2="1025.50" y2="273.36" stroke="#000" stroke-width="1.2" stroke-linecap="butt"/>
<line x1="1022.00" y1="265.41" x2="1025.50" y2="265.41" stroke="#000" stroke-width="1.2" stroke-linecap="butt"/>
<line x1="1022.00" y1="259.77" x2="1025.50" y2="259.77" stroke="#000" stroke-width="1.2" stroke-linecap="butt"/>
<line x1="1022.00" y1="255.39" x2="1025.50" y2="255.39" stroke="#000" stroke-width="1.2" stroke-linecap="butt"/>
<line x1="1022.00" y1="251.82" x2="1025.50" y2="251.82" stroke="#000" stroke-width="1.2" stroke-linecap="butt"/>
<line x1="1022.00" y1="248.79" x2="1025.50" y2="248.79" stroke="#000" stroke-width="1.2" stroke-linecap="butt"/>
<line x1="1022.00" y1="246.18" x2="1025.50" y2="246.18" stroke="#000" stroke-width="1.2" stroke-linecap="butt"/>
<line x1="1022.00" y1="243.87" x2="1025.50" y2="243.87" stroke="#000" stroke-width="1.2" stroke-linecap="butt"/>
<line x1="1018.50" y1="286.95" x2="1025.50" y2="286.95" stroke="#000" stroke-width="2" stroke-linecap="butt"/>
<line x1="1022.00" y1="304.92" x2="1025.50" y2="304.92" stroke="#000" stroke-width="1.2" stroke-linecap="butt"/>
<line x1="1022.00" y1="300.54" x2="1025.50" y2="300.54" stroke="#000" stroke-width="1.2" stroke-linecap="butt"/>
<line x1="1022.00" y1="296.97" x2="1025.50" y2="296.97" stroke="#000" stroke-width="1.2" stroke-linecap="butt"/>
<line x1="1022.00" y1="293.94" x2="1025.50" y2="293.94" stroke="#000" stroke-width="1.2" stroke-linecap="butt"/>
<line x1="1022.00" y1="291.33" x2="1025.50" y2="291.33" stroke="#000" stroke-width="1.2" stroke-linecap="butt"/>
<line x1="1022.00" y1="289.02" x2="1025.50" y2="289.02" stroke="#000" stroke-width="1.2" stroke-linecap="butt"/>
<line x1="1022.00" y1="304.92" x2="1025.50" y2="304.92" stroke="#000" stroke-width="1.2" stroke-linecap="butt"/>
<line x1="1022.00" y1="300.54" x2="1025.50" y2="300.54" stroke="#000" stroke-width="1.2" stroke-linecap="butt"/>
<line x1="1022.00" y1="296.97" x2="1025.50" y2="296.97" stroke="#000" stroke-width="1.2" stroke-linecap="butt"/>
<line x1="1022.00" y1="293.94" x2="1025.50" y2="293.94" stroke="#000" stroke-width="1.2" stroke-linecap="butt"/>
<line x1="1022.00" y1="291.33" x2="1025.50" y2="291.33" stroke="#000" stroke-width="1.2" stroke-linecap="butt"/>
<line x1="1022.00" y1="289.02" x2="1025.50" y2="289.02" stroke="#000" stroke-width="1.2" stroke-linecap="butt"/>
<line x1="1025.50" y1="310.00" x2="1025.50" y2="316.00" stroke="#000" stroke-width="2" stroke-linecap="butt"/>
<line x1="1037.93" y1="310.00" x2="1037.93" y2="313.50" stroke="#000" stroke-width="1.2" stroke-linecap="butt"/>
<line x1="1045.21" y1="310.00" x2="1045.21" y2="313.50" stroke="#000" stroke-width="1.2" stroke-linecap="butt"/>
<line x1="1050.37" y1="310.00" x2="1050.37" y2="313.50" stroke="#000" stroke-width="1.2" stroke-linecap="butt"/>
<line x1="1054.37" y1="310.00" x2="1054.37" y2="313.50" stroke="#000" stroke-width="1.2" stroke-linecap="butt"/>
<line x1="1057.64" y1="310.00" x2="1057.64" y2="313.50" stroke="#000" stroke-width="1.2" stroke-linecap="butt"/>
<line x1="1060.40" y1="310.00" x2="1060.40" y2="313.50" stroke="#000" stroke-width="1.2" stroke-linecap="butt"/>
<line x1="1062.80" y1="310.00" x2="1062.80" y2="313.50" stroke="#000" stroke-width="1.2" stroke-linecap="butt"/>
<line x1="1064.91" y1="310.00" x2="1064.91" y2="313.50" stroke="#000" stroke-width="1.2" stroke-linecap="butt"/>
<line x1="1066.80" y1="310.00" x2="1066.80" y2="316.00" stroke="#000" stroke-width="2" stroke-linecap="butt"/>
<line x1="1079.23" y1="310.00" x2="1079.23" y2="313.50" stroke="#000" stroke-width="1.2" stroke-linecap="butt"/>
<line x1="1086.51" y1="310.00" x2="1086.51" y2="313.50" stroke="#000" stroke-width="1.2" stroke-linecap="butt"/>
<line x1="1091.67" y1="310.00" x2="1091.67" y2="313.50" stroke="#000" stroke-width="1.2" stroke-linecap="butt"/>
<line x1="1095.67" y1="310.00" x2="1095.67" y2="313.50" stroke="#000" stroke-width="1.2" stroke-linecap="butt"/>
<line x1="1098.94" y1="310.00" x2="1098.94" y2="313.50" stroke="#000" stroke-width="1.2" stroke-linecap="butt"/>
<line x1="1101.70" y1="310.00" x2="1101.70" y2="313.50" stroke="#000" stroke-width="1.2" stroke-linecap="butt"/>
<line x1="1104.10" y1="310.00" x2="1104.10" y2="313.50" stroke="#000" stroke-width="1.2" stroke-linecap="butt"/>
<line x1="1106.21" y1="310.00" x2="1106.21" y2="313.50" stroke="#000" stroke-width="1.2" stroke-linecap="butt"/>
<line x1="1108.10" y1="310.00" x2="1108.10" y2="316.00" stroke="#000" stroke-width="2" stroke-linecap="butt"/>
<line x1="1120.53" y1="310.00" x2="1120.53" y2="313.50" stroke="#000" stroke-width="1.2" stroke-linecap="butt"/>
<line x1="1127.81" y1="310.00" x2="1127.81" y2="313.50" stroke="#000" stroke-width="1.2" stroke-linecap="butt"/>
<line x1="1132.97" y1="310.00" x2="1132.97" y2="313.50" stroke="#000" stroke-width="1.2" stroke-linecap="butt"/>
<line x1="1136.97" y1="310.00" x2="1136.97" y2="313.50" stroke="#000" stroke-width="1.2" stroke-linecap="butt"/>
<line x1="1140.24" y1="310.00" x2="1140.24" y2="313.50" stroke="#000" stroke-width="1.2" stroke-linecap="butt"/>
<line x1="1143.00" y1="310.00" x2="1143.00" y2="313.50" stroke="#000" stroke-width="1.2" stroke-linecap="butt"/>
<line x1="1145.40" y1="310.00" x2="1145.40" y2="313.50" stroke="#000" stroke-width="1.2" stroke-linecap="butt"/>
<line x1="1147.51" y1="310.00" x2="1147.51" y2="313.50" stroke="#000" stroke-width="1.2" stroke-linecap="butt"/>
<line x1="1149.40" y1="310.00" x2="1149.40" y2="316.00" stroke="#000" stroke-width="2" stroke-linecap="butt"/>
<line x1="1161.83" y1="310.00" x2="1161.83" y2="313.50" stroke="#000" stroke-width="1.2" stroke-linecap="butt"/>
<line x1="1169.11" y1="310.00" x2="1169.11" y2="313.50" stroke="#000" stroke-width="1.2" stroke-linecap="butt"/>
<line x1="1174.27" y1="310.00" x2="1174.27" y2="313.50" stroke="#000" stroke-width="1.2" stroke-linecap="butt"/>
<line x1="1178.27" y1="310.00" x2="1178.27" y2="313.50" stroke="#000" stroke-width="1.2" stroke-linecap="butt"/>
<line x1="1181.54" y1="310.00" x2="1181.54" y2="313.50" stroke="#000" stroke-width="1.2" stroke-linecap="butt"/>
<line x1="1184.30" y1="310.00" x2="1184.30" y2="313.50" stroke="#000" stroke-width="1.2" stroke-linecap="butt"/>
<line x1="1186.70" y1="310.00" x2="1186.70" y2="313.50" stroke="#000" stroke-width="1.2" stroke-linecap="butt"/>
<line x1="1188.81" y1="310.00" x2="1188.81" y2="313.50" stroke="#000" stroke-width="1.2" stroke-linecap="butt"/>
<line x1="1190.70" y1="310.00" x2="1190.70" y2="316.00" stroke="#000" stroke-width="2" stroke-linecap="butt"/>
<line x1="1203.13" y1="310.00" x2="1203.13" y2="313.50" stroke="#000" stroke-width="1.2" stroke-linecap="butt"/>
<line x1="1210.41" y1="310.00" x2="1210.41" y2="313.50" stroke="#000" stroke-width="1.2" stroke-linecap="butt"/>
<line x1="1215.57" y1="310.00" x2="1215.57" y2="313.50" stroke="#000" stroke-width="1.2" stroke-linecap="butt"/>
<line x1="1219.57" y1="310.00" x2="1219.57" y2="313.50" stroke="#000" stroke-width="1.2" stroke-linecap="butt"/>
<line x1="1222.84" y1="310.00" x2="1222.84" y2="313.50" stroke="#000" stroke-width="1.2" stroke-linecap="butt"/>
<line x1="1225.60" y1="310.00" x2="1225.60" y2="313.50" stroke="#000" stroke-width="1.2" stroke-linecap="butt"/>
<line x1="1228.00" y1="310.00" x2="1228.00" y2="313.50" stroke="#000" stroke-width="1.2" stroke-linecap="butt"/>
<line x1="1230.11" y1="310.00" x2="1230.11" y2="313.50" stroke="#000" stroke-width="1.2" stroke-linecap="butt"/>
<line x1="1232.00" y1="310.00" x2="1232.00" y2="316.00" stroke="#000" stroke-width="2" stroke-linecap="butt"/>
<line x1="1244.43" y1="310.00" x2="1244.43" y2="313.50" stroke="#000" stroke-width="1.2" stroke-linecap="butt"/>
<line x1="1251.71" y1="310.00" x2="1251.71" y2="313.50" stroke="#000" stroke-width="1.2" stroke-linecap="butt"/>
<line x1="1256.87" y1="310.00" x2="1256.87" y2="313.50" stroke="#000" stroke-width="1.2" stroke-linecap="butt"/>
<line x1="1260.87" y1="310.00" x2="1260.87" y2="313.50" stroke="#000" stroke-width="1.2" stroke-linecap="butt"/>
<line x1="1264.14" y1="310.00" x2="1264.14" y2="313.50" stroke="#000" stroke-width="1.2" stroke-linecap="butt"/>
<line x1="1266.90" y1="310.00" x2="1266.90" y2="313.50" stroke="#000" stroke-width="1.2" stroke-linecap="butt"/>
<line x1="1269.30" y1="310.00" x2="1269.30" y2="313.50" stroke="#000" stroke-width="1.2" stroke-linecap="butt"/>
<line x1="1271.41" y1="310.00" x2="1271.41" y2="313.50" stroke="#000" stroke-width="1.2" stroke-linecap="butt"/>
<line x1="1273.30" y1="310.00" x2="1273.30" y2="316.00" stroke="#000" stroke-width="2" stroke-linecap="butt"/>
<line x1="1025.50" y1="60.70" x2="1025.50" y2="310.60" stroke="#000" stroke-width="1.6" stroke-linecap="butt"/>
<line x1="1024.90" y1="310.00" x2="1275.10" y2="310.00" stroke="#000" stroke-width="1.6" stroke-linecap="butt"/>
<text transform="translate(1000.30,75.80) skewX(-10)" font-size="10.4" textLength="8.2" lengthAdjust="spacingAndGlyphs" stroke="#000" stroke-width="0.35">10</text>
<text transform="translate(1009.90,69.00) skewX(-10)" font-size="9.0" textLength="4.6" lengthAdjust="spacingAndGlyphs" stroke="#000" stroke-width="0.35">6</text>
<text transform="translate(1000.30,112.75) skewX(-10)" font-size="10.4" textLength="8.2" lengthAdjust="spacingAndGlyphs" stroke="#000" stroke-width="0.35">10</text>
<text transform="translate(1009.90,106.95) skewX(-10)" font-size="9.0" textLength="4.6" lengthAdjust="spacingAndGlyphs" stroke="#000" stroke-width="0.35">5</text>
<text transform="translate(1000.30,157.90) skewX(-10)" font-size="10.4" textLength="8.2" lengthAdjust="spacingAndGlyphs" stroke="#000" stroke-width="0.35">10</text>
<text transform="translate(1009.90,152.10) skewX(-10)" font-size="9.0" textLength="4.6" lengthAdjust="spacingAndGlyphs" stroke="#000" stroke-width="0.35">4</text>
<text transform="translate(1000.30,203.05) skewX(-10)" font-size="10.4" textLength="8.2" lengthAdjust="spacingAndGlyphs" stroke="#000" stroke-width="0.35">10</text>
<text transform="translate(1009.90,197.25) skewX(-10)" font-size="9.0" textLength="4.6" lengthAdjust="spacingAndGlyphs" stroke="#000" stroke-width="0.35">3</text>
<text transform="translate(1000.30,248.20) skewX(-10)" font-size="10.4" textLength="8.2" lengthAdjust="spacingAndGlyphs" stroke="#000" stroke-width="0.35">10</text>
<text transform="translate(1009.90,242.40) skewX(-10)" font-size="9.0" textLength="4.6" lengthAdjust="spacingAndGlyphs" stroke="#000" stroke-width="0.35">2</text>
<text transform="translate(1000.30,293.35) skewX(-10)" font-size="10.4" textLength="8.2" lengthAdjust="spacingAndGlyphs" stroke="#000" stroke-width="0.35">10</text>
<text transform="translate(1009.90,287.55) skewX(-10)" font-size="9.0" textLength="4.6" lengthAdjust="spacingAndGlyphs" stroke="#000" stroke-width="0.35">1</text>
<text transform="translate(1030.10,331.40) skewX(-10)" font-size="9.6" textLength="8.4" lengthAdjust="spacingAndGlyphs" stroke="#000" stroke-width="0.35">10</text>
<text transform="translate(1039.10,325.50) skewX(-10)" font-size="8.2" textLength="4.6" lengthAdjust="spacingAndGlyphs" stroke="#000" stroke-width="0.35">0</text>
<text transform="translate(1067.60,331.40) skewX(-10)" font-size="9.6" textLength="8.4" lengthAdjust="spacingAndGlyphs" stroke="#000" stroke-width="0.35">10</text>
<text transform="translate(1076.60,325.50) skewX(-10)" font-size="8.2" textLength="4.6" lengthAdjust="spacingAndGlyphs" stroke="#000" stroke-width="0.35">1</text>
<text transform="translate(1108.90,331.40) skewX(-10)" font-size="9.6" textLength="8.4" lengthAdjust="spacingAndGlyphs" stroke="#000" stroke-width="0.35">10</text>
<text transform="translate(1117.90,325.50) skewX(-10)" font-size="8.2" textLength="4.6" lengthAdjust="spacingAndGlyphs" stroke="#000" stroke-width="0.35">2</text>
<text transform="translate(1150.20,331.40) skewX(-10)" font-size="9.6" textLength="8.4" lengthAdjust="spacingAndGlyphs" stroke="#000" stroke-width="0.35">10</text>
<text transform="translate(1159.20,325.50) skewX(-10)" font-size="8.2" textLength="4.6" lengthAdjust="spacingAndGlyphs" stroke="#000" stroke-width="0.35">3</text>
<text transform="translate(1191.50,331.40) skewX(-10)" font-size="9.6" textLength="8.4" lengthAdjust="spacingAndGlyphs" stroke="#000" stroke-width="0.35">10</text>
<text transform="translate(1200.50,325.50) skewX(-10)" font-size="8.2" textLength="4.6" lengthAdjust="spacingAndGlyphs" stroke="#000" stroke-width="0.35">4</text>
<text transform="translate(1232.80,331.40) skewX(-10)" font-size="9.6" textLength="8.4" lengthAdjust="spacingAndGlyphs" stroke="#000" stroke-width="0.35">10</text>
<text transform="translate(1241.80,325.50) skewX(-10)" font-size="8.2" textLength="4.6" lengthAdjust="spacingAndGlyphs" stroke="#000" stroke-width="0.35">5</text>
<text transform="translate(1261.50,331.40) skewX(-10)" font-size="9.6" textLength="8.4" lengthAdjust="spacingAndGlyphs" stroke="#000" stroke-width="0.35">10</text>
<text transform="translate(1270.50,325.50) skewX(-10)" font-size="8.2" textLength="4.6" lengthAdjust="spacingAndGlyphs" stroke="#000" stroke-width="0.35">6</text>
<text x="1029.2" y="80.2" font-size="10.61" text-anchor="start" fill="#000" stroke="#000" stroke-width="0.35">0,13</text>
<text x="1259.1" y="80.2" font-size="10.61" text-anchor="end" fill="#000" stroke="#000" stroke-width="0.35">0,19</text>
<text x="1029.2" y="299.0" font-size="10.61" text-anchor="start" fill="#000" stroke="#000" stroke-width="0.35">97,3</text>
<text x="1259.1" y="299.0" font-size="10.61" text-anchor="end" fill="#000" stroke="#000" stroke-width="0.35">2,35</text>
<rect x="136.4" y="484.3" width="469.6" height="53.2" rx="5.5" fill="#fff" stroke="#000" stroke-width="4"/>
<rect x="147.3" y="493.9" width="35.2" height="35.5" rx="1.5" fill="#b1b1b1" stroke="#000" stroke-width="2.3"/>
<rect x="149.05" y="495.65" width="31.70" height="32.60" fill="none" stroke="#d4d4d4" stroke-width="1.4"/>
<rect x="368.7" y="493.7" width="36.3" height="36.3" rx="1.5" fill="#444444" stroke="#000" stroke-width="2.3"/>
<rect x="370.45" y="495.45" width="32.80" height="33.40" fill="none" stroke="#555" stroke-width="1.4"/>
<line x1="97.50" y1="597.40" x2="656.50" y2="597.40" stroke="#858585" stroke-width="1.5" stroke-linecap="butt"/>
<line x1="97.50" y1="651.20" x2="656.50" y2="651.20" stroke="#858585" stroke-width="1.5" stroke-linecap="butt"/>
<line x1="97.50" y1="700.60" x2="656.50" y2="700.60" stroke="#858585" stroke-width="1.5" stroke-linecap="butt"/>
<line x1="97.50" y1="754.40" x2="656.50" y2="754.40" stroke="#858585" stroke-width="1.5" stroke-linecap="butt"/>
<line x1="97.50" y1="803.50" x2="656.50" y2="803.50" stroke="#858585" stroke-width="1.5" stroke-linecap="butt"/>
<line x1="97.50" y1="857.50" x2="656.50" y2="857.50" stroke="#858585" stroke-width="1.5" stroke-linecap="butt"/>
<line x1="97.50" y1="906.90" x2="656.50" y2="906.90" stroke="#858585" stroke-width="1.5" stroke-linecap="butt"/>
<line x1="97.50" y1="960.80" x2="656.50" y2="960.80" stroke="#858585" stroke-width="1.5" stroke-linecap="butt"/>
<rect x="116.1" y="970.0" width="35.9" height="38.5" rx="1.5" fill="#b1b1b1" stroke="#000" stroke-width="2.3"/>
<rect x="117.85" y="971.75" width="32.40" height="35.60" fill="none" stroke="#d0d0d0" stroke-width="1.4"/>
<rect x="151.8" y="639.7" width="35.8" height="368.8" rx="1.5" fill="#444444" stroke="#000" stroke-width="2.3"/>
<rect x="153.55" y="641.45" width="32.30" height="365.90" fill="none" stroke="#4c4c4c" stroke-width="1.4"/>
<rect x="202.1" y="613.1" width="35.2" height="395.4" rx="1.5" fill="#b1b1b1" stroke="#000" stroke-width="2.3"/>
<rect x="203.85" y="614.85" width="31.70" height="392.50" fill="none" stroke="#d0d0d0" stroke-width="1.4"/>
<rect x="237.1" y="995.8" width="37.3" height="12.7" rx="1.5" fill="#444444" stroke="#000" stroke-width="2.3"/>
<rect x="238.85" y="997.55" width="33.80" height="9.80" fill="none" stroke="#4c4c4c" stroke-width="1.4"/>
<rect x="304.8" y="613.0" width="35.7" height="395.5" rx="1.5" fill="#b1b1b1" stroke="#000" stroke-width="2.3"/>
<rect x="306.55" y="614.75" width="32.20" height="392.60" fill="none" stroke="#d0d0d0" stroke-width="1.4"/>
<rect x="340.3" y="993.0" width="35.3" height="15.5" rx="1.5" fill="#444444" stroke="#000" stroke-width="2.3"/>
<rect x="342.05" y="994.75" width="31.80" height="12.60" fill="none" stroke="#4c4c4c" stroke-width="1.4"/>
<rect x="391.0" y="635.6" width="35.2" height="372.9" rx="1.5" fill="#b1b1b1" stroke="#000" stroke-width="2.3"/>
<rect x="392.75" y="637.35" width="31.70" height="370.00" fill="none" stroke="#d0d0d0" stroke-width="1.4"/>
<rect x="426.0" y="971.8" width="35.6" height="36.7" rx="1.5" fill="#444444" stroke="#000" stroke-width="2.3"/>
<rect x="427.75" y="973.55" width="32.10" height="33.80" fill="none" stroke="#4c4c4c" stroke-width="1.4"/>
<rect x="476.8" y="621.0" width="35.7" height="387.5" rx="1.5" fill="#b1b1b1" stroke="#000" stroke-width="2.3"/>
<rect x="478.55" y="622.75" width="32.20" height="384.60" fill="none" stroke="#d0d0d0" stroke-width="1.4"/>
<rect x="512.3" y="985.3" width="36.2" height="23.2" rx="1.5" fill="#444444" stroke="#000" stroke-width="2.3"/>
<rect x="514.05" y="987.05" width="32.70" height="20.30" fill="none" stroke="#4c4c4c" stroke-width="1.4"/>
<rect x="563.0" y="624.8" width="35.5" height="383.7" rx="1.5" fill="#b1b1b1" stroke="#000" stroke-width="2.3"/>
<rect x="564.75" y="626.55" width="32.00" height="380.80" fill="none" stroke="#d0d0d0" stroke-width="1.4"/>
<rect x="598.3" y="982.5" width="36.4" height="26.0" rx="1.5" fill="#444444" stroke="#000" stroke-width="2.3"/>
<rect x="600.05" y="984.25" width="32.90" height="23.10" fill="none" stroke="#4c4c4c" stroke-width="1.4"/>
<line x1="133.20" y1="962.20" x2="133.20" y2="977.50" stroke="#000" stroke-width="2.1" stroke-linecap="butt"/>
<line x1="124.00" y1="962.20" x2="142.40" y2="962.20" stroke="#000" stroke-width="2.2" stroke-linecap="round"/>
<line x1="124.00" y1="977.50" x2="142.40" y2="977.50" stroke="#000" stroke-width="2.2" stroke-linecap="round"/>
<line x1="169.70" y1="632.00" x2="169.70" y2="647.80" stroke="#000" stroke-width="2.1" stroke-linecap="butt"/>
<line x1="160.40" y1="632.00" x2="179.00" y2="632.00" stroke="#000" stroke-width="2.2" stroke-linecap="round"/>
<line x1="160.40" y1="647.80" x2="179.00" y2="647.80" stroke="#000" stroke-width="2.2" stroke-linecap="round"/>
<line x1="220.25" y1="606.60" x2="220.25" y2="621.80" stroke="#000" stroke-width="2.1" stroke-linecap="butt"/>
<line x1="211.40" y1="606.60" x2="229.10" y2="606.60" stroke="#000" stroke-width="2.2" stroke-linecap="round"/>
<line x1="211.40" y1="621.80" x2="229.10" y2="621.80" stroke="#000" stroke-width="2.2" stroke-linecap="round"/>
<line x1="256.40" y1="987.60" x2="256.40" y2="1002.80" stroke="#000" stroke-width="2.1" stroke-linecap="butt"/>
<line x1="246.80" y1="987.60" x2="266.00" y2="987.60" stroke="#000" stroke-width="2.2" stroke-linecap="round"/>
<line x1="246.80" y1="1002.80" x2="266.00" y2="1002.80" stroke="#000" stroke-width="2.2" stroke-linecap="round"/>
<line x1="322.55" y1="606.20" x2="322.55" y2="616.60" stroke="#000" stroke-width="2.1" stroke-linecap="butt"/>
<line x1="313.30" y1="606.20" x2="331.80" y2="606.20" stroke="#000" stroke-width="2.2" stroke-linecap="round"/>
<line x1="313.30" y1="616.60" x2="331.80" y2="616.60" stroke="#000" stroke-width="2.2" stroke-linecap="round"/>
<line x1="358.25" y1="985.50" x2="358.25" y2="995.70" stroke="#000" stroke-width="2.1" stroke-linecap="butt"/>
<line x1="348.70" y1="985.50" x2="367.80" y2="985.50" stroke="#000" stroke-width="2.2" stroke-linecap="round"/>
<line x1="348.70" y1="995.70" x2="367.80" y2="995.70" stroke="#000" stroke-width="2.2" stroke-linecap="round"/>
<line x1="408.70" y1="624.30" x2="408.70" y2="647.20" stroke="#000" stroke-width="2.1" stroke-linecap="butt"/>
<line x1="399.50" y1="624.30" x2="417.90" y2="624.30" stroke="#000" stroke-width="2.2" stroke-linecap="round"/>
<line x1="399.50" y1="647.20" x2="417.90" y2="647.20" stroke="#000" stroke-width="2.2" stroke-linecap="round"/>
<line x1="444.05" y1="962.00" x2="444.05" y2="984.90" stroke="#000" stroke-width="2.1" stroke-linecap="butt"/>
<line x1="434.80" y1="962.00" x2="453.30" y2="962.00" stroke="#000" stroke-width="2.2" stroke-linecap="round"/>
<line x1="434.80" y1="984.90" x2="453.30" y2="984.90" stroke="#000" stroke-width="2.2" stroke-linecap="round"/>
<line x1="494.45" y1="614.20" x2="494.45" y2="624.60" stroke="#000" stroke-width="2.1" stroke-linecap="butt"/>
<line x1="485.30" y1="614.20" x2="503.60" y2="614.20" stroke="#000" stroke-width="2.2" stroke-linecap="round"/>
<line x1="485.30" y1="624.60" x2="503.60" y2="624.60" stroke="#000" stroke-width="2.2" stroke-linecap="round"/>
<line x1="531.15" y1="978.50" x2="531.15" y2="989.50" stroke="#000" stroke-width="2.1" stroke-linecap="butt"/>
<line x1="521.80" y1="978.50" x2="540.50" y2="978.50" stroke="#000" stroke-width="2.2" stroke-linecap="round"/>
<line x1="521.80" y1="989.50" x2="540.50" y2="989.50" stroke="#000" stroke-width="2.2" stroke-linecap="round"/>
<line x1="581.20" y1="620.80" x2="581.20" y2="630.80" stroke="#000" stroke-width="2.1" stroke-linecap="butt"/>
<line x1="572.20" y1="620.80" x2="590.20" y2="620.80" stroke="#000" stroke-width="2.2" stroke-linecap="round"/>
<line x1="572.20" y1="630.80" x2="590.20" y2="630.80" stroke="#000" stroke-width="2.2" stroke-linecap="round"/>
<line x1="616.90" y1="975.70" x2="616.90" y2="985.80" stroke="#000" stroke-width="2.1" stroke-linecap="butt"/>
<line x1="607.60" y1="975.70" x2="626.20" y2="975.70" stroke="#000" stroke-width="2.2" stroke-linecap="round"/>
<line x1="607.60" y1="985.80" x2="626.20" y2="985.80" stroke="#000" stroke-width="2.2" stroke-linecap="round"/>
<rect x="96" y="548" width="562" height="461" fill="none" stroke="#000" stroke-width="4"/>
<text transform="translate(36.6,884) rotate(-90)" font-size="36.3" font-weight="bold" textLength="181" lengthAdjust="spacingAndGlyphs">Cell ratio (%)</text>
<text transform="translate(92.4,1093.2) rotate(-29.5)" font-size="33.14" font-weight="bold" textLength="79.5" lengthAdjust="spacingAndGlyphs" stroke="#000" stroke-width="0.45">DMEM</text>
<text transform="translate(79.3,1146.2) rotate(-29.5)" font-size="33.14" font-weight="bold" textLength="199.5" lengthAdjust="spacingAndGlyphs" stroke="#000" stroke-width="0.45">DMEM + 5% hPL</text>
<line x1="963.50" y1="605.00" x2="1269.00" y2="605.00" stroke="#858585" stroke-width="1.5" stroke-linecap="butt"/>
<line x1="963.50" y1="659.00" x2="1269.00" y2="659.00" stroke="#858585" stroke-width="1.5" stroke-linecap="butt"/>
<line x1="963.50" y1="708.60" x2="1269.00" y2="708.60" stroke="#858585" stroke-width="1.5" stroke-linecap="butt"/>
<line x1="963.50" y1="762.30" x2="1269.00" y2="762.30" stroke="#858585" stroke-width="1.5" stroke-linecap="butt"/>
<line x1="963.50" y1="811.50" x2="1269.00" y2="811.50" stroke="#858585" stroke-width="1.5" stroke-linecap="butt"/>
<line x1="963.50" y1="865.20" x2="1269.00" y2="865.20" stroke="#858585" stroke-width="1.5" stroke-linecap="butt"/>
<line x1="963.50" y1="914.50" x2="1269.00" y2="914.50" stroke="#858585" stroke-width="1.5" stroke-linecap="butt"/>
<line x1="963.50" y1="968.30" x2="1269.00" y2="968.30" stroke="#858585" stroke-width="1.5" stroke-linecap="butt"/>
<rect x="981.3" y="721.3" width="40.2" height="294.7" rx="1.5" fill="#b1b1b1" stroke="#000" stroke-width="2.3"/>
<rect x="983.05" y="723.05" width="36.70" height="291.80" fill="none" stroke="#d0d0d0" stroke-width="1.4"/>
<rect x="1057.5" y="702.7" width="40.1" height="313.3" rx="1.5" fill="#b1b1b1" stroke="#000" stroke-width="2.3"/>
<rect x="1059.25" y="704.45" width="36.60" height="310.40" fill="none" stroke="#d0d0d0" stroke-width="1.4"/>
<rect x="1133.2" y="729.3" width="41.1" height="286.7" rx="1.5" fill="#b1b1b1" stroke="#000" stroke-width="2.3"/>
<rect x="1134.95" y="731.05" width="37.60" height="283.80" fill="none" stroke="#d0d0d0" stroke-width="1.4"/>
<rect x="1210.0" y="690.8" width="39.9" height="325.2" rx="1.5" fill="#b1b1b1" stroke="#000" stroke-width="2.3"/>
<rect x="1211.75" y="692.55" width="36.40" height="322.30" fill="none" stroke="#d0d0d0" stroke-width="1.4"/>
<line x1="1001.15" y1="705.00" x2="1001.15" y2="735.60" stroke="#000" stroke-width="2" stroke-linecap="butt"/>
<line x1="992.00" y1="705.00" x2="1010.30" y2="705.00" stroke="#000" stroke-width="2.2" stroke-linecap="round"/>
<line x1="992.00" y1="735.60" x2="1010.30" y2="735.60" stroke="#000" stroke-width="2.2" stroke-linecap="round"/>
<line x1="1077.60" y1="675.00" x2="1077.60" y2="731.60" stroke="#000" stroke-width="2" stroke-linecap="butt"/>
<line x1="1068.60" y1="675.00" x2="1086.60" y2="675.00" stroke="#000" stroke-width="2.2" stroke-linecap="round"/>
<line x1="1068.60" y1="731.60" x2="1086.60" y2="731.60" stroke="#000" stroke-width="2.2" stroke-linecap="round"/>
<line x1="1153.65" y1="715.40" x2="1153.65" y2="746.10" stroke="#000" stroke-width="2" stroke-linecap="butt"/>
<line x1="1144.00" y1="715.40" x2="1163.30" y2="715.40" stroke="#000" stroke-width="2.2" stroke-linecap="round"/>
<line x1="1144.00" y1="746.10" x2="1163.30" y2="746.10" stroke="#000" stroke-width="2.2" stroke-linecap="round"/>
<line x1="1230.15" y1="668.60" x2="1230.15" y2="721.50" stroke="#000" stroke-width="2" stroke-linecap="butt"/>
<line x1="1220.90" y1="668.60" x2="1239.40" y2="668.60" stroke="#000" stroke-width="2.2" stroke-linecap="round"/>
<line x1="1220.90" y1="721.50" x2="1239.40" y2="721.50" stroke="#000" stroke-width="2.2" stroke-linecap="round"/>
<rect x="961.5" y="558.4" width="309.1" height="458.7" fill="none" stroke="#000" stroke-width="3.8"/>
<text transform="translate(906,1011) rotate(-90)" font-size="38.08" font-weight="bold" textLength="418" lengthAdjust="spacingAndGlyphs">WJ-MSCs number (x10<tspan font-size="25" dy="-11">4</tspan><tspan dy="11">)</tspan></text>
<text x="1.6" y="32.5" font-size="43.86" font-weight="bold" text-anchor="start" textLength="31.6" lengthAdjust="spacingAndGlyphs" fill="#000">A</text>
<text x="-0.2" y="467.5" font-size="42.97" font-weight="bold" text-anchor="start" textLength="30.1" lengthAdjust="spacingAndGlyphs" fill="#000">B</text>
<text x="797.1" y="468.9" font-size="44.46" font-weight="bold" text-anchor="start" textLength="30.2" lengthAdjust="spacingAndGlyphs" fill="#000">C</text>
<text x="183.2" y="52.7" font-size="31.12" text-anchor="start" textLength="53.2" lengthAdjust="spacingAndGlyphs" fill="#000" stroke="#000" stroke-width="1.3">CM1</text>
<text x="494.0" y="52.6" font-size="31.01" text-anchor="start" textLength="56.1" lengthAdjust="spacingAndGlyphs" fill="#000" stroke="#000" stroke-width="1.3">CM2</text>
<text x="814.6" y="52.7" font-size="31.19" text-anchor="start" textLength="56.9" lengthAdjust="spacingAndGlyphs" fill="#000" stroke="#000" stroke-width="1.3">CM3</text>
<text x="1111.6" y="52.6" font-size="30.93" text-anchor="start" textLength="55.9" lengthAdjust="spacingAndGlyphs" fill="#000" stroke="#000" stroke-width="1.3">CM4</text>
<text x="588.1" y="384.2" font-size="28.72" text-anchor="start" textLength="198.3" lengthAdjust="spacingAndGlyphs" fill="#000" stroke="#000" stroke-width="1.2">Annexin-V-FITC</text>
<text x="196.7" y="522.8" font-size="30.13" text-anchor="start" textLength="133.9" lengthAdjust="spacingAndGlyphs" fill="#000" stroke="#000" stroke-width="0.95">viable cells</text>
<text x="416.6" y="522.5" font-size="30.88" text-anchor="start" textLength="176.2" lengthAdjust="spacingAndGlyphs" fill="#000" stroke="#000" stroke-width="0.95">apoptotic cells</text>
<text x="53.1" y="610.2" font-size="23.92" text-anchor="start" textLength="35.6" lengthAdjust="spacingAndGlyphs" fill="#000" stroke="#000" stroke-width="0.8">100</text>
<text x="65.1" y="710.5" font-size="23.61" text-anchor="start" textLength="23.8" lengthAdjust="spacingAndGlyphs" fill="#000" stroke="#000" stroke-width="0.8">75</text>
<text x="65.3" y="813.2" font-size="23.94" text-anchor="start" textLength="23.5" lengthAdjust="spacingAndGlyphs" fill="#000" stroke="#000" stroke-width="0.8">50</text>
<text x="64.9" y="916.9" font-size="23.27" text-anchor="start" textLength="24.0" lengthAdjust="spacingAndGlyphs" fill="#000" stroke="#000" stroke-width="0.8">25</text>
<text x="77.1" y="1019.6" font-size="23.50" text-anchor="start" textLength="11.7" lengthAdjust="spacingAndGlyphs" fill="#000" stroke="#000" stroke-width="0.8">0</text>
<text x="312.6" y="1053.1" font-size="31.35" text-anchor="start" textLength="51.3" lengthAdjust="spacingAndGlyphs" fill="#000" stroke="#000" stroke-width="1.0">CM1</text>
<text x="400.8" y="1053.0" font-size="31.36" text-anchor="start" textLength="54.6" lengthAdjust="spacingAndGlyphs" fill="#000" stroke="#000" stroke-width="1.0">CM2</text>
<text x="488.8" y="1052.9" font-size="31.31" text-anchor="start" textLength="55.2" lengthAdjust="spacingAndGlyphs" fill="#000" stroke="#000" stroke-width="1.0">CM5</text>
<text x="577.5" y="1052.9" font-size="31.11" text-anchor="start" textLength="54.1" lengthAdjust="spacingAndGlyphs" fill="#000" stroke="#000" stroke-width="1.0">CM6</text>
<text x="931.9" y="618.2" font-size="23.42" text-anchor="start" textLength="23.0" lengthAdjust="spacingAndGlyphs" fill="#000" stroke="#000" stroke-width="0.8">60</text>
<text x="931.7" y="718.1" font-size="22.77" text-anchor="start" textLength="22.9" lengthAdjust="spacingAndGlyphs" fill="#000" stroke="#000" stroke-width="0.8">45</text>
<text x="931.7" y="821.5" font-size="23.01" text-anchor="start" textLength="22.9" lengthAdjust="spacingAndGlyphs" fill="#000" stroke="#000" stroke-width="0.8">30</text>
<text x="931.4" y="924.4" font-size="23.57" text-anchor="start" textLength="23.3" lengthAdjust="spacingAndGlyphs" fill="#000" stroke="#000" stroke-width="0.8">15</text>
<text x="947.4" y="1019.2" font-size="21.72" text-anchor="start" textLength="11.1" lengthAdjust="spacingAndGlyphs" fill="#000" stroke="#000" stroke-width="0.8">0</text>
<text x="974.7" y="1057.1" font-size="30.43" text-anchor="start" textLength="51.6" lengthAdjust="spacingAndGlyphs" fill="#000" stroke="#000" stroke-width="1.0">CM1</text>
<text x="1050.8" y="1057.0" font-size="30.44" text-anchor="start" textLength="54.5" lengthAdjust="spacingAndGlyphs" fill="#000" stroke="#000" stroke-width="1.0">CM2</text>
<text x="1126.5" y="1056.9" font-size="30.21" text-anchor="start" textLength="55.3" lengthAdjust="spacingAndGlyphs" fill="#000" stroke="#000" stroke-width="1.0">CM5</text>
<text x="1202.4" y="1057.1" font-size="30.24" text-anchor="start" textLength="54.2" lengthAdjust="spacingAndGlyphs" fill="#000" stroke="#000" stroke-width="1.0">CM6</text>
</svg>
</body></html>
